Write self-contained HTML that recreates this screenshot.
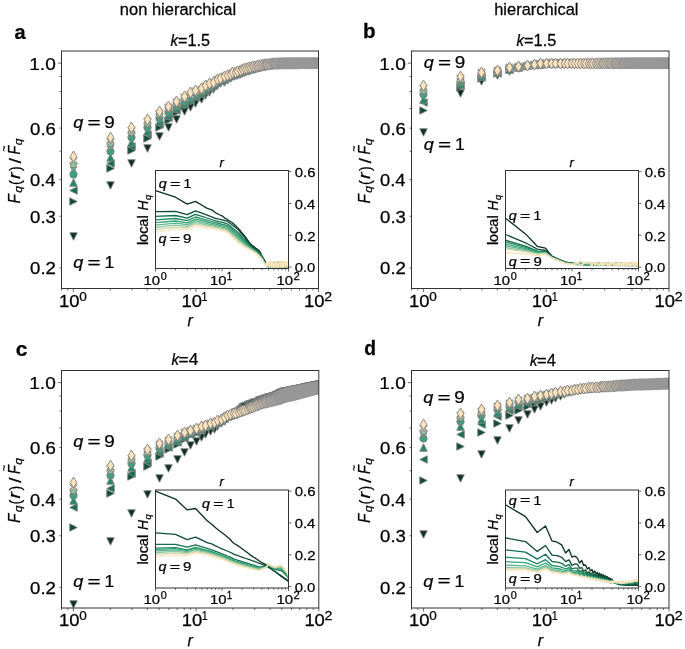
<!DOCTYPE html>
<html><head><meta charset="utf-8"><style>
html,body{margin:0;padding:0;background:#fff;width:685px;height:649px;overflow:hidden;}
svg{display:block;will-change:transform;}
text{font-family:'Liberation Sans',sans-serif;stroke:#000;stroke-width:0.25px;}
</style></head><body>
<svg width="685" height="649" viewBox="0 0 685 649"><defs>
<path id="m0" d="M0,3.75L-3.75,-3.75L3.75,-3.75Z" fill="#0b2f22" stroke="#808080" stroke-width="0.9"/>
<path id="m1" d="M3.75,0L-3.75,-3.75L-3.75,3.75Z" fill="#0d4d35" stroke="#808080" stroke-width="0.9"/>
<path id="m2" d="M-3.75,0L3.75,-3.75L3.75,3.75Z" fill="#15704f" stroke="#808080" stroke-width="0.9"/>
<path id="m3" d="M0,-3.75L-3.75,3.75L3.75,3.75Z" fill="#1f8c61" stroke="#808080" stroke-width="0.9"/>
<path id="m4" d="M3.70,0A3.70,3.70 0 1 0 -3.70,0A3.70,3.70 0 1 0 3.70,0Z" fill="#36a57b" stroke="#808080" stroke-width="0.9"/>
<path id="m5" d="M0.00,-3.75L0.84,-1.16L3.57,-1.16L1.36,0.44L2.20,3.03L0.00,1.43L-2.20,3.03L-1.36,0.44L-3.57,-1.16L-0.84,-1.16Z" fill="#5db58b" stroke="#808080" stroke-width="0.9"/>
<path id="m6" d="M0.00,-3.75L3.57,-1.16L2.20,3.03L-2.20,3.03L-3.57,-1.16Z" fill="#8ec59c" stroke="#808080" stroke-width="0.9"/>
<path id="m7" d="M1.31,0.00L3.75,-2.70L2.70,-3.75L0.00,-1.31L-2.70,-3.75L-3.75,-2.70L-1.31,0.00L-3.75,2.70L-2.70,3.75L0.00,1.31L2.70,3.75L3.75,2.70Z" fill="#c8d8ae" stroke="#808080" stroke-width="0.9"/>
<path id="m8" d="M0,-5.52L3.31,0L0,5.52L-3.31,0Z" fill="#ffe3bb" stroke="#808080" stroke-width="0.9"/>
<clipPath id="clipa"><rect x="61.50" y="51.00" width="257.00" height="237.50"/></clipPath>
<clipPath id="iclipa"><rect x="155.50" y="170.50" width="133.00" height="98.00"/></clipPath>
<clipPath id="clipb"><rect x="411.50" y="51.00" width="257.50" height="237.50"/></clipPath>
<clipPath id="iclipb"><rect x="505.50" y="170.50" width="133.00" height="98.00"/></clipPath>
<clipPath id="clipc"><rect x="61.50" y="370.50" width="257.30" height="237.50"/></clipPath>
<clipPath id="iclipc"><rect x="155.50" y="490.00" width="133.00" height="98.00"/></clipPath>
<clipPath id="clipd"><rect x="411.50" y="370.50" width="257.50" height="237.50"/></clipPath>
<clipPath id="iclipd"><rect x="505.50" y="490.00" width="133.00" height="98.00"/></clipPath>
</defs>
<g clip-path="url(#clipa)">
<use href="#m0" x="73.5" y="236.5"/>
<use href="#m0" x="110.5" y="185.5"/>
<use href="#m0" x="131.5" y="163.5"/>
<use href="#m0" x="147.5" y="148.5"/>
<use href="#m0" x="159.5" y="136.5"/>
<use href="#m0" x="168.5" y="127.5"/>
<use href="#m0" x="176.5" y="119.5"/>
<use href="#m0" x="184.5" y="111.5"/>
<use href="#m0" x="190.5" y="107.5"/>
<use href="#m0" x="195.5" y="103.5"/>
<use href="#m0" x="201.5" y="99.5"/>
<use href="#m0" x="205.5" y="95.5"/>
<use href="#m0" x="209.5" y="92.5"/>
<use href="#m0" x="213.5" y="89.5"/>
<use href="#m0" x="217.5" y="85.5"/>
<use href="#m0" x="220.5" y="83.5"/>
<use href="#m0" x="224.5" y="82.5"/>
<use href="#m0" x="227.5" y="80.5"/>
<use href="#m0" x="230.5" y="78.5"/>
<use href="#m0" x="232.5" y="76.5"/>
<use href="#m0" x="235.5" y="75.5"/>
<use href="#m0" x="237.5" y="75.5"/>
<use href="#m0" x="240.5" y="74.5"/>
<use href="#m0" x="242.5" y="73.5"/>
<use href="#m0" x="244.5" y="72.5"/>
<use href="#m0" x="246.5" y="71.5"/>
<use href="#m0" x="248.5" y="71.5"/>
<use href="#m0" x="250.5" y="70.5"/>
<use href="#m0" x="252.5" y="69.5"/>
<use href="#m0" x="254.5" y="69.5"/>
<use href="#m0" x="256.5" y="68.5"/>
<use href="#m0" x="257.5" y="68.5"/>
<use href="#m0" x="259.5" y="67.5"/>
<use href="#m0" x="261.5" y="67.5"/>
<use href="#m0" x="262.5" y="66.5"/>
<use href="#m0" x="264.5" y="66.5"/>
<use href="#m0" x="265.5" y="66.5"/>
<use href="#m0" x="266.5" y="66.5"/>
<use href="#m0" x="268.5" y="65.5"/>
<use href="#m0" x="269.5" y="65.5"/>
<use href="#m0" x="271.5" y="65.5"/>
<use href="#m0" x="272.5" y="65.5"/>
<use href="#m0" x="273.5" y="64.5"/>
<use href="#m0" x="274.5" y="64.5"/>
<use href="#m0" x="275.5" y="64.5"/>
<use href="#m0" x="277.5" y="64.5"/>
<use href="#m0" x="278.5" y="64.5"/>
<use href="#m0" x="279.5" y="64.5"/>
<use href="#m0" x="280.5" y="64.5"/>
<use href="#m0" x="281.5" y="64.5"/>
<use href="#m0" x="282.5" y="63.5"/>
<use href="#m0" x="283.5" y="63.5"/>
<use href="#m0" x="284.5" y="63.5"/>
<use href="#m0" x="285.5" y="63.5"/>
<use href="#m0" x="286.5" y="63.5"/>
<use href="#m0" x="287.5" y="63.5"/>
<use href="#m0" x="288.5" y="63.5"/>
<use href="#m0" x="289.5" y="63.5"/>
<use href="#m0" x="290.5" y="63.5"/>
<use href="#m0" x="291.5" y="63.5"/>
<use href="#m0" x="292.5" y="63.5"/>
<use href="#m0" x="293.5" y="63.5"/>
<use href="#m0" x="293.5" y="63.5"/>
<use href="#m0" x="294.5" y="63.5"/>
<use href="#m0" x="295.5" y="63.5"/>
<use href="#m0" x="296.5" y="63.5"/>
<use href="#m0" x="297.5" y="63.5"/>
<use href="#m0" x="297.5" y="63.5"/>
<use href="#m0" x="298.5" y="63.5"/>
<use href="#m0" x="299.5" y="63.5"/>
<use href="#m0" x="300.5" y="63.5"/>
<use href="#m0" x="301.5" y="63.5"/>
<use href="#m0" x="301.5" y="63.5"/>
<use href="#m0" x="302.5" y="63.5"/>
<use href="#m0" x="303.5" y="63.5"/>
<use href="#m0" x="303.5" y="63.5"/>
<use href="#m0" x="304.5" y="63.5"/>
<use href="#m0" x="305.5" y="63.5"/>
<use href="#m0" x="305.5" y="63.5"/>
<use href="#m0" x="306.5" y="63.5"/>
<use href="#m0" x="307.5" y="63.5"/>
<use href="#m0" x="307.5" y="63.5"/>
<use href="#m0" x="308.5" y="63.5"/>
<use href="#m0" x="309.5" y="63.5"/>
<use href="#m0" x="309.5" y="63.5"/>
<use href="#m0" x="310.5" y="63.5"/>
<use href="#m0" x="311.5" y="63.5"/>
<use href="#m0" x="311.5" y="63.5"/>
<use href="#m0" x="312.5" y="63.5"/>
<use href="#m0" x="312.5" y="63.5"/>
<use href="#m0" x="313.5" y="63.5"/>
<use href="#m0" x="314.5" y="63.5"/>
<use href="#m0" x="314.5" y="63.5"/>
<use href="#m0" x="315.5" y="63.5"/>
<use href="#m0" x="315.5" y="63.5"/>
<use href="#m0" x="316.5" y="63.5"/>
<use href="#m0" x="316.5" y="63.5"/>
<use href="#m0" x="317.5" y="63.5"/>
<use href="#m0" x="317.5" y="63.5"/>
<use href="#m0" x="318.5" y="63.5"/>
<use href="#m0" x="319.5" y="63.5"/>
<use href="#m0" x="319.5" y="63.5"/>
<use href="#m0" x="320.5" y="63.5"/>
<use href="#m0" x="320.5" y="63.5"/>
<use href="#m0" x="321.5" y="63.5"/>
<use href="#m0" x="321.5" y="63.5"/>
<use href="#m0" x="322.5" y="63.5"/>
<use href="#m0" x="322.5" y="63.5"/>
<use href="#m0" x="323.5" y="63.5"/>
<use href="#m0" x="323.5" y="63.5"/>
<use href="#m1" x="73.5" y="201.5"/>
<use href="#m1" x="110.5" y="168.5"/>
<use href="#m1" x="131.5" y="150.5"/>
<use href="#m1" x="147.5" y="138.5"/>
<use href="#m1" x="159.5" y="127.5"/>
<use href="#m1" x="168.5" y="120.5"/>
<use href="#m1" x="176.5" y="112.5"/>
<use href="#m1" x="184.5" y="106.5"/>
<use href="#m1" x="190.5" y="102.5"/>
<use href="#m1" x="195.5" y="98.5"/>
<use href="#m1" x="201.5" y="95.5"/>
<use href="#m1" x="205.5" y="92.5"/>
<use href="#m1" x="209.5" y="89.5"/>
<use href="#m1" x="213.5" y="86.5"/>
<use href="#m1" x="217.5" y="83.5"/>
<use href="#m1" x="220.5" y="81.5"/>
<use href="#m1" x="224.5" y="80.5"/>
<use href="#m1" x="227.5" y="78.5"/>
<use href="#m1" x="230.5" y="76.5"/>
<use href="#m1" x="232.5" y="75.5"/>
<use href="#m1" x="235.5" y="74.5"/>
<use href="#m1" x="237.5" y="73.5"/>
<use href="#m1" x="240.5" y="72.5"/>
<use href="#m1" x="242.5" y="72.5"/>
<use href="#m1" x="244.5" y="71.5"/>
<use href="#m1" x="246.5" y="70.5"/>
<use href="#m1" x="248.5" y="69.5"/>
<use href="#m1" x="250.5" y="69.5"/>
<use href="#m1" x="252.5" y="68.5"/>
<use href="#m1" x="254.5" y="68.5"/>
<use href="#m1" x="256.5" y="67.5"/>
<use href="#m1" x="257.5" y="67.5"/>
<use href="#m1" x="259.5" y="66.5"/>
<use href="#m1" x="261.5" y="66.5"/>
<use href="#m1" x="262.5" y="66.5"/>
<use href="#m1" x="264.5" y="65.5"/>
<use href="#m1" x="265.5" y="65.5"/>
<use href="#m1" x="266.5" y="65.5"/>
<use href="#m1" x="268.5" y="65.5"/>
<use href="#m1" x="269.5" y="64.5"/>
<use href="#m1" x="271.5" y="64.5"/>
<use href="#m1" x="272.5" y="64.5"/>
<use href="#m1" x="273.5" y="64.5"/>
<use href="#m1" x="274.5" y="64.5"/>
<use href="#m1" x="275.5" y="64.5"/>
<use href="#m1" x="277.5" y="64.5"/>
<use href="#m1" x="278.5" y="64.5"/>
<use href="#m1" x="279.5" y="63.5"/>
<use href="#m1" x="280.5" y="63.5"/>
<use href="#m1" x="281.5" y="63.5"/>
<use href="#m1" x="282.5" y="63.5"/>
<use href="#m1" x="283.5" y="63.5"/>
<use href="#m1" x="284.5" y="63.5"/>
<use href="#m1" x="285.5" y="63.5"/>
<use href="#m1" x="286.5" y="63.5"/>
<use href="#m1" x="287.5" y="63.5"/>
<use href="#m1" x="288.5" y="63.5"/>
<use href="#m1" x="289.5" y="63.5"/>
<use href="#m1" x="290.5" y="63.5"/>
<use href="#m1" x="291.5" y="63.5"/>
<use href="#m1" x="292.5" y="63.5"/>
<use href="#m1" x="293.5" y="63.5"/>
<use href="#m1" x="293.5" y="63.5"/>
<use href="#m1" x="294.5" y="63.5"/>
<use href="#m1" x="295.5" y="63.5"/>
<use href="#m1" x="296.5" y="63.5"/>
<use href="#m1" x="297.5" y="63.5"/>
<use href="#m1" x="297.5" y="63.5"/>
<use href="#m1" x="298.5" y="63.5"/>
<use href="#m1" x="299.5" y="63.5"/>
<use href="#m1" x="300.5" y="63.5"/>
<use href="#m1" x="301.5" y="63.5"/>
<use href="#m1" x="301.5" y="63.5"/>
<use href="#m1" x="302.5" y="63.5"/>
<use href="#m1" x="303.5" y="63.5"/>
<use href="#m1" x="303.5" y="63.5"/>
<use href="#m1" x="304.5" y="63.5"/>
<use href="#m1" x="305.5" y="63.5"/>
<use href="#m1" x="305.5" y="63.5"/>
<use href="#m1" x="306.5" y="63.5"/>
<use href="#m1" x="307.5" y="63.5"/>
<use href="#m1" x="307.5" y="63.5"/>
<use href="#m1" x="308.5" y="63.5"/>
<use href="#m1" x="309.5" y="63.5"/>
<use href="#m1" x="309.5" y="63.5"/>
<use href="#m1" x="310.5" y="63.5"/>
<use href="#m1" x="311.5" y="63.5"/>
<use href="#m1" x="311.5" y="63.5"/>
<use href="#m1" x="312.5" y="63.5"/>
<use href="#m1" x="312.5" y="63.5"/>
<use href="#m1" x="313.5" y="63.5"/>
<use href="#m1" x="314.5" y="63.5"/>
<use href="#m1" x="314.5" y="63.5"/>
<use href="#m1" x="315.5" y="63.5"/>
<use href="#m1" x="315.5" y="63.5"/>
<use href="#m1" x="316.5" y="63.5"/>
<use href="#m1" x="316.5" y="63.5"/>
<use href="#m1" x="317.5" y="63.5"/>
<use href="#m1" x="317.5" y="63.5"/>
<use href="#m1" x="318.5" y="63.5"/>
<use href="#m1" x="319.5" y="63.5"/>
<use href="#m1" x="319.5" y="63.5"/>
<use href="#m1" x="320.5" y="63.5"/>
<use href="#m1" x="320.5" y="63.5"/>
<use href="#m1" x="321.5" y="63.5"/>
<use href="#m1" x="321.5" y="63.5"/>
<use href="#m1" x="322.5" y="63.5"/>
<use href="#m1" x="322.5" y="63.5"/>
<use href="#m1" x="323.5" y="63.5"/>
<use href="#m1" x="323.5" y="63.5"/>
<use href="#m2" x="73.5" y="190.5"/>
<use href="#m2" x="110.5" y="163.5"/>
<use href="#m2" x="131.5" y="146.5"/>
<use href="#m2" x="147.5" y="134.5"/>
<use href="#m2" x="159.5" y="124.5"/>
<use href="#m2" x="168.5" y="117.5"/>
<use href="#m2" x="176.5" y="110.5"/>
<use href="#m2" x="184.5" y="104.5"/>
<use href="#m2" x="190.5" y="100.5"/>
<use href="#m2" x="195.5" y="97.5"/>
<use href="#m2" x="201.5" y="94.5"/>
<use href="#m2" x="205.5" y="91.5"/>
<use href="#m2" x="209.5" y="88.5"/>
<use href="#m2" x="213.5" y="85.5"/>
<use href="#m2" x="217.5" y="82.5"/>
<use href="#m2" x="220.5" y="81.5"/>
<use href="#m2" x="224.5" y="79.5"/>
<use href="#m2" x="227.5" y="77.5"/>
<use href="#m2" x="230.5" y="76.5"/>
<use href="#m2" x="232.5" y="75.5"/>
<use href="#m2" x="235.5" y="74.5"/>
<use href="#m2" x="237.5" y="73.5"/>
<use href="#m2" x="240.5" y="72.5"/>
<use href="#m2" x="242.5" y="71.5"/>
<use href="#m2" x="244.5" y="70.5"/>
<use href="#m2" x="246.5" y="70.5"/>
<use href="#m2" x="248.5" y="69.5"/>
<use href="#m2" x="250.5" y="69.5"/>
<use href="#m2" x="252.5" y="68.5"/>
<use href="#m2" x="254.5" y="67.5"/>
<use href="#m2" x="256.5" y="67.5"/>
<use href="#m2" x="257.5" y="67.5"/>
<use href="#m2" x="259.5" y="66.5"/>
<use href="#m2" x="261.5" y="66.5"/>
<use href="#m2" x="262.5" y="65.5"/>
<use href="#m2" x="264.5" y="65.5"/>
<use href="#m2" x="265.5" y="65.5"/>
<use href="#m2" x="266.5" y="65.5"/>
<use href="#m2" x="268.5" y="65.5"/>
<use href="#m2" x="269.5" y="64.5"/>
<use href="#m2" x="271.5" y="64.5"/>
<use href="#m2" x="272.5" y="64.5"/>
<use href="#m2" x="273.5" y="64.5"/>
<use href="#m2" x="274.5" y="64.5"/>
<use href="#m2" x="275.5" y="64.5"/>
<use href="#m2" x="277.5" y="64.5"/>
<use href="#m2" x="278.5" y="63.5"/>
<use href="#m2" x="279.5" y="63.5"/>
<use href="#m2" x="280.5" y="63.5"/>
<use href="#m2" x="281.5" y="63.5"/>
<use href="#m2" x="282.5" y="63.5"/>
<use href="#m2" x="283.5" y="63.5"/>
<use href="#m2" x="284.5" y="63.5"/>
<use href="#m2" x="285.5" y="63.5"/>
<use href="#m2" x="286.5" y="63.5"/>
<use href="#m2" x="287.5" y="63.5"/>
<use href="#m2" x="288.5" y="63.5"/>
<use href="#m2" x="289.5" y="63.5"/>
<use href="#m2" x="290.5" y="63.5"/>
<use href="#m2" x="291.5" y="63.5"/>
<use href="#m2" x="292.5" y="63.5"/>
<use href="#m2" x="293.5" y="63.5"/>
<use href="#m2" x="293.5" y="63.5"/>
<use href="#m2" x="294.5" y="63.5"/>
<use href="#m2" x="295.5" y="63.5"/>
<use href="#m2" x="296.5" y="63.5"/>
<use href="#m2" x="297.5" y="63.5"/>
<use href="#m2" x="297.5" y="63.5"/>
<use href="#m2" x="298.5" y="63.5"/>
<use href="#m2" x="299.5" y="63.5"/>
<use href="#m2" x="300.5" y="63.5"/>
<use href="#m2" x="301.5" y="63.5"/>
<use href="#m2" x="301.5" y="63.5"/>
<use href="#m2" x="302.5" y="63.5"/>
<use href="#m2" x="303.5" y="63.5"/>
<use href="#m2" x="303.5" y="63.5"/>
<use href="#m2" x="304.5" y="63.5"/>
<use href="#m2" x="305.5" y="63.5"/>
<use href="#m2" x="305.5" y="63.5"/>
<use href="#m2" x="306.5" y="63.5"/>
<use href="#m2" x="307.5" y="63.5"/>
<use href="#m2" x="307.5" y="63.5"/>
<use href="#m2" x="308.5" y="63.5"/>
<use href="#m2" x="309.5" y="63.5"/>
<use href="#m2" x="309.5" y="63.5"/>
<use href="#m2" x="310.5" y="63.5"/>
<use href="#m2" x="311.5" y="63.5"/>
<use href="#m2" x="311.5" y="63.5"/>
<use href="#m2" x="312.5" y="63.5"/>
<use href="#m2" x="312.5" y="63.5"/>
<use href="#m2" x="313.5" y="63.5"/>
<use href="#m2" x="314.5" y="63.5"/>
<use href="#m2" x="314.5" y="63.5"/>
<use href="#m2" x="315.5" y="63.5"/>
<use href="#m2" x="315.5" y="63.5"/>
<use href="#m2" x="316.5" y="63.5"/>
<use href="#m2" x="316.5" y="63.5"/>
<use href="#m2" x="317.5" y="63.5"/>
<use href="#m2" x="317.5" y="63.5"/>
<use href="#m2" x="318.5" y="63.5"/>
<use href="#m2" x="319.5" y="63.5"/>
<use href="#m2" x="319.5" y="63.5"/>
<use href="#m2" x="320.5" y="63.5"/>
<use href="#m2" x="320.5" y="63.5"/>
<use href="#m2" x="321.5" y="63.5"/>
<use href="#m2" x="321.5" y="63.5"/>
<use href="#m2" x="322.5" y="63.5"/>
<use href="#m2" x="322.5" y="63.5"/>
<use href="#m2" x="323.5" y="63.5"/>
<use href="#m2" x="323.5" y="63.5"/>
<use href="#m3" x="73.5" y="182.5"/>
<use href="#m3" x="110.5" y="157.5"/>
<use href="#m3" x="131.5" y="142.5"/>
<use href="#m3" x="147.5" y="131.5"/>
<use href="#m3" x="159.5" y="121.5"/>
<use href="#m3" x="168.5" y="115.5"/>
<use href="#m3" x="176.5" y="108.5"/>
<use href="#m3" x="184.5" y="103.5"/>
<use href="#m3" x="190.5" y="99.5"/>
<use href="#m3" x="195.5" y="95.5"/>
<use href="#m3" x="201.5" y="93.5"/>
<use href="#m3" x="205.5" y="90.5"/>
<use href="#m3" x="209.5" y="87.5"/>
<use href="#m3" x="213.5" y="85.5"/>
<use href="#m3" x="217.5" y="82.5"/>
<use href="#m3" x="220.5" y="80.5"/>
<use href="#m3" x="224.5" y="78.5"/>
<use href="#m3" x="227.5" y="77.5"/>
<use href="#m3" x="230.5" y="75.5"/>
<use href="#m3" x="232.5" y="74.5"/>
<use href="#m3" x="235.5" y="73.5"/>
<use href="#m3" x="237.5" y="72.5"/>
<use href="#m3" x="240.5" y="71.5"/>
<use href="#m3" x="242.5" y="71.5"/>
<use href="#m3" x="244.5" y="70.5"/>
<use href="#m3" x="246.5" y="69.5"/>
<use href="#m3" x="248.5" y="69.5"/>
<use href="#m3" x="250.5" y="68.5"/>
<use href="#m3" x="252.5" y="68.5"/>
<use href="#m3" x="254.5" y="67.5"/>
<use href="#m3" x="256.5" y="67.5"/>
<use href="#m3" x="257.5" y="66.5"/>
<use href="#m3" x="259.5" y="66.5"/>
<use href="#m3" x="261.5" y="66.5"/>
<use href="#m3" x="262.5" y="65.5"/>
<use href="#m3" x="264.5" y="65.5"/>
<use href="#m3" x="265.5" y="65.5"/>
<use href="#m3" x="266.5" y="65.5"/>
<use href="#m3" x="268.5" y="64.5"/>
<use href="#m3" x="269.5" y="64.5"/>
<use href="#m3" x="271.5" y="64.5"/>
<use href="#m3" x="272.5" y="64.5"/>
<use href="#m3" x="273.5" y="64.5"/>
<use href="#m3" x="274.5" y="64.5"/>
<use href="#m3" x="275.5" y="64.5"/>
<use href="#m3" x="277.5" y="63.5"/>
<use href="#m3" x="278.5" y="63.5"/>
<use href="#m3" x="279.5" y="63.5"/>
<use href="#m3" x="280.5" y="63.5"/>
<use href="#m3" x="281.5" y="63.5"/>
<use href="#m3" x="282.5" y="63.5"/>
<use href="#m3" x="283.5" y="63.5"/>
<use href="#m3" x="284.5" y="63.5"/>
<use href="#m3" x="285.5" y="63.5"/>
<use href="#m3" x="286.5" y="63.5"/>
<use href="#m3" x="287.5" y="63.5"/>
<use href="#m3" x="288.5" y="63.5"/>
<use href="#m3" x="289.5" y="63.5"/>
<use href="#m3" x="290.5" y="63.5"/>
<use href="#m3" x="291.5" y="63.5"/>
<use href="#m3" x="292.5" y="63.5"/>
<use href="#m3" x="293.5" y="63.5"/>
<use href="#m3" x="293.5" y="63.5"/>
<use href="#m3" x="294.5" y="63.5"/>
<use href="#m3" x="295.5" y="63.5"/>
<use href="#m3" x="296.5" y="63.5"/>
<use href="#m3" x="297.5" y="63.5"/>
<use href="#m3" x="297.5" y="63.5"/>
<use href="#m3" x="298.5" y="63.5"/>
<use href="#m3" x="299.5" y="63.5"/>
<use href="#m3" x="300.5" y="63.5"/>
<use href="#m3" x="301.5" y="63.5"/>
<use href="#m3" x="301.5" y="63.5"/>
<use href="#m3" x="302.5" y="63.5"/>
<use href="#m3" x="303.5" y="63.5"/>
<use href="#m3" x="303.5" y="63.5"/>
<use href="#m3" x="304.5" y="63.5"/>
<use href="#m3" x="305.5" y="63.5"/>
<use href="#m3" x="305.5" y="63.5"/>
<use href="#m3" x="306.5" y="63.5"/>
<use href="#m3" x="307.5" y="63.5"/>
<use href="#m3" x="307.5" y="63.5"/>
<use href="#m3" x="308.5" y="63.5"/>
<use href="#m3" x="309.5" y="63.5"/>
<use href="#m3" x="309.5" y="63.5"/>
<use href="#m3" x="310.5" y="63.5"/>
<use href="#m3" x="311.5" y="63.5"/>
<use href="#m3" x="311.5" y="63.5"/>
<use href="#m3" x="312.5" y="63.5"/>
<use href="#m3" x="312.5" y="63.5"/>
<use href="#m3" x="313.5" y="63.5"/>
<use href="#m3" x="314.5" y="63.5"/>
<use href="#m3" x="314.5" y="63.5"/>
<use href="#m3" x="315.5" y="63.5"/>
<use href="#m3" x="315.5" y="63.5"/>
<use href="#m3" x="316.5" y="63.5"/>
<use href="#m3" x="316.5" y="63.5"/>
<use href="#m3" x="317.5" y="63.5"/>
<use href="#m3" x="317.5" y="63.5"/>
<use href="#m3" x="318.5" y="63.5"/>
<use href="#m3" x="319.5" y="63.5"/>
<use href="#m3" x="319.5" y="63.5"/>
<use href="#m3" x="320.5" y="63.5"/>
<use href="#m3" x="320.5" y="63.5"/>
<use href="#m3" x="321.5" y="63.5"/>
<use href="#m3" x="321.5" y="63.5"/>
<use href="#m3" x="322.5" y="63.5"/>
<use href="#m3" x="322.5" y="63.5"/>
<use href="#m3" x="323.5" y="63.5"/>
<use href="#m3" x="323.5" y="63.5"/>
<use href="#m4" x="73.5" y="174.5"/>
<use href="#m4" x="110.5" y="151.5"/>
<use href="#m4" x="131.5" y="137.5"/>
<use href="#m4" x="147.5" y="127.5"/>
<use href="#m4" x="159.5" y="118.5"/>
<use href="#m4" x="168.5" y="112.5"/>
<use href="#m4" x="176.5" y="106.5"/>
<use href="#m4" x="184.5" y="101.5"/>
<use href="#m4" x="190.5" y="97.5"/>
<use href="#m4" x="195.5" y="94.5"/>
<use href="#m4" x="201.5" y="91.5"/>
<use href="#m4" x="205.5" y="88.5"/>
<use href="#m4" x="209.5" y="86.5"/>
<use href="#m4" x="213.5" y="84.5"/>
<use href="#m4" x="217.5" y="81.5"/>
<use href="#m4" x="220.5" y="79.5"/>
<use href="#m4" x="224.5" y="78.5"/>
<use href="#m4" x="227.5" y="76.5"/>
<use href="#m4" x="230.5" y="75.5"/>
<use href="#m4" x="232.5" y="73.5"/>
<use href="#m4" x="235.5" y="73.5"/>
<use href="#m4" x="237.5" y="72.5"/>
<use href="#m4" x="240.5" y="71.5"/>
<use href="#m4" x="242.5" y="70.5"/>
<use href="#m4" x="244.5" y="69.5"/>
<use href="#m4" x="246.5" y="69.5"/>
<use href="#m4" x="248.5" y="68.5"/>
<use href="#m4" x="250.5" y="68.5"/>
<use href="#m4" x="252.5" y="67.5"/>
<use href="#m4" x="254.5" y="67.5"/>
<use href="#m4" x="256.5" y="66.5"/>
<use href="#m4" x="257.5" y="66.5"/>
<use href="#m4" x="259.5" y="66.5"/>
<use href="#m4" x="261.5" y="65.5"/>
<use href="#m4" x="262.5" y="65.5"/>
<use href="#m4" x="264.5" y="65.5"/>
<use href="#m4" x="265.5" y="65.5"/>
<use href="#m4" x="266.5" y="64.5"/>
<use href="#m4" x="268.5" y="64.5"/>
<use href="#m4" x="269.5" y="64.5"/>
<use href="#m4" x="271.5" y="64.5"/>
<use href="#m4" x="272.5" y="64.5"/>
<use href="#m4" x="273.5" y="64.5"/>
<use href="#m4" x="274.5" y="64.5"/>
<use href="#m4" x="275.5" y="63.5"/>
<use href="#m4" x="277.5" y="63.5"/>
<use href="#m4" x="278.5" y="63.5"/>
<use href="#m4" x="279.5" y="63.5"/>
<use href="#m4" x="280.5" y="63.5"/>
<use href="#m4" x="281.5" y="63.5"/>
<use href="#m4" x="282.5" y="63.5"/>
<use href="#m4" x="283.5" y="63.5"/>
<use href="#m4" x="284.5" y="63.5"/>
<use href="#m4" x="285.5" y="63.5"/>
<use href="#m4" x="286.5" y="63.5"/>
<use href="#m4" x="287.5" y="63.5"/>
<use href="#m4" x="288.5" y="63.5"/>
<use href="#m4" x="289.5" y="63.5"/>
<use href="#m4" x="290.5" y="63.5"/>
<use href="#m4" x="291.5" y="63.5"/>
<use href="#m4" x="292.5" y="63.5"/>
<use href="#m4" x="293.5" y="63.5"/>
<use href="#m4" x="293.5" y="63.5"/>
<use href="#m4" x="294.5" y="63.5"/>
<use href="#m4" x="295.5" y="63.5"/>
<use href="#m4" x="296.5" y="63.5"/>
<use href="#m4" x="297.5" y="63.5"/>
<use href="#m4" x="297.5" y="63.5"/>
<use href="#m4" x="298.5" y="63.5"/>
<use href="#m4" x="299.5" y="63.5"/>
<use href="#m4" x="300.5" y="63.5"/>
<use href="#m4" x="301.5" y="63.5"/>
<use href="#m4" x="301.5" y="63.5"/>
<use href="#m4" x="302.5" y="63.5"/>
<use href="#m4" x="303.5" y="63.5"/>
<use href="#m4" x="303.5" y="63.5"/>
<use href="#m4" x="304.5" y="63.5"/>
<use href="#m4" x="305.5" y="63.5"/>
<use href="#m4" x="305.5" y="63.5"/>
<use href="#m4" x="306.5" y="63.5"/>
<use href="#m4" x="307.5" y="63.5"/>
<use href="#m4" x="307.5" y="63.5"/>
<use href="#m4" x="308.5" y="63.5"/>
<use href="#m4" x="309.5" y="63.5"/>
<use href="#m4" x="309.5" y="63.5"/>
<use href="#m4" x="310.5" y="63.5"/>
<use href="#m4" x="311.5" y="63.5"/>
<use href="#m4" x="311.5" y="63.5"/>
<use href="#m4" x="312.5" y="63.5"/>
<use href="#m4" x="312.5" y="63.5"/>
<use href="#m4" x="313.5" y="63.5"/>
<use href="#m4" x="314.5" y="63.5"/>
<use href="#m4" x="314.5" y="63.5"/>
<use href="#m4" x="315.5" y="63.5"/>
<use href="#m4" x="315.5" y="63.5"/>
<use href="#m4" x="316.5" y="63.5"/>
<use href="#m4" x="316.5" y="63.5"/>
<use href="#m4" x="317.5" y="63.5"/>
<use href="#m4" x="317.5" y="63.5"/>
<use href="#m4" x="318.5" y="63.5"/>
<use href="#m4" x="319.5" y="63.5"/>
<use href="#m4" x="319.5" y="63.5"/>
<use href="#m4" x="320.5" y="63.5"/>
<use href="#m4" x="320.5" y="63.5"/>
<use href="#m4" x="321.5" y="63.5"/>
<use href="#m4" x="321.5" y="63.5"/>
<use href="#m4" x="322.5" y="63.5"/>
<use href="#m4" x="322.5" y="63.5"/>
<use href="#m4" x="323.5" y="63.5"/>
<use href="#m4" x="323.5" y="63.5"/>
<use href="#m5" x="73.5" y="168.5"/>
<use href="#m5" x="110.5" y="147.5"/>
<use href="#m5" x="131.5" y="134.5"/>
<use href="#m5" x="147.5" y="125.5"/>
<use href="#m5" x="159.5" y="116.5"/>
<use href="#m5" x="168.5" y="110.5"/>
<use href="#m5" x="176.5" y="105.5"/>
<use href="#m5" x="184.5" y="99.5"/>
<use href="#m5" x="190.5" y="95.5"/>
<use href="#m5" x="195.5" y="93.5"/>
<use href="#m5" x="201.5" y="90.5"/>
<use href="#m5" x="205.5" y="87.5"/>
<use href="#m5" x="209.5" y="85.5"/>
<use href="#m5" x="213.5" y="83.5"/>
<use href="#m5" x="217.5" y="80.5"/>
<use href="#m5" x="220.5" y="79.5"/>
<use href="#m5" x="224.5" y="77.5"/>
<use href="#m5" x="227.5" y="76.5"/>
<use href="#m5" x="230.5" y="74.5"/>
<use href="#m5" x="232.5" y="73.5"/>
<use href="#m5" x="235.5" y="72.5"/>
<use href="#m5" x="237.5" y="71.5"/>
<use href="#m5" x="240.5" y="71.5"/>
<use href="#m5" x="242.5" y="70.5"/>
<use href="#m5" x="244.5" y="69.5"/>
<use href="#m5" x="246.5" y="69.5"/>
<use href="#m5" x="248.5" y="68.5"/>
<use href="#m5" x="250.5" y="67.5"/>
<use href="#m5" x="252.5" y="67.5"/>
<use href="#m5" x="254.5" y="66.5"/>
<use href="#m5" x="256.5" y="66.5"/>
<use href="#m5" x="257.5" y="66.5"/>
<use href="#m5" x="259.5" y="65.5"/>
<use href="#m5" x="261.5" y="65.5"/>
<use href="#m5" x="262.5" y="65.5"/>
<use href="#m5" x="264.5" y="65.5"/>
<use href="#m5" x="265.5" y="64.5"/>
<use href="#m5" x="266.5" y="64.5"/>
<use href="#m5" x="268.5" y="64.5"/>
<use href="#m5" x="269.5" y="64.5"/>
<use href="#m5" x="271.5" y="64.5"/>
<use href="#m5" x="272.5" y="64.5"/>
<use href="#m5" x="273.5" y="64.5"/>
<use href="#m5" x="274.5" y="63.5"/>
<use href="#m5" x="275.5" y="63.5"/>
<use href="#m5" x="277.5" y="63.5"/>
<use href="#m5" x="278.5" y="63.5"/>
<use href="#m5" x="279.5" y="63.5"/>
<use href="#m5" x="280.5" y="63.5"/>
<use href="#m5" x="281.5" y="63.5"/>
<use href="#m5" x="282.5" y="63.5"/>
<use href="#m5" x="283.5" y="63.5"/>
<use href="#m5" x="284.5" y="63.5"/>
<use href="#m5" x="285.5" y="63.5"/>
<use href="#m5" x="286.5" y="63.5"/>
<use href="#m5" x="287.5" y="63.5"/>
<use href="#m5" x="288.5" y="63.5"/>
<use href="#m5" x="289.5" y="63.5"/>
<use href="#m5" x="290.5" y="63.5"/>
<use href="#m5" x="291.5" y="63.5"/>
<use href="#m5" x="292.5" y="63.5"/>
<use href="#m5" x="293.5" y="63.5"/>
<use href="#m5" x="293.5" y="63.5"/>
<use href="#m5" x="294.5" y="63.5"/>
<use href="#m5" x="295.5" y="63.5"/>
<use href="#m5" x="296.5" y="63.5"/>
<use href="#m5" x="297.5" y="63.5"/>
<use href="#m5" x="297.5" y="63.5"/>
<use href="#m5" x="298.5" y="63.5"/>
<use href="#m5" x="299.5" y="63.5"/>
<use href="#m5" x="300.5" y="63.5"/>
<use href="#m5" x="301.5" y="63.5"/>
<use href="#m5" x="301.5" y="63.5"/>
<use href="#m5" x="302.5" y="63.5"/>
<use href="#m5" x="303.5" y="63.5"/>
<use href="#m5" x="303.5" y="63.5"/>
<use href="#m5" x="304.5" y="63.5"/>
<use href="#m5" x="305.5" y="63.5"/>
<use href="#m5" x="305.5" y="63.5"/>
<use href="#m5" x="306.5" y="63.5"/>
<use href="#m5" x="307.5" y="63.5"/>
<use href="#m5" x="307.5" y="63.5"/>
<use href="#m5" x="308.5" y="63.5"/>
<use href="#m5" x="309.5" y="63.5"/>
<use href="#m5" x="309.5" y="63.5"/>
<use href="#m5" x="310.5" y="63.5"/>
<use href="#m5" x="311.5" y="63.5"/>
<use href="#m5" x="311.5" y="63.5"/>
<use href="#m5" x="312.5" y="63.5"/>
<use href="#m5" x="312.5" y="63.5"/>
<use href="#m5" x="313.5" y="63.5"/>
<use href="#m5" x="314.5" y="63.5"/>
<use href="#m5" x="314.5" y="63.5"/>
<use href="#m5" x="315.5" y="63.5"/>
<use href="#m5" x="315.5" y="63.5"/>
<use href="#m5" x="316.5" y="63.5"/>
<use href="#m5" x="316.5" y="63.5"/>
<use href="#m5" x="317.5" y="63.5"/>
<use href="#m5" x="317.5" y="63.5"/>
<use href="#m5" x="318.5" y="63.5"/>
<use href="#m5" x="319.5" y="63.5"/>
<use href="#m5" x="319.5" y="63.5"/>
<use href="#m5" x="320.5" y="63.5"/>
<use href="#m5" x="320.5" y="63.5"/>
<use href="#m5" x="321.5" y="63.5"/>
<use href="#m5" x="321.5" y="63.5"/>
<use href="#m5" x="322.5" y="63.5"/>
<use href="#m5" x="322.5" y="63.5"/>
<use href="#m5" x="323.5" y="63.5"/>
<use href="#m5" x="323.5" y="63.5"/>
<use href="#m6" x="73.5" y="164.5"/>
<use href="#m6" x="110.5" y="143.5"/>
<use href="#m6" x="131.5" y="132.5"/>
<use href="#m6" x="147.5" y="123.5"/>
<use href="#m6" x="159.5" y="114.5"/>
<use href="#m6" x="168.5" y="108.5"/>
<use href="#m6" x="176.5" y="103.5"/>
<use href="#m6" x="184.5" y="98.5"/>
<use href="#m6" x="190.5" y="94.5"/>
<use href="#m6" x="195.5" y="92.5"/>
<use href="#m6" x="201.5" y="90.5"/>
<use href="#m6" x="205.5" y="87.5"/>
<use href="#m6" x="209.5" y="84.5"/>
<use href="#m6" x="213.5" y="83.5"/>
<use href="#m6" x="217.5" y="80.5"/>
<use href="#m6" x="220.5" y="78.5"/>
<use href="#m6" x="224.5" y="77.5"/>
<use href="#m6" x="227.5" y="75.5"/>
<use href="#m6" x="230.5" y="74.5"/>
<use href="#m6" x="232.5" y="73.5"/>
<use href="#m6" x="235.5" y="72.5"/>
<use href="#m6" x="237.5" y="71.5"/>
<use href="#m6" x="240.5" y="70.5"/>
<use href="#m6" x="242.5" y="70.5"/>
<use href="#m6" x="244.5" y="69.5"/>
<use href="#m6" x="246.5" y="68.5"/>
<use href="#m6" x="248.5" y="68.5"/>
<use href="#m6" x="250.5" y="67.5"/>
<use href="#m6" x="252.5" y="67.5"/>
<use href="#m6" x="254.5" y="66.5"/>
<use href="#m6" x="256.5" y="66.5"/>
<use href="#m6" x="257.5" y="66.5"/>
<use href="#m6" x="259.5" y="65.5"/>
<use href="#m6" x="261.5" y="65.5"/>
<use href="#m6" x="262.5" y="65.5"/>
<use href="#m6" x="264.5" y="64.5"/>
<use href="#m6" x="265.5" y="64.5"/>
<use href="#m6" x="266.5" y="64.5"/>
<use href="#m6" x="268.5" y="64.5"/>
<use href="#m6" x="269.5" y="64.5"/>
<use href="#m6" x="271.5" y="64.5"/>
<use href="#m6" x="272.5" y="64.5"/>
<use href="#m6" x="273.5" y="63.5"/>
<use href="#m6" x="274.5" y="63.5"/>
<use href="#m6" x="275.5" y="63.5"/>
<use href="#m6" x="277.5" y="63.5"/>
<use href="#m6" x="278.5" y="63.5"/>
<use href="#m6" x="279.5" y="63.5"/>
<use href="#m6" x="280.5" y="63.5"/>
<use href="#m6" x="281.5" y="63.5"/>
<use href="#m6" x="282.5" y="63.5"/>
<use href="#m6" x="283.5" y="63.5"/>
<use href="#m6" x="284.5" y="63.5"/>
<use href="#m6" x="285.5" y="63.5"/>
<use href="#m6" x="286.5" y="63.5"/>
<use href="#m6" x="287.5" y="63.5"/>
<use href="#m6" x="288.5" y="63.5"/>
<use href="#m6" x="289.5" y="63.5"/>
<use href="#m6" x="290.5" y="63.5"/>
<use href="#m6" x="291.5" y="63.5"/>
<use href="#m6" x="292.5" y="63.5"/>
<use href="#m6" x="293.5" y="63.5"/>
<use href="#m6" x="293.5" y="63.5"/>
<use href="#m6" x="294.5" y="63.5"/>
<use href="#m6" x="295.5" y="63.5"/>
<use href="#m6" x="296.5" y="63.5"/>
<use href="#m6" x="297.5" y="63.5"/>
<use href="#m6" x="297.5" y="63.5"/>
<use href="#m6" x="298.5" y="63.5"/>
<use href="#m6" x="299.5" y="63.5"/>
<use href="#m6" x="300.5" y="63.5"/>
<use href="#m6" x="301.5" y="63.5"/>
<use href="#m6" x="301.5" y="63.5"/>
<use href="#m6" x="302.5" y="63.5"/>
<use href="#m6" x="303.5" y="63.5"/>
<use href="#m6" x="303.5" y="63.5"/>
<use href="#m6" x="304.5" y="63.5"/>
<use href="#m6" x="305.5" y="63.5"/>
<use href="#m6" x="305.5" y="63.5"/>
<use href="#m6" x="306.5" y="63.5"/>
<use href="#m6" x="307.5" y="63.5"/>
<use href="#m6" x="307.5" y="63.5"/>
<use href="#m6" x="308.5" y="63.5"/>
<use href="#m6" x="309.5" y="63.5"/>
<use href="#m6" x="309.5" y="63.5"/>
<use href="#m6" x="310.5" y="63.5"/>
<use href="#m6" x="311.5" y="63.5"/>
<use href="#m6" x="311.5" y="63.5"/>
<use href="#m6" x="312.5" y="63.5"/>
<use href="#m6" x="312.5" y="63.5"/>
<use href="#m6" x="313.5" y="63.5"/>
<use href="#m6" x="314.5" y="63.5"/>
<use href="#m6" x="314.5" y="63.5"/>
<use href="#m6" x="315.5" y="63.5"/>
<use href="#m6" x="315.5" y="63.5"/>
<use href="#m6" x="316.5" y="63.5"/>
<use href="#m6" x="316.5" y="63.5"/>
<use href="#m6" x="317.5" y="63.5"/>
<use href="#m6" x="317.5" y="63.5"/>
<use href="#m6" x="318.5" y="63.5"/>
<use href="#m6" x="319.5" y="63.5"/>
<use href="#m6" x="319.5" y="63.5"/>
<use href="#m6" x="320.5" y="63.5"/>
<use href="#m6" x="320.5" y="63.5"/>
<use href="#m6" x="321.5" y="63.5"/>
<use href="#m6" x="321.5" y="63.5"/>
<use href="#m6" x="322.5" y="63.5"/>
<use href="#m6" x="322.5" y="63.5"/>
<use href="#m6" x="323.5" y="63.5"/>
<use href="#m6" x="323.5" y="63.5"/>
<use href="#m7" x="73.5" y="160.5"/>
<use href="#m7" x="110.5" y="141.5"/>
<use href="#m7" x="131.5" y="130.5"/>
<use href="#m7" x="147.5" y="121.5"/>
<use href="#m7" x="159.5" y="113.5"/>
<use href="#m7" x="168.5" y="107.5"/>
<use href="#m7" x="176.5" y="102.5"/>
<use href="#m7" x="184.5" y="97.5"/>
<use href="#m7" x="190.5" y="94.5"/>
<use href="#m7" x="195.5" y="91.5"/>
<use href="#m7" x="201.5" y="89.5"/>
<use href="#m7" x="205.5" y="86.5"/>
<use href="#m7" x="209.5" y="84.5"/>
<use href="#m7" x="213.5" y="82.5"/>
<use href="#m7" x="217.5" y="79.5"/>
<use href="#m7" x="220.5" y="78.5"/>
<use href="#m7" x="224.5" y="76.5"/>
<use href="#m7" x="227.5" y="75.5"/>
<use href="#m7" x="230.5" y="74.5"/>
<use href="#m7" x="232.5" y="73.5"/>
<use href="#m7" x="235.5" y="72.5"/>
<use href="#m7" x="237.5" y="71.5"/>
<use href="#m7" x="240.5" y="70.5"/>
<use href="#m7" x="242.5" y="69.5"/>
<use href="#m7" x="244.5" y="69.5"/>
<use href="#m7" x="246.5" y="68.5"/>
<use href="#m7" x="248.5" y="68.5"/>
<use href="#m7" x="250.5" y="67.5"/>
<use href="#m7" x="252.5" y="67.5"/>
<use href="#m7" x="254.5" y="66.5"/>
<use href="#m7" x="256.5" y="66.5"/>
<use href="#m7" x="257.5" y="65.5"/>
<use href="#m7" x="259.5" y="65.5"/>
<use href="#m7" x="261.5" y="65.5"/>
<use href="#m7" x="262.5" y="65.5"/>
<use href="#m7" x="264.5" y="64.5"/>
<use href="#m7" x="265.5" y="64.5"/>
<use href="#m7" x="266.5" y="64.5"/>
<use href="#m7" x="268.5" y="64.5"/>
<use href="#m7" x="269.5" y="64.5"/>
<use href="#m7" x="271.5" y="64.5"/>
<use href="#m7" x="272.5" y="63.5"/>
<use href="#m7" x="273.5" y="63.5"/>
<use href="#m7" x="274.5" y="63.5"/>
<use href="#m7" x="275.5" y="63.5"/>
<use href="#m7" x="277.5" y="63.5"/>
<use href="#m7" x="278.5" y="63.5"/>
<use href="#m7" x="279.5" y="63.5"/>
<use href="#m7" x="280.5" y="63.5"/>
<use href="#m7" x="281.5" y="63.5"/>
<use href="#m7" x="282.5" y="63.5"/>
<use href="#m7" x="283.5" y="63.5"/>
<use href="#m7" x="284.5" y="63.5"/>
<use href="#m7" x="285.5" y="63.5"/>
<use href="#m7" x="286.5" y="63.5"/>
<use href="#m7" x="287.5" y="63.5"/>
<use href="#m7" x="288.5" y="63.5"/>
<use href="#m7" x="289.5" y="63.5"/>
<use href="#m7" x="290.5" y="63.5"/>
<use href="#m7" x="291.5" y="63.5"/>
<use href="#m7" x="292.5" y="63.5"/>
<use href="#m7" x="293.5" y="63.5"/>
<use href="#m7" x="293.5" y="63.5"/>
<use href="#m7" x="294.5" y="63.5"/>
<use href="#m7" x="295.5" y="63.5"/>
<use href="#m7" x="296.5" y="63.5"/>
<use href="#m7" x="297.5" y="63.5"/>
<use href="#m7" x="297.5" y="63.5"/>
<use href="#m7" x="298.5" y="63.5"/>
<use href="#m7" x="299.5" y="63.5"/>
<use href="#m7" x="300.5" y="63.5"/>
<use href="#m7" x="301.5" y="63.5"/>
<use href="#m7" x="301.5" y="63.5"/>
<use href="#m7" x="302.5" y="63.5"/>
<use href="#m7" x="303.5" y="63.5"/>
<use href="#m7" x="303.5" y="63.5"/>
<use href="#m7" x="304.5" y="63.5"/>
<use href="#m7" x="305.5" y="63.5"/>
<use href="#m7" x="305.5" y="63.5"/>
<use href="#m7" x="306.5" y="63.5"/>
<use href="#m7" x="307.5" y="63.5"/>
<use href="#m7" x="307.5" y="63.5"/>
<use href="#m7" x="308.5" y="63.5"/>
<use href="#m7" x="309.5" y="63.5"/>
<use href="#m7" x="309.5" y="63.5"/>
<use href="#m7" x="310.5" y="63.5"/>
<use href="#m7" x="311.5" y="63.5"/>
<use href="#m7" x="311.5" y="63.5"/>
<use href="#m7" x="312.5" y="63.5"/>
<use href="#m7" x="312.5" y="63.5"/>
<use href="#m7" x="313.5" y="63.5"/>
<use href="#m7" x="314.5" y="63.5"/>
<use href="#m7" x="314.5" y="63.5"/>
<use href="#m7" x="315.5" y="63.5"/>
<use href="#m7" x="315.5" y="63.5"/>
<use href="#m7" x="316.5" y="63.5"/>
<use href="#m7" x="316.5" y="63.5"/>
<use href="#m7" x="317.5" y="63.5"/>
<use href="#m7" x="317.5" y="63.5"/>
<use href="#m7" x="318.5" y="63.5"/>
<use href="#m7" x="319.5" y="63.5"/>
<use href="#m7" x="319.5" y="63.5"/>
<use href="#m7" x="320.5" y="63.5"/>
<use href="#m7" x="320.5" y="63.5"/>
<use href="#m7" x="321.5" y="63.5"/>
<use href="#m7" x="321.5" y="63.5"/>
<use href="#m7" x="322.5" y="63.5"/>
<use href="#m7" x="322.5" y="63.5"/>
<use href="#m7" x="323.5" y="63.5"/>
<use href="#m7" x="323.5" y="63.5"/>
<use href="#m8" x="73.5" y="156.5"/>
<use href="#m8" x="110.5" y="137.5"/>
<use href="#m8" x="131.5" y="127.5"/>
<use href="#m8" x="147.5" y="119.5"/>
<use href="#m8" x="159.5" y="111.5"/>
<use href="#m8" x="168.5" y="106.5"/>
<use href="#m8" x="176.5" y="101.5"/>
<use href="#m8" x="184.5" y="96.5"/>
<use href="#m8" x="190.5" y="92.5"/>
<use href="#m8" x="195.5" y="90.5"/>
<use href="#m8" x="201.5" y="88.5"/>
<use href="#m8" x="205.5" y="85.5"/>
<use href="#m8" x="209.5" y="83.5"/>
<use href="#m8" x="213.5" y="82.5"/>
<use href="#m8" x="217.5" y="79.5"/>
<use href="#m8" x="220.5" y="78.5"/>
<use href="#m8" x="224.5" y="76.5"/>
<use href="#m8" x="227.5" y="75.5"/>
<use href="#m8" x="230.5" y="74.5"/>
<use href="#m8" x="232.5" y="72.5"/>
<use href="#m8" x="235.5" y="72.5"/>
<use href="#m8" x="237.5" y="71.5"/>
<use href="#m8" x="240.5" y="70.5"/>
<use href="#m8" x="242.5" y="69.5"/>
<use href="#m8" x="244.5" y="68.5"/>
<use href="#m8" x="246.5" y="68.5"/>
<use href="#m8" x="248.5" y="67.5"/>
<use href="#m8" x="250.5" y="67.5"/>
<use href="#m8" x="252.5" y="66.5"/>
<use href="#m8" x="254.5" y="66.5"/>
<use href="#m8" x="256.5" y="66.5"/>
<use href="#m8" x="257.5" y="65.5"/>
<use href="#m8" x="259.5" y="65.5"/>
<use href="#m8" x="261.5" y="65.5"/>
<use href="#m8" x="262.5" y="64.5"/>
<use href="#m8" x="264.5" y="64.5"/>
<use href="#m8" x="265.5" y="64.5"/>
<use href="#m8" x="266.5" y="64.5"/>
<use href="#m8" x="268.5" y="64.5"/>
<use href="#m8" x="269.5" y="64.5"/>
<use href="#m8" x="271.5" y="63.5"/>
<use href="#m8" x="272.5" y="63.5"/>
<use href="#m8" x="273.5" y="63.5"/>
<use href="#m8" x="274.5" y="63.5"/>
<use href="#m8" x="275.5" y="63.5"/>
<use href="#m8" x="277.5" y="63.5"/>
<use href="#m8" x="278.5" y="63.5"/>
<use href="#m8" x="279.5" y="63.5"/>
<use href="#m8" x="280.5" y="63.5"/>
<use href="#m8" x="281.5" y="63.5"/>
<use href="#m8" x="282.5" y="63.5"/>
<use href="#m8" x="283.5" y="63.5"/>
<use href="#m8" x="284.5" y="63.5"/>
<use href="#m8" x="285.5" y="63.5"/>
<use href="#m8" x="286.5" y="63.5"/>
<use href="#m8" x="287.5" y="63.5"/>
<use href="#m8" x="288.5" y="63.5"/>
<use href="#m8" x="289.5" y="63.5"/>
<use href="#m8" x="290.5" y="63.5"/>
<use href="#m8" x="291.5" y="63.5"/>
<use href="#m8" x="292.5" y="63.5"/>
<use href="#m8" x="293.5" y="63.5"/>
<use href="#m8" x="293.5" y="63.5"/>
<use href="#m8" x="294.5" y="63.5"/>
<use href="#m8" x="295.5" y="63.5"/>
<use href="#m8" x="296.5" y="63.5"/>
<use href="#m8" x="297.5" y="63.5"/>
<use href="#m8" x="297.5" y="63.5"/>
<use href="#m8" x="298.5" y="63.5"/>
<use href="#m8" x="299.5" y="63.5"/>
<use href="#m8" x="300.5" y="63.5"/>
<use href="#m8" x="301.5" y="63.5"/>
<use href="#m8" x="301.5" y="63.5"/>
<use href="#m8" x="302.5" y="63.5"/>
<use href="#m8" x="303.5" y="63.5"/>
<use href="#m8" x="303.5" y="63.5"/>
<use href="#m8" x="304.5" y="63.5"/>
<use href="#m8" x="305.5" y="63.5"/>
<use href="#m8" x="305.5" y="63.5"/>
<use href="#m8" x="306.5" y="63.5"/>
<use href="#m8" x="307.5" y="63.5"/>
<use href="#m8" x="307.5" y="63.5"/>
<use href="#m8" x="308.5" y="63.5"/>
<use href="#m8" x="309.5" y="63.5"/>
<use href="#m8" x="309.5" y="63.5"/>
<use href="#m8" x="310.5" y="63.5"/>
<use href="#m8" x="311.5" y="63.5"/>
<use href="#m8" x="311.5" y="63.5"/>
<use href="#m8" x="312.5" y="63.5"/>
<use href="#m8" x="312.5" y="63.5"/>
<use href="#m8" x="313.5" y="63.5"/>
<use href="#m8" x="314.5" y="63.5"/>
<use href="#m8" x="314.5" y="63.5"/>
<use href="#m8" x="315.5" y="63.5"/>
<use href="#m8" x="315.5" y="63.5"/>
<use href="#m8" x="316.5" y="63.5"/>
<use href="#m8" x="316.5" y="63.5"/>
<use href="#m8" x="317.5" y="63.5"/>
<use href="#m8" x="317.5" y="63.5"/>
<use href="#m8" x="318.5" y="63.5"/>
<use href="#m8" x="319.5" y="63.5"/>
<use href="#m8" x="319.5" y="63.5"/>
<use href="#m8" x="320.5" y="63.5"/>
<use href="#m8" x="320.5" y="63.5"/>
<use href="#m8" x="321.5" y="63.5"/>
<use href="#m8" x="321.5" y="63.5"/>
<use href="#m8" x="322.5" y="63.5"/>
<use href="#m8" x="322.5" y="63.5"/>
<use href="#m8" x="323.5" y="63.5"/>
<use href="#m8" x="323.5" y="63.5"/>
<linearGradient id="bga" gradientUnits="userSpaceOnUse" x1="242.5" y1="0" x2="286.7" y2="0"><stop offset="0" stop-color="#979797" stop-opacity="0"/><stop offset="1" stop-color="#979797" stop-opacity="1"/></linearGradient>
<polygon points="242.5,63.7 244.0,63.3 245.4,62.9 246.8,62.5 248.2,62.1 249.6,61.7 251.0,61.3 252.4,60.9 253.8,60.5 255.3,60.2 256.7,60.0 258.1,59.7 259.5,59.5 260.9,59.2 262.3,59.0 263.7,58.8 265.2,58.6 266.6,58.4 268.0,58.3 269.4,58.1 270.8,58.0 272.2,57.9 273.6,57.8 275.1,57.7 276.5,57.6 277.9,57.5 279.3,57.5 280.7,57.4 282.1,57.3 283.5,57.3 284.9,57.3 286.4,57.3 287.8,57.3 289.2,57.3 290.6,57.3 292.0,57.3 293.4,57.3 294.8,57.3 296.3,57.3 297.7,57.3 299.1,57.2 300.5,57.2 301.9,57.2 303.3,57.2 304.7,57.2 306.1,57.2 307.6,57.2 309.0,57.2 310.4,57.2 311.8,57.2 313.2,57.2 314.6,57.2 316.0,57.2 317.5,57.2 318.9,57.2 320.3,57.2 321.7,57.2 323.1,57.2 324.5,57.2 325.9,57.2 325.9,69.1 324.5,69.1 323.1,69.1 321.7,69.1 320.3,69.1 318.9,69.1 317.5,69.1 316.0,69.1 314.6,69.1 313.2,69.1 311.8,69.1 310.4,69.1 309.0,69.1 307.6,69.1 306.1,69.1 304.7,69.1 303.3,69.1 301.9,69.1 300.5,69.1 299.1,69.1 297.7,69.2 296.3,69.2 294.8,69.2 293.4,69.2 292.0,69.2 290.6,69.2 289.2,69.2 287.8,69.2 286.4,69.2 284.9,69.2 283.5,69.2 282.1,69.2 280.7,69.3 279.3,69.4 277.9,69.4 276.5,69.5 275.1,69.6 273.6,69.7 272.2,69.8 270.8,69.9 269.4,70.0 268.0,70.2 266.6,70.3 265.2,70.6 263.7,70.9 262.3,71.2 260.9,71.6 259.5,72.0 258.1,72.4 256.7,72.8 255.3,73.2 253.8,73.7 252.4,74.1 251.0,74.6 249.6,75.1 248.2,75.5 246.8,76.0 245.4,76.5 244.0,77.0 242.5,77.5" fill="url(#bga)"/>
</g>
<line x1="59.50" y1="267.83" x2="61.50" y2="267.83" stroke="#444444" stroke-width="0.80"/>
<line x1="59.50" y1="216.26" x2="61.50" y2="216.26" stroke="#444444" stroke-width="0.80"/>
<line x1="59.50" y1="179.67" x2="61.50" y2="179.67" stroke="#444444" stroke-width="0.80"/>
<line x1="59.50" y1="151.28" x2="61.50" y2="151.28" stroke="#444444" stroke-width="0.80"/>
<line x1="59.50" y1="128.10" x2="61.50" y2="128.10" stroke="#444444" stroke-width="0.80"/>
<line x1="59.50" y1="108.49" x2="61.50" y2="108.49" stroke="#444444" stroke-width="0.80"/>
<line x1="59.50" y1="91.50" x2="61.50" y2="91.50" stroke="#444444" stroke-width="0.80"/>
<line x1="59.50" y1="76.52" x2="61.50" y2="76.52" stroke="#444444" stroke-width="0.80"/>
<line x1="58.00" y1="63.12" x2="61.50" y2="63.12" stroke="#444444" stroke-width="0.80"/>
<line x1="61.50" y1="288.50" x2="61.50" y2="290.50" stroke="#444444" stroke-width="0.80"/>
<line x1="67.77" y1="288.50" x2="67.77" y2="290.50" stroke="#444444" stroke-width="0.80"/>
<line x1="73.38" y1="288.50" x2="73.38" y2="292.00" stroke="#444444" stroke-width="0.80"/>
<line x1="110.27" y1="288.50" x2="110.27" y2="290.50" stroke="#444444" stroke-width="0.80"/>
<line x1="131.85" y1="288.50" x2="131.85" y2="290.50" stroke="#444444" stroke-width="0.80"/>
<line x1="147.17" y1="288.50" x2="147.17" y2="290.50" stroke="#444444" stroke-width="0.80"/>
<line x1="159.04" y1="288.50" x2="159.04" y2="290.50" stroke="#444444" stroke-width="0.80"/>
<line x1="168.75" y1="288.50" x2="168.75" y2="290.50" stroke="#444444" stroke-width="0.80"/>
<line x1="176.95" y1="288.50" x2="176.95" y2="290.50" stroke="#444444" stroke-width="0.80"/>
<line x1="184.06" y1="288.50" x2="184.06" y2="290.50" stroke="#444444" stroke-width="0.80"/>
<line x1="190.33" y1="288.50" x2="190.33" y2="290.50" stroke="#444444" stroke-width="0.80"/>
<line x1="195.94" y1="288.50" x2="195.94" y2="292.00" stroke="#444444" stroke-width="0.80"/>
<line x1="232.83" y1="288.50" x2="232.83" y2="290.50" stroke="#444444" stroke-width="0.80"/>
<line x1="254.42" y1="288.50" x2="254.42" y2="290.50" stroke="#444444" stroke-width="0.80"/>
<line x1="269.73" y1="288.50" x2="269.73" y2="290.50" stroke="#444444" stroke-width="0.80"/>
<line x1="281.61" y1="288.50" x2="281.61" y2="290.50" stroke="#444444" stroke-width="0.80"/>
<line x1="291.31" y1="288.50" x2="291.31" y2="290.50" stroke="#444444" stroke-width="0.80"/>
<line x1="299.52" y1="288.50" x2="299.52" y2="290.50" stroke="#444444" stroke-width="0.80"/>
<line x1="306.62" y1="288.50" x2="306.62" y2="290.50" stroke="#444444" stroke-width="0.80"/>
<line x1="312.89" y1="288.50" x2="312.89" y2="290.50" stroke="#444444" stroke-width="0.80"/>
<line x1="318.50" y1="288.50" x2="318.50" y2="292.00" stroke="#444444" stroke-width="0.80"/>
<rect x="61.50" y="51.00" width="257.00" height="237.50" fill="none" stroke="#333333" stroke-width="1"/>
<text transform="translate(29.28,69.62) scale(1.176,1)" style="font-family:'Liberation Sans',sans-serif;font-size:16.20px;" fill="#000">1.0</text>
<text transform="translate(30.06,134.60) scale(1.149,1)" style="font-family:'Liberation Sans',sans-serif;font-size:16.20px;" fill="#000">0.6</text>
<text transform="translate(30.07,186.17) scale(1.132,1)" style="font-family:'Liberation Sans',sans-serif;font-size:16.20px;" fill="#000">0.4</text>
<text transform="translate(30.06,222.76) scale(1.149,1)" style="font-family:'Liberation Sans',sans-serif;font-size:16.20px;" fill="#000">0.3</text>
<text transform="translate(30.06,274.33) scale(1.149,1)" style="font-family:'Liberation Sans',sans-serif;font-size:16.20px;" fill="#000">0.2</text>
<text transform="translate(58.96,306.90) scale(1.136,1)" style="font-family:'Liberation Sans',sans-serif;font-size:16.20px;" fill="#000">10</text>
<text transform="translate(79.29,300.70) scale(1.083,1)" style="font-family:'Liberation Sans',sans-serif;font-size:12.50px;" fill="#000">0</text>
<text transform="translate(181.52,306.90) scale(1.136,1)" style="font-family:'Liberation Sans',sans-serif;font-size:16.20px;" fill="#000">10</text>
<text transform="translate(201.53,300.70) scale(0.856,1)" style="font-family:'Liberation Sans',sans-serif;font-size:12.50px;" fill="#000">1</text>
<text transform="translate(304.08,306.90) scale(1.136,1)" style="font-family:'Liberation Sans',sans-serif;font-size:16.20px;" fill="#000">10</text>
<text transform="translate(324.24,300.70) scale(1.130,1)" style="font-family:'Liberation Sans',sans-serif;font-size:12.50px;" fill="#000">2</text>
<text transform="translate(187.38,326.30) scale(1.000,1)" style="font-family:'Liberation Sans',sans-serif;font-size:16.00px;font-style:italic;" fill="#000">r</text>
<rect x="155.50" y="170.50" width="133.00" height="98.00" fill="#fff" stroke="none"/>
<g clip-path="url(#iclipa)" fill="none" stroke-width="1.3" stroke-linejoin="round">
<polyline points="155.5,190.6 175.5,197.2 187.2,204.1 195.5,201.4 202.0,205.2 207.2,208.4 211.7,209.8 215.6,212.8 219.0,214.5 222.0,215.8 224.8,218.0 227.3,219.6 229.6,221.0 231.7,222.2 233.7,223.9 235.6,225.7 237.3,227.4 239.0,229.2 240.5,231.0 242.0,232.8 243.4,234.5 244.8,236.2 246.1,238.0 247.3,239.7 248.5,241.4 249.6,242.9 250.7,244.1 251.7,244.9 252.7,245.7 253.7,246.5 254.7,247.3 255.6,248.0 256.5,248.6 257.3,249.2 258.2,249.8 259.0,250.3 259.8,251.5 260.6,253.0 261.3,254.5 262.0,256.0 262.8,257.4 263.4,258.5 264.1,259.6 264.8,260.7 265.4,261.8 266.1,262.8 266.7,264.1 267.3,263.1 267.9,264.3 268.5,266.0 269.1,265.3 269.6,265.6 270.2,265.2 270.7,264.8 271.2,266.2 271.8,265.7 272.3,266.4 272.8,266.6 273.3,266.0 273.7,264.9 274.2,266.1 274.7,266.1 275.2,264.7 275.6,265.0 276.1,266.0 276.5,266.7 276.9,265.8 277.4,266.4 277.8,265.3 278.2,265.0 278.6,265.8 279.0,265.8 279.4,266.7 279.8,266.7 280.2,266.1 280.6,264.9 281.0,266.5 281.3,266.8 281.7,266.0 282.1,266.3 282.4,265.8 282.8,265.1 283.1,265.3 283.5,266.0 283.8,266.4 284.1,266.4 284.5,264.7 284.8,266.0 285.1,264.8 285.5,265.9 285.8,265.6 286.1,265.9 286.4,265.4 286.7,265.6 287.0,266.0 287.3,266.3 287.6,264.9 287.9,264.7 288.2,266.2 288.5,265.7" stroke="#0b2f22"/>
<polyline points="155.5,211.7 175.5,211.4 187.2,214.6 195.5,210.9 202.0,213.2 207.2,215.1 211.7,216.8 215.6,218.3 219.0,219.2 222.0,219.9 224.8,220.5 227.3,221.3 229.6,223.0 231.7,224.6 233.7,226.0 235.6,227.5 237.3,228.9 239.0,230.5 240.5,232.5 242.0,234.4 243.4,236.2 244.8,237.9 246.1,239.6 247.3,241.1 248.5,242.7 249.6,244.1 250.7,245.2 251.7,246.0 252.7,246.9 253.7,247.7 254.7,248.5 255.6,249.2 256.5,249.9 257.3,250.6 258.2,251.3 259.0,252.0 259.8,253.2 260.6,254.3 261.3,255.4 262.0,256.5 262.8,257.6 263.4,258.9 264.1,260.2 264.8,261.5 265.4,262.7 266.1,263.9 266.7,265.1 267.3,263.6 267.9,264.1 268.5,264.5 269.1,265.6 269.6,266.2 270.2,266.8 270.7,265.8 271.2,266.3 271.8,265.9 272.3,264.9 272.8,266.2 273.3,266.3 273.7,265.9 274.2,264.5 274.7,266.2 275.2,266.6 275.6,266.3 276.1,266.4 276.5,264.8 276.9,265.7 277.4,266.2 277.8,265.3 278.2,265.8 278.6,266.6 279.0,264.2 279.4,265.1 279.8,266.2 280.2,265.7 280.6,264.9 281.0,266.3 281.3,265.7 281.7,266.7 282.1,265.8 282.4,265.2 282.8,266.3 283.1,265.6 283.5,266.0 283.8,266.5 284.1,266.7 284.5,266.4 284.8,266.9 285.1,266.5 285.5,264.9 285.8,265.9 286.1,266.7 286.4,265.5 286.7,266.7 287.0,266.8 287.3,265.4 287.6,266.0 287.9,266.8 288.2,265.7 288.5,266.5" stroke="#0d4d35"/>
<polyline points="155.5,216.4 175.5,215.5 187.2,218.1 195.5,214.4 202.0,216.4 207.2,218.0 211.7,219.5 215.6,220.8 219.0,221.7 222.0,222.4 224.8,223.0 227.3,223.9 229.6,225.7 231.7,227.3 233.7,228.9 235.6,230.4 237.3,231.9 239.0,233.5 240.5,235.3 242.0,237.0 243.4,238.6 244.8,240.1 246.1,241.5 247.3,242.8 248.5,244.1 249.6,245.4 250.7,246.4 251.7,247.2 252.7,247.9 253.7,248.7 254.7,249.4 255.6,250.1 256.5,250.9 257.3,251.6 258.2,252.3 259.0,253.0 259.8,254.1 260.6,255.1 261.3,256.1 262.0,257.2 262.8,258.3 263.4,259.6 264.1,260.9 264.8,262.1 265.4,263.2 266.1,264.3 266.7,263.9 267.3,264.4 267.9,264.4 268.5,266.5 269.1,266.6 269.6,265.4 270.2,264.0 270.7,265.8 271.2,266.0 271.8,265.6 272.3,266.7 272.8,266.4 273.3,264.4 273.7,266.6 274.2,264.0 274.7,265.6 275.2,264.1 275.6,266.8 276.1,263.7 276.5,265.0 276.9,265.6 277.4,264.2 277.8,266.2 278.2,265.0 278.6,263.8 279.0,264.8 279.4,265.8 279.8,265.5 280.2,266.4 280.6,265.8 281.0,265.9 281.3,264.4 281.7,264.2 282.1,264.1 282.4,265.2 282.8,265.8 283.1,266.8 283.5,266.6 283.8,267.0 284.1,264.8 284.5,266.5 284.8,263.7 285.1,266.1 285.5,266.9 285.8,264.7 286.1,266.8 286.4,263.7 286.7,265.8 287.0,264.9 287.3,266.0 287.6,266.4 287.9,264.3 288.2,264.8 288.5,265.2" stroke="#15704f"/>
<polyline points="155.5,219.9 175.5,218.5 187.2,220.7 195.5,217.0 202.0,218.8 207.2,220.2 211.7,221.5 215.6,222.7 219.0,223.5 222.0,224.3 224.8,224.9 227.3,225.8 229.6,227.6 231.7,229.3 233.7,231.0 235.6,232.6 237.3,234.1 239.0,235.7 240.5,237.3 242.0,238.8 243.4,240.3 244.8,241.7 246.1,242.9 247.3,244.1 248.5,245.2 249.6,246.3 250.7,247.2 251.7,248.0 252.7,248.7 253.7,249.4 254.7,250.1 255.6,250.8 256.5,251.5 257.3,252.3 258.2,253.0 259.0,253.7 259.8,254.8 260.6,255.7 261.3,256.7 262.0,257.7 262.8,258.9 263.4,260.1 264.1,261.4 264.8,262.6 265.4,263.7 266.1,264.5 266.7,263.3 267.3,264.4 267.9,263.8 268.5,265.1 269.1,264.1 269.6,267.0 270.2,267.1 270.7,263.5 271.2,264.3 271.8,267.2 272.3,263.7 272.8,267.0 273.3,266.9 273.7,266.8 274.2,267.2 274.7,267.0 275.2,266.1 275.6,264.2 276.1,265.4 276.5,263.9 276.9,267.1 277.4,263.9 277.8,266.3 278.2,265.0 278.6,263.6 279.0,265.6 279.4,265.2 279.8,265.4 280.2,266.3 280.6,265.8 281.0,265.4 281.3,264.4 281.7,265.0 282.1,264.1 282.4,263.4 282.8,264.2 283.1,266.9 283.5,263.9 283.8,266.0 284.1,266.8 284.5,263.2 284.8,264.0 285.1,265.7 285.5,266.0 285.8,267.2 286.1,264.5 286.4,265.0 286.7,267.0 287.0,266.1 287.3,264.8 287.6,264.6 287.9,265.9 288.2,263.8 288.5,264.8" stroke="#1f8c61"/>
<polyline points="155.5,222.7 175.5,221.0 187.2,222.8 195.5,219.1 202.0,220.7 207.2,222.0 211.7,223.2 215.6,224.2 219.0,225.1 222.0,225.8 224.8,226.5 227.3,227.4 229.6,229.3 231.7,231.0 233.7,232.7 235.6,234.4 237.3,235.9 239.0,237.5 240.5,239.0 242.0,240.4 243.4,241.7 244.8,243.0 246.1,244.1 247.3,245.1 248.5,246.1 249.6,247.1 250.7,247.9 251.7,248.7 252.7,249.4 253.7,250.0 254.7,250.7 255.6,251.3 256.5,252.1 257.3,252.9 258.2,253.6 259.0,254.4 259.8,255.3 260.6,256.2 261.3,257.1 262.0,258.2 262.8,259.3 263.4,260.6 264.1,261.8 264.8,263.0 265.4,264.0 266.1,264.8 266.7,263.3 267.3,266.8 267.9,262.7 268.5,265.6 269.1,263.7 269.6,263.0 270.2,264.5 270.7,266.9 271.2,266.6 271.8,267.1 272.3,264.9 272.8,263.5 273.3,263.0 273.7,263.1 274.2,262.7 274.7,265.5 275.2,263.6 275.6,267.0 276.1,263.1 276.5,264.8 276.9,266.9 277.4,265.6 277.8,265.0 278.2,262.9 278.6,265.5 279.0,265.1 279.4,266.0 279.8,266.2 280.2,267.1 280.6,267.0 281.0,267.3 281.3,267.2 281.7,264.4 282.1,262.8 282.4,266.0 282.8,265.3 283.1,265.1 283.5,263.5 283.8,263.8 284.1,266.0 284.5,264.8 284.8,262.8 285.1,265.3 285.5,264.6 285.8,263.6 286.1,265.0 286.4,263.7 286.7,265.9 287.0,265.9 287.3,263.2 287.6,264.5 287.9,263.4 288.2,266.3 288.5,267.3" stroke="#36a57b"/>
<polyline points="155.5,225.2 175.5,223.2 187.2,224.7 195.5,220.9 202.0,222.4 207.2,223.6 211.7,224.6 215.6,225.5 219.0,226.4 222.0,227.1 224.8,227.8 227.3,228.7 229.6,230.7 231.7,232.5 233.7,234.2 235.6,235.9 237.3,237.5 239.0,239.0 240.5,240.4 242.0,241.7 243.4,243.0 244.8,244.1 246.1,245.1 247.3,246.0 248.5,246.9 249.6,247.8 250.7,248.6 251.7,249.3 252.7,249.9 253.7,250.6 254.7,251.2 255.6,251.8 256.5,252.6 257.3,253.4 258.2,254.1 259.0,254.9 259.8,255.8 260.6,256.7 261.3,257.5 262.0,258.5 262.8,259.7 263.4,261.0 264.1,262.2 264.8,263.3 265.4,264.3 266.1,265.0 266.7,265.3 267.3,264.2 267.9,264.9 268.5,265.1 269.1,267.3 269.6,264.7 270.2,264.9 270.7,264.7 271.2,263.2 271.8,265.3 272.3,263.3 272.8,267.0 273.3,263.8 273.7,262.4 274.2,263.1 274.7,265.0 275.2,267.5 275.6,264.0 276.1,264.2 276.5,264.2 276.9,267.3 277.4,262.2 277.8,266.8 278.2,263.4 278.6,264.8 279.0,266.6 279.4,266.9 279.8,265.8 280.2,267.0 280.6,266.9 281.0,265.0 281.3,264.2 281.7,266.0 282.1,265.3 282.4,264.1 282.8,263.5 283.1,267.4 283.5,263.1 283.8,267.0 284.1,264.0 284.5,266.2 284.8,265.4 285.1,264.2 285.5,262.2 285.8,264.8 286.1,264.7 286.4,266.6 286.7,266.7 287.0,265.3 287.3,267.3 287.6,263.7 287.9,265.9 288.2,264.7 288.5,264.1" stroke="#5db58b"/>
<polyline points="155.5,227.4 175.5,225.1 187.2,226.3 195.5,222.6 202.0,223.9 207.2,225.0 211.7,225.9 215.6,226.7 219.0,227.6 222.0,228.3 224.8,229.0 227.3,229.9 229.6,231.9 231.7,233.8 233.7,235.5 235.6,237.3 237.3,238.9 239.0,240.4 240.5,241.7 242.0,242.9 243.4,244.1 244.8,245.1 246.1,246.0 247.3,246.8 248.5,247.6 249.6,248.4 250.7,249.1 251.7,249.8 252.7,250.4 253.7,251.1 254.7,251.7 255.6,252.2 256.5,253.0 257.3,253.8 258.2,254.6 259.0,255.4 259.8,256.2 260.6,257.1 261.3,257.9 262.0,258.9 262.8,260.1 263.4,261.3 264.1,262.5 264.8,263.7 265.4,264.5 266.1,265.1 266.7,263.5 267.3,265.2 267.9,265.7 268.5,262.7 269.1,262.1 269.6,266.7 270.2,266.1 270.7,265.5 271.2,265.4 271.8,264.6 272.3,262.6 272.8,261.8 273.3,267.2 273.7,263.1 274.2,266.1 274.7,267.4 275.2,265.3 275.6,264.8 276.1,264.1 276.5,263.7 276.9,266.8 277.4,266.7 277.8,261.9 278.2,265.0 278.6,261.8 279.0,265.1 279.4,265.4 279.8,267.5 280.2,267.2 280.6,264.1 281.0,262.8 281.3,261.9 281.7,266.8 282.1,264.8 282.4,264.3 282.8,263.3 283.1,267.2 283.5,264.4 283.8,266.6 284.1,266.9 284.5,263.9 284.8,264.7 285.1,263.8 285.5,262.9 285.8,262.9 286.1,262.4 286.4,266.9 286.7,267.3 287.0,263.3 287.3,265.6 287.6,266.4 287.9,266.2 288.2,263.3 288.5,265.6" stroke="#8ec59c"/>
<polyline points="155.5,229.6 175.5,227.1 187.2,228.0 195.5,224.2 202.0,225.4 207.2,226.4 211.7,227.2 215.6,227.9 219.0,228.8 222.0,229.5 224.8,230.2 227.3,231.2 229.6,233.2 231.7,235.1 233.7,236.9 235.6,238.7 237.3,240.4 239.0,241.8 240.5,243.0 242.0,244.1 243.4,245.2 244.8,246.1 246.1,246.9 247.3,247.6 248.5,248.3 249.6,249.0 250.7,249.7 251.7,250.3 252.7,250.9 253.7,251.5 254.7,252.1 255.6,252.7 256.5,253.5 257.3,254.3 258.2,255.1 259.0,255.9 259.8,256.7 260.6,257.5 261.3,258.2 262.0,259.2 262.8,260.4 263.4,261.6 264.1,262.8 264.8,264.0 265.4,264.8 266.1,265.3 266.7,263.9 267.3,262.8 267.9,264.7 268.5,263.5 269.1,262.0 269.6,267.0 270.2,264.6 270.7,264.1 271.2,261.4 271.8,263.5 272.3,267.6 272.8,265.3 273.3,261.4 273.7,263.0 274.2,264.3 274.7,267.0 275.2,264.9 275.6,261.3 276.1,267.6 276.5,262.2 276.9,263.1 277.4,264.4 277.8,262.6 278.2,261.9 278.6,266.5 279.0,262.4 279.4,261.6 279.8,264.2 280.2,263.1 280.6,264.6 281.0,262.0 281.3,262.9 281.7,267.4 282.1,261.6 282.4,267.2 282.8,263.6 283.1,267.8 283.5,266.3 283.8,264.1 284.1,262.1 284.5,261.5 284.8,264.0 285.1,267.6 285.5,266.5 285.8,264.2 286.1,267.4 286.4,263.5 286.7,263.0 287.0,263.3 287.3,262.9 287.6,265.0 287.9,264.3 288.2,264.8 288.5,261.7" stroke="#c8d8ae"/>
<polyline points="155.5,232.1 175.5,229.2 187.2,229.9 195.5,226.0 202.0,227.1 207.2,228.0 211.7,228.6 215.6,229.2 219.0,230.1 222.0,230.9 224.8,231.6 227.3,232.5 229.6,234.6 231.7,236.5 233.7,238.4 235.6,240.2 237.3,241.9 239.0,243.4 240.5,244.4 242.0,245.5 243.4,246.4 244.8,247.2 246.1,247.9 247.3,248.5 248.5,249.1 249.6,249.7 250.7,250.3 251.7,250.9 252.7,251.5 253.7,252.1 254.7,252.6 255.6,253.1 256.5,253.9 257.3,254.8 258.2,255.6 259.0,256.4 259.8,257.2 260.6,257.9 261.3,258.6 262.0,259.6 262.8,260.8 263.4,262.0 264.1,263.2 264.8,264.3 265.4,265.1 266.1,265.5 266.7,261.5 267.3,263.3 267.9,266.5 268.5,262.1 269.1,263.6 269.6,265.9 270.2,263.8 270.7,263.4 271.2,267.6 271.8,261.0 272.3,265.4 272.8,264.0 273.3,261.9 273.7,267.5 274.2,264.4 274.7,265.4 275.2,266.6 275.6,262.0 276.1,261.4 276.5,265.2 276.9,263.9 277.4,267.8 277.8,266.8 278.2,264.2 278.6,267.5 279.0,264.5 279.4,263.8 279.8,263.5 280.2,261.0 280.6,266.5 281.0,263.8 281.3,263.1 281.7,267.0 282.1,265.6 282.4,262.9 282.8,265.9 283.1,266.7 283.5,261.4 283.8,264.0 284.1,263.0 284.5,261.2 284.8,265.9 285.1,261.4 285.5,261.8 285.8,262.5 286.1,263.5 286.4,264.7 286.7,261.8 287.0,263.2 287.3,264.7 287.6,266.0 287.9,266.8 288.2,264.2 288.5,261.8" stroke="#ffe3bb"/>
</g>
<line x1="155.50" y1="268.50" x2="155.50" y2="271.50" stroke="#444444" stroke-width="0.80"/>
<line x1="175.52" y1="268.50" x2="175.52" y2="270.30" stroke="#444444" stroke-width="0.80"/>
<line x1="187.23" y1="268.50" x2="187.23" y2="270.30" stroke="#444444" stroke-width="0.80"/>
<line x1="195.54" y1="268.50" x2="195.54" y2="270.30" stroke="#444444" stroke-width="0.80"/>
<line x1="201.98" y1="268.50" x2="201.98" y2="270.30" stroke="#444444" stroke-width="0.80"/>
<line x1="207.25" y1="268.50" x2="207.25" y2="270.30" stroke="#444444" stroke-width="0.80"/>
<line x1="211.70" y1="268.50" x2="211.70" y2="270.30" stroke="#444444" stroke-width="0.80"/>
<line x1="215.56" y1="268.50" x2="215.56" y2="270.30" stroke="#444444" stroke-width="0.80"/>
<line x1="218.96" y1="268.50" x2="218.96" y2="270.30" stroke="#444444" stroke-width="0.80"/>
<line x1="222.00" y1="268.50" x2="222.00" y2="271.50" stroke="#444444" stroke-width="0.80"/>
<line x1="242.02" y1="268.50" x2="242.02" y2="270.30" stroke="#444444" stroke-width="0.80"/>
<line x1="253.73" y1="268.50" x2="253.73" y2="270.30" stroke="#444444" stroke-width="0.80"/>
<line x1="262.04" y1="268.50" x2="262.04" y2="270.30" stroke="#444444" stroke-width="0.80"/>
<line x1="268.48" y1="268.50" x2="268.48" y2="270.30" stroke="#444444" stroke-width="0.80"/>
<line x1="273.75" y1="268.50" x2="273.75" y2="270.30" stroke="#444444" stroke-width="0.80"/>
<line x1="278.20" y1="268.50" x2="278.20" y2="270.30" stroke="#444444" stroke-width="0.80"/>
<line x1="282.06" y1="268.50" x2="282.06" y2="270.30" stroke="#444444" stroke-width="0.80"/>
<line x1="285.46" y1="268.50" x2="285.46" y2="270.30" stroke="#444444" stroke-width="0.80"/>
<line x1="288.50" y1="268.50" x2="288.50" y2="271.50" stroke="#444444" stroke-width="0.80"/>
<line x1="288.50" y1="267.10" x2="291.50" y2="267.10" stroke="#444444" stroke-width="0.80"/>
<line x1="288.50" y1="235.27" x2="291.50" y2="235.27" stroke="#444444" stroke-width="0.80"/>
<line x1="288.50" y1="203.44" x2="291.50" y2="203.44" stroke="#444444" stroke-width="0.80"/>
<line x1="288.50" y1="171.61" x2="291.50" y2="171.61" stroke="#444444" stroke-width="0.80"/>
<rect x="155.50" y="170.50" width="133.00" height="98.00" fill="none" stroke="#333333" stroke-width="1"/>
<text transform="translate(294.70,272.40) scale(1.087,1)" style="font-family:'Liberation Sans',sans-serif;font-size:13.70px;" fill="#000">0.0</text>
<text transform="translate(294.70,240.57) scale(1.095,1)" style="font-family:'Liberation Sans',sans-serif;font-size:13.70px;" fill="#000">0.2</text>
<text transform="translate(294.71,208.74) scale(1.078,1)" style="font-family:'Liberation Sans',sans-serif;font-size:13.70px;" fill="#000">0.4</text>
<text transform="translate(294.70,176.91) scale(1.095,1)" style="font-family:'Liberation Sans',sans-serif;font-size:13.70px;" fill="#000">0.6</text>
<text transform="translate(143.46,284.70) scale(1.096,1)" style="font-family:'Liberation Sans',sans-serif;font-size:13.60px;" fill="#000">10</text>
<text transform="translate(160.72,279.50) scale(1.083,1)" style="font-family:'Liberation Sans',sans-serif;font-size:10.00px;" fill="#000">0</text>
<text transform="translate(209.96,284.70) scale(1.096,1)" style="font-family:'Liberation Sans',sans-serif;font-size:13.60px;" fill="#000">10</text>
<text transform="translate(226.87,279.50) scale(0.977,1)" style="font-family:'Liberation Sans',sans-serif;font-size:10.00px;" fill="#000">1</text>
<text transform="translate(276.46,284.70) scale(1.096,1)" style="font-family:'Liberation Sans',sans-serif;font-size:13.60px;" fill="#000">10</text>
<text transform="translate(293.58,279.50) scale(1.130,1)" style="font-family:'Liberation Sans',sans-serif;font-size:10.00px;" fill="#000">2</text>
<text transform="translate(219.47,166.90) scale(1.000,1)" style="font-family:'Liberation Sans',sans-serif;font-size:13.00px;font-style:italic;" fill="#000">r</text>
<g clip-path="url(#clipb)">
<use href="#m0" x="423.5" y="132.5"/>
<use href="#m0" x="460.5" y="93.5"/>
<use href="#m0" x="481.5" y="81.5"/>
<use href="#m0" x="497.5" y="75.5"/>
<use href="#m0" x="509.5" y="71.5"/>
<use href="#m0" x="518.5" y="68.5"/>
<use href="#m0" x="527.5" y="66.5"/>
<use href="#m0" x="534.5" y="65.5"/>
<use href="#m0" x="540.5" y="64.5"/>
<use href="#m0" x="546.5" y="64.5"/>
<use href="#m0" x="551.5" y="63.5"/>
<use href="#m0" x="555.5" y="63.5"/>
<use href="#m0" x="560.5" y="63.5"/>
<use href="#m0" x="564.5" y="63.5"/>
<use href="#m0" x="567.5" y="63.5"/>
<use href="#m0" x="571.5" y="63.5"/>
<use href="#m0" x="574.5" y="63.5"/>
<use href="#m0" x="577.5" y="63.5"/>
<use href="#m0" x="580.5" y="63.5"/>
<use href="#m0" x="583.5" y="63.5"/>
<use href="#m0" x="585.5" y="63.5"/>
<use href="#m0" x="588.5" y="63.5"/>
<use href="#m0" x="590.5" y="63.5"/>
<use href="#m0" x="592.5" y="63.5"/>
<use href="#m0" x="595.5" y="63.5"/>
<use href="#m0" x="597.5" y="63.5"/>
<use href="#m0" x="599.5" y="63.5"/>
<use href="#m0" x="601.5" y="63.5"/>
<use href="#m0" x="602.5" y="63.5"/>
<use href="#m0" x="604.5" y="63.5"/>
<use href="#m0" x="606.5" y="63.5"/>
<use href="#m0" x="608.5" y="63.5"/>
<use href="#m0" x="609.5" y="63.5"/>
<use href="#m0" x="611.5" y="63.5"/>
<use href="#m0" x="613.5" y="63.5"/>
<use href="#m0" x="614.5" y="63.5"/>
<use href="#m0" x="615.5" y="63.5"/>
<use href="#m0" x="617.5" y="63.5"/>
<use href="#m0" x="618.5" y="63.5"/>
<use href="#m0" x="620.5" y="63.5"/>
<use href="#m0" x="621.5" y="63.5"/>
<use href="#m0" x="622.5" y="63.5"/>
<use href="#m0" x="623.5" y="63.5"/>
<use href="#m0" x="625.5" y="63.5"/>
<use href="#m0" x="626.5" y="63.5"/>
<use href="#m0" x="627.5" y="63.5"/>
<use href="#m0" x="628.5" y="63.5"/>
<use href="#m0" x="629.5" y="63.5"/>
<use href="#m0" x="630.5" y="63.5"/>
<use href="#m0" x="632.5" y="63.5"/>
<use href="#m0" x="633.5" y="63.5"/>
<use href="#m0" x="634.5" y="63.5"/>
<use href="#m0" x="635.5" y="63.5"/>
<use href="#m0" x="636.5" y="63.5"/>
<use href="#m0" x="637.5" y="63.5"/>
<use href="#m0" x="638.5" y="63.5"/>
<use href="#m0" x="639.5" y="63.5"/>
<use href="#m0" x="639.5" y="63.5"/>
<use href="#m0" x="640.5" y="63.5"/>
<use href="#m0" x="641.5" y="63.5"/>
<use href="#m0" x="642.5" y="63.5"/>
<use href="#m0" x="643.5" y="63.5"/>
<use href="#m0" x="644.5" y="63.5"/>
<use href="#m0" x="645.5" y="63.5"/>
<use href="#m0" x="646.5" y="63.5"/>
<use href="#m0" x="646.5" y="63.5"/>
<use href="#m0" x="647.5" y="63.5"/>
<use href="#m0" x="648.5" y="63.5"/>
<use href="#m0" x="649.5" y="63.5"/>
<use href="#m0" x="649.5" y="63.5"/>
<use href="#m0" x="650.5" y="63.5"/>
<use href="#m0" x="651.5" y="63.5"/>
<use href="#m0" x="652.5" y="63.5"/>
<use href="#m0" x="652.5" y="63.5"/>
<use href="#m0" x="653.5" y="63.5"/>
<use href="#m0" x="654.5" y="63.5"/>
<use href="#m0" x="655.5" y="63.5"/>
<use href="#m0" x="655.5" y="63.5"/>
<use href="#m0" x="656.5" y="63.5"/>
<use href="#m0" x="657.5" y="63.5"/>
<use href="#m0" x="657.5" y="63.5"/>
<use href="#m0" x="658.5" y="63.5"/>
<use href="#m0" x="659.5" y="63.5"/>
<use href="#m0" x="659.5" y="63.5"/>
<use href="#m0" x="660.5" y="63.5"/>
<use href="#m0" x="660.5" y="63.5"/>
<use href="#m0" x="661.5" y="63.5"/>
<use href="#m0" x="662.5" y="63.5"/>
<use href="#m0" x="662.5" y="63.5"/>
<use href="#m0" x="663.5" y="63.5"/>
<use href="#m0" x="663.5" y="63.5"/>
<use href="#m0" x="664.5" y="63.5"/>
<use href="#m0" x="665.5" y="63.5"/>
<use href="#m0" x="665.5" y="63.5"/>
<use href="#m0" x="666.5" y="63.5"/>
<use href="#m0" x="666.5" y="63.5"/>
<use href="#m0" x="667.5" y="63.5"/>
<use href="#m0" x="667.5" y="63.5"/>
<use href="#m0" x="668.5" y="63.5"/>
<use href="#m0" x="669.5" y="63.5"/>
<use href="#m0" x="669.5" y="63.5"/>
<use href="#m0" x="670.5" y="63.5"/>
<use href="#m0" x="670.5" y="63.5"/>
<use href="#m0" x="671.5" y="63.5"/>
<use href="#m0" x="671.5" y="63.5"/>
<use href="#m0" x="672.5" y="63.5"/>
<use href="#m0" x="672.5" y="63.5"/>
<use href="#m0" x="673.5" y="63.5"/>
<use href="#m0" x="673.5" y="63.5"/>
<use href="#m0" x="674.5" y="63.5"/>
<use href="#m1" x="423.5" y="110.5"/>
<use href="#m1" x="460.5" y="87.5"/>
<use href="#m1" x="481.5" y="78.5"/>
<use href="#m1" x="497.5" y="73.5"/>
<use href="#m1" x="509.5" y="69.5"/>
<use href="#m1" x="518.5" y="67.5"/>
<use href="#m1" x="527.5" y="66.5"/>
<use href="#m1" x="534.5" y="65.5"/>
<use href="#m1" x="540.5" y="64.5"/>
<use href="#m1" x="546.5" y="63.5"/>
<use href="#m1" x="551.5" y="63.5"/>
<use href="#m1" x="555.5" y="63.5"/>
<use href="#m1" x="560.5" y="63.5"/>
<use href="#m1" x="564.5" y="63.5"/>
<use href="#m1" x="567.5" y="63.5"/>
<use href="#m1" x="571.5" y="63.5"/>
<use href="#m1" x="574.5" y="63.5"/>
<use href="#m1" x="577.5" y="63.5"/>
<use href="#m1" x="580.5" y="63.5"/>
<use href="#m1" x="583.5" y="63.5"/>
<use href="#m1" x="585.5" y="63.5"/>
<use href="#m1" x="588.5" y="63.5"/>
<use href="#m1" x="590.5" y="63.5"/>
<use href="#m1" x="592.5" y="63.5"/>
<use href="#m1" x="595.5" y="63.5"/>
<use href="#m1" x="597.5" y="63.5"/>
<use href="#m1" x="599.5" y="63.5"/>
<use href="#m1" x="601.5" y="63.5"/>
<use href="#m1" x="602.5" y="63.5"/>
<use href="#m1" x="604.5" y="63.5"/>
<use href="#m1" x="606.5" y="63.5"/>
<use href="#m1" x="608.5" y="63.5"/>
<use href="#m1" x="609.5" y="63.5"/>
<use href="#m1" x="611.5" y="63.5"/>
<use href="#m1" x="613.5" y="63.5"/>
<use href="#m1" x="614.5" y="63.5"/>
<use href="#m1" x="615.5" y="63.5"/>
<use href="#m1" x="617.5" y="63.5"/>
<use href="#m1" x="618.5" y="63.5"/>
<use href="#m1" x="620.5" y="63.5"/>
<use href="#m1" x="621.5" y="63.5"/>
<use href="#m1" x="622.5" y="63.5"/>
<use href="#m1" x="623.5" y="63.5"/>
<use href="#m1" x="625.5" y="63.5"/>
<use href="#m1" x="626.5" y="63.5"/>
<use href="#m1" x="627.5" y="63.5"/>
<use href="#m1" x="628.5" y="63.5"/>
<use href="#m1" x="629.5" y="63.5"/>
<use href="#m1" x="630.5" y="63.5"/>
<use href="#m1" x="632.5" y="63.5"/>
<use href="#m1" x="633.5" y="63.5"/>
<use href="#m1" x="634.5" y="63.5"/>
<use href="#m1" x="635.5" y="63.5"/>
<use href="#m1" x="636.5" y="63.5"/>
<use href="#m1" x="637.5" y="63.5"/>
<use href="#m1" x="638.5" y="63.5"/>
<use href="#m1" x="639.5" y="63.5"/>
<use href="#m1" x="639.5" y="63.5"/>
<use href="#m1" x="640.5" y="63.5"/>
<use href="#m1" x="641.5" y="63.5"/>
<use href="#m1" x="642.5" y="63.5"/>
<use href="#m1" x="643.5" y="63.5"/>
<use href="#m1" x="644.5" y="63.5"/>
<use href="#m1" x="645.5" y="63.5"/>
<use href="#m1" x="646.5" y="63.5"/>
<use href="#m1" x="646.5" y="63.5"/>
<use href="#m1" x="647.5" y="63.5"/>
<use href="#m1" x="648.5" y="63.5"/>
<use href="#m1" x="649.5" y="63.5"/>
<use href="#m1" x="649.5" y="63.5"/>
<use href="#m1" x="650.5" y="63.5"/>
<use href="#m1" x="651.5" y="63.5"/>
<use href="#m1" x="652.5" y="63.5"/>
<use href="#m1" x="652.5" y="63.5"/>
<use href="#m1" x="653.5" y="63.5"/>
<use href="#m1" x="654.5" y="63.5"/>
<use href="#m1" x="655.5" y="63.5"/>
<use href="#m1" x="655.5" y="63.5"/>
<use href="#m1" x="656.5" y="63.5"/>
<use href="#m1" x="657.5" y="63.5"/>
<use href="#m1" x="657.5" y="63.5"/>
<use href="#m1" x="658.5" y="63.5"/>
<use href="#m1" x="659.5" y="63.5"/>
<use href="#m1" x="659.5" y="63.5"/>
<use href="#m1" x="660.5" y="63.5"/>
<use href="#m1" x="660.5" y="63.5"/>
<use href="#m1" x="661.5" y="63.5"/>
<use href="#m1" x="662.5" y="63.5"/>
<use href="#m1" x="662.5" y="63.5"/>
<use href="#m1" x="663.5" y="63.5"/>
<use href="#m1" x="663.5" y="63.5"/>
<use href="#m1" x="664.5" y="63.5"/>
<use href="#m1" x="665.5" y="63.5"/>
<use href="#m1" x="665.5" y="63.5"/>
<use href="#m1" x="666.5" y="63.5"/>
<use href="#m1" x="666.5" y="63.5"/>
<use href="#m1" x="667.5" y="63.5"/>
<use href="#m1" x="667.5" y="63.5"/>
<use href="#m1" x="668.5" y="63.5"/>
<use href="#m1" x="669.5" y="63.5"/>
<use href="#m1" x="669.5" y="63.5"/>
<use href="#m1" x="670.5" y="63.5"/>
<use href="#m1" x="670.5" y="63.5"/>
<use href="#m1" x="671.5" y="63.5"/>
<use href="#m1" x="671.5" y="63.5"/>
<use href="#m1" x="672.5" y="63.5"/>
<use href="#m1" x="672.5" y="63.5"/>
<use href="#m1" x="673.5" y="63.5"/>
<use href="#m1" x="673.5" y="63.5"/>
<use href="#m1" x="674.5" y="63.5"/>
<use href="#m2" x="423.5" y="102.5"/>
<use href="#m2" x="460.5" y="85.5"/>
<use href="#m2" x="481.5" y="77.5"/>
<use href="#m2" x="497.5" y="73.5"/>
<use href="#m2" x="509.5" y="69.5"/>
<use href="#m2" x="518.5" y="67.5"/>
<use href="#m2" x="527.5" y="65.5"/>
<use href="#m2" x="534.5" y="65.5"/>
<use href="#m2" x="540.5" y="64.5"/>
<use href="#m2" x="546.5" y="63.5"/>
<use href="#m2" x="551.5" y="63.5"/>
<use href="#m2" x="555.5" y="63.5"/>
<use href="#m2" x="560.5" y="63.5"/>
<use href="#m2" x="564.5" y="63.5"/>
<use href="#m2" x="567.5" y="63.5"/>
<use href="#m2" x="571.5" y="63.5"/>
<use href="#m2" x="574.5" y="63.5"/>
<use href="#m2" x="577.5" y="63.5"/>
<use href="#m2" x="580.5" y="63.5"/>
<use href="#m2" x="583.5" y="63.5"/>
<use href="#m2" x="585.5" y="63.5"/>
<use href="#m2" x="588.5" y="63.5"/>
<use href="#m2" x="590.5" y="63.5"/>
<use href="#m2" x="592.5" y="63.5"/>
<use href="#m2" x="595.5" y="63.5"/>
<use href="#m2" x="597.5" y="63.5"/>
<use href="#m2" x="599.5" y="63.5"/>
<use href="#m2" x="601.5" y="63.5"/>
<use href="#m2" x="602.5" y="63.5"/>
<use href="#m2" x="604.5" y="63.5"/>
<use href="#m2" x="606.5" y="63.5"/>
<use href="#m2" x="608.5" y="63.5"/>
<use href="#m2" x="609.5" y="63.5"/>
<use href="#m2" x="611.5" y="63.5"/>
<use href="#m2" x="613.5" y="63.5"/>
<use href="#m2" x="614.5" y="63.5"/>
<use href="#m2" x="615.5" y="63.5"/>
<use href="#m2" x="617.5" y="63.5"/>
<use href="#m2" x="618.5" y="63.5"/>
<use href="#m2" x="620.5" y="63.5"/>
<use href="#m2" x="621.5" y="63.5"/>
<use href="#m2" x="622.5" y="63.5"/>
<use href="#m2" x="623.5" y="63.5"/>
<use href="#m2" x="625.5" y="63.5"/>
<use href="#m2" x="626.5" y="63.5"/>
<use href="#m2" x="627.5" y="63.5"/>
<use href="#m2" x="628.5" y="63.5"/>
<use href="#m2" x="629.5" y="63.5"/>
<use href="#m2" x="630.5" y="63.5"/>
<use href="#m2" x="632.5" y="63.5"/>
<use href="#m2" x="633.5" y="63.5"/>
<use href="#m2" x="634.5" y="63.5"/>
<use href="#m2" x="635.5" y="63.5"/>
<use href="#m2" x="636.5" y="63.5"/>
<use href="#m2" x="637.5" y="63.5"/>
<use href="#m2" x="638.5" y="63.5"/>
<use href="#m2" x="639.5" y="63.5"/>
<use href="#m2" x="639.5" y="63.5"/>
<use href="#m2" x="640.5" y="63.5"/>
<use href="#m2" x="641.5" y="63.5"/>
<use href="#m2" x="642.5" y="63.5"/>
<use href="#m2" x="643.5" y="63.5"/>
<use href="#m2" x="644.5" y="63.5"/>
<use href="#m2" x="645.5" y="63.5"/>
<use href="#m2" x="646.5" y="63.5"/>
<use href="#m2" x="646.5" y="63.5"/>
<use href="#m2" x="647.5" y="63.5"/>
<use href="#m2" x="648.5" y="63.5"/>
<use href="#m2" x="649.5" y="63.5"/>
<use href="#m2" x="649.5" y="63.5"/>
<use href="#m2" x="650.5" y="63.5"/>
<use href="#m2" x="651.5" y="63.5"/>
<use href="#m2" x="652.5" y="63.5"/>
<use href="#m2" x="652.5" y="63.5"/>
<use href="#m2" x="653.5" y="63.5"/>
<use href="#m2" x="654.5" y="63.5"/>
<use href="#m2" x="655.5" y="63.5"/>
<use href="#m2" x="655.5" y="63.5"/>
<use href="#m2" x="656.5" y="63.5"/>
<use href="#m2" x="657.5" y="63.5"/>
<use href="#m2" x="657.5" y="63.5"/>
<use href="#m2" x="658.5" y="63.5"/>
<use href="#m2" x="659.5" y="63.5"/>
<use href="#m2" x="659.5" y="63.5"/>
<use href="#m2" x="660.5" y="63.5"/>
<use href="#m2" x="660.5" y="63.5"/>
<use href="#m2" x="661.5" y="63.5"/>
<use href="#m2" x="662.5" y="63.5"/>
<use href="#m2" x="662.5" y="63.5"/>
<use href="#m2" x="663.5" y="63.5"/>
<use href="#m2" x="663.5" y="63.5"/>
<use href="#m2" x="664.5" y="63.5"/>
<use href="#m2" x="665.5" y="63.5"/>
<use href="#m2" x="665.5" y="63.5"/>
<use href="#m2" x="666.5" y="63.5"/>
<use href="#m2" x="666.5" y="63.5"/>
<use href="#m2" x="667.5" y="63.5"/>
<use href="#m2" x="667.5" y="63.5"/>
<use href="#m2" x="668.5" y="63.5"/>
<use href="#m2" x="669.5" y="63.5"/>
<use href="#m2" x="669.5" y="63.5"/>
<use href="#m2" x="670.5" y="63.5"/>
<use href="#m2" x="670.5" y="63.5"/>
<use href="#m2" x="671.5" y="63.5"/>
<use href="#m2" x="671.5" y="63.5"/>
<use href="#m2" x="672.5" y="63.5"/>
<use href="#m2" x="672.5" y="63.5"/>
<use href="#m2" x="673.5" y="63.5"/>
<use href="#m2" x="673.5" y="63.5"/>
<use href="#m2" x="674.5" y="63.5"/>
<use href="#m3" x="423.5" y="99.5"/>
<use href="#m3" x="460.5" y="84.5"/>
<use href="#m3" x="481.5" y="76.5"/>
<use href="#m3" x="497.5" y="72.5"/>
<use href="#m3" x="509.5" y="69.5"/>
<use href="#m3" x="518.5" y="67.5"/>
<use href="#m3" x="527.5" y="65.5"/>
<use href="#m3" x="534.5" y="64.5"/>
<use href="#m3" x="540.5" y="64.5"/>
<use href="#m3" x="546.5" y="63.5"/>
<use href="#m3" x="551.5" y="63.5"/>
<use href="#m3" x="555.5" y="63.5"/>
<use href="#m3" x="560.5" y="63.5"/>
<use href="#m3" x="564.5" y="63.5"/>
<use href="#m3" x="567.5" y="63.5"/>
<use href="#m3" x="571.5" y="63.5"/>
<use href="#m3" x="574.5" y="63.5"/>
<use href="#m3" x="577.5" y="63.5"/>
<use href="#m3" x="580.5" y="63.5"/>
<use href="#m3" x="583.5" y="63.5"/>
<use href="#m3" x="585.5" y="63.5"/>
<use href="#m3" x="588.5" y="63.5"/>
<use href="#m3" x="590.5" y="63.5"/>
<use href="#m3" x="592.5" y="63.5"/>
<use href="#m3" x="595.5" y="63.5"/>
<use href="#m3" x="597.5" y="63.5"/>
<use href="#m3" x="599.5" y="63.5"/>
<use href="#m3" x="601.5" y="63.5"/>
<use href="#m3" x="602.5" y="63.5"/>
<use href="#m3" x="604.5" y="63.5"/>
<use href="#m3" x="606.5" y="63.5"/>
<use href="#m3" x="608.5" y="63.5"/>
<use href="#m3" x="609.5" y="63.5"/>
<use href="#m3" x="611.5" y="63.5"/>
<use href="#m3" x="613.5" y="63.5"/>
<use href="#m3" x="614.5" y="63.5"/>
<use href="#m3" x="615.5" y="63.5"/>
<use href="#m3" x="617.5" y="63.5"/>
<use href="#m3" x="618.5" y="63.5"/>
<use href="#m3" x="620.5" y="63.5"/>
<use href="#m3" x="621.5" y="63.5"/>
<use href="#m3" x="622.5" y="63.5"/>
<use href="#m3" x="623.5" y="63.5"/>
<use href="#m3" x="625.5" y="63.5"/>
<use href="#m3" x="626.5" y="63.5"/>
<use href="#m3" x="627.5" y="63.5"/>
<use href="#m3" x="628.5" y="63.5"/>
<use href="#m3" x="629.5" y="63.5"/>
<use href="#m3" x="630.5" y="63.5"/>
<use href="#m3" x="632.5" y="63.5"/>
<use href="#m3" x="633.5" y="63.5"/>
<use href="#m3" x="634.5" y="63.5"/>
<use href="#m3" x="635.5" y="63.5"/>
<use href="#m3" x="636.5" y="63.5"/>
<use href="#m3" x="637.5" y="63.5"/>
<use href="#m3" x="638.5" y="63.5"/>
<use href="#m3" x="639.5" y="63.5"/>
<use href="#m3" x="639.5" y="63.5"/>
<use href="#m3" x="640.5" y="63.5"/>
<use href="#m3" x="641.5" y="63.5"/>
<use href="#m3" x="642.5" y="63.5"/>
<use href="#m3" x="643.5" y="63.5"/>
<use href="#m3" x="644.5" y="63.5"/>
<use href="#m3" x="645.5" y="63.5"/>
<use href="#m3" x="646.5" y="63.5"/>
<use href="#m3" x="646.5" y="63.5"/>
<use href="#m3" x="647.5" y="63.5"/>
<use href="#m3" x="648.5" y="63.5"/>
<use href="#m3" x="649.5" y="63.5"/>
<use href="#m3" x="649.5" y="63.5"/>
<use href="#m3" x="650.5" y="63.5"/>
<use href="#m3" x="651.5" y="63.5"/>
<use href="#m3" x="652.5" y="63.5"/>
<use href="#m3" x="652.5" y="63.5"/>
<use href="#m3" x="653.5" y="63.5"/>
<use href="#m3" x="654.5" y="63.5"/>
<use href="#m3" x="655.5" y="63.5"/>
<use href="#m3" x="655.5" y="63.5"/>
<use href="#m3" x="656.5" y="63.5"/>
<use href="#m3" x="657.5" y="63.5"/>
<use href="#m3" x="657.5" y="63.5"/>
<use href="#m3" x="658.5" y="63.5"/>
<use href="#m3" x="659.5" y="63.5"/>
<use href="#m3" x="659.5" y="63.5"/>
<use href="#m3" x="660.5" y="63.5"/>
<use href="#m3" x="660.5" y="63.5"/>
<use href="#m3" x="661.5" y="63.5"/>
<use href="#m3" x="662.5" y="63.5"/>
<use href="#m3" x="662.5" y="63.5"/>
<use href="#m3" x="663.5" y="63.5"/>
<use href="#m3" x="663.5" y="63.5"/>
<use href="#m3" x="664.5" y="63.5"/>
<use href="#m3" x="665.5" y="63.5"/>
<use href="#m3" x="665.5" y="63.5"/>
<use href="#m3" x="666.5" y="63.5"/>
<use href="#m3" x="666.5" y="63.5"/>
<use href="#m3" x="667.5" y="63.5"/>
<use href="#m3" x="667.5" y="63.5"/>
<use href="#m3" x="668.5" y="63.5"/>
<use href="#m3" x="669.5" y="63.5"/>
<use href="#m3" x="669.5" y="63.5"/>
<use href="#m3" x="670.5" y="63.5"/>
<use href="#m3" x="670.5" y="63.5"/>
<use href="#m3" x="671.5" y="63.5"/>
<use href="#m3" x="671.5" y="63.5"/>
<use href="#m3" x="672.5" y="63.5"/>
<use href="#m3" x="672.5" y="63.5"/>
<use href="#m3" x="673.5" y="63.5"/>
<use href="#m3" x="673.5" y="63.5"/>
<use href="#m3" x="674.5" y="63.5"/>
<use href="#m4" x="423.5" y="94.5"/>
<use href="#m4" x="460.5" y="82.5"/>
<use href="#m4" x="481.5" y="75.5"/>
<use href="#m4" x="497.5" y="72.5"/>
<use href="#m4" x="509.5" y="68.5"/>
<use href="#m4" x="518.5" y="67.5"/>
<use href="#m4" x="527.5" y="65.5"/>
<use href="#m4" x="534.5" y="64.5"/>
<use href="#m4" x="540.5" y="64.5"/>
<use href="#m4" x="546.5" y="63.5"/>
<use href="#m4" x="551.5" y="63.5"/>
<use href="#m4" x="555.5" y="63.5"/>
<use href="#m4" x="560.5" y="63.5"/>
<use href="#m4" x="564.5" y="63.5"/>
<use href="#m4" x="567.5" y="63.5"/>
<use href="#m4" x="571.5" y="63.5"/>
<use href="#m4" x="574.5" y="63.5"/>
<use href="#m4" x="577.5" y="63.5"/>
<use href="#m4" x="580.5" y="63.5"/>
<use href="#m4" x="583.5" y="63.5"/>
<use href="#m4" x="585.5" y="63.5"/>
<use href="#m4" x="588.5" y="63.5"/>
<use href="#m4" x="590.5" y="63.5"/>
<use href="#m4" x="592.5" y="63.5"/>
<use href="#m4" x="595.5" y="63.5"/>
<use href="#m4" x="597.5" y="63.5"/>
<use href="#m4" x="599.5" y="63.5"/>
<use href="#m4" x="601.5" y="63.5"/>
<use href="#m4" x="602.5" y="63.5"/>
<use href="#m4" x="604.5" y="63.5"/>
<use href="#m4" x="606.5" y="63.5"/>
<use href="#m4" x="608.5" y="63.5"/>
<use href="#m4" x="609.5" y="63.5"/>
<use href="#m4" x="611.5" y="63.5"/>
<use href="#m4" x="613.5" y="63.5"/>
<use href="#m4" x="614.5" y="63.5"/>
<use href="#m4" x="615.5" y="63.5"/>
<use href="#m4" x="617.5" y="63.5"/>
<use href="#m4" x="618.5" y="63.5"/>
<use href="#m4" x="620.5" y="63.5"/>
<use href="#m4" x="621.5" y="63.5"/>
<use href="#m4" x="622.5" y="63.5"/>
<use href="#m4" x="623.5" y="63.5"/>
<use href="#m4" x="625.5" y="63.5"/>
<use href="#m4" x="626.5" y="63.5"/>
<use href="#m4" x="627.5" y="63.5"/>
<use href="#m4" x="628.5" y="63.5"/>
<use href="#m4" x="629.5" y="63.5"/>
<use href="#m4" x="630.5" y="63.5"/>
<use href="#m4" x="632.5" y="63.5"/>
<use href="#m4" x="633.5" y="63.5"/>
<use href="#m4" x="634.5" y="63.5"/>
<use href="#m4" x="635.5" y="63.5"/>
<use href="#m4" x="636.5" y="63.5"/>
<use href="#m4" x="637.5" y="63.5"/>
<use href="#m4" x="638.5" y="63.5"/>
<use href="#m4" x="639.5" y="63.5"/>
<use href="#m4" x="639.5" y="63.5"/>
<use href="#m4" x="640.5" y="63.5"/>
<use href="#m4" x="641.5" y="63.5"/>
<use href="#m4" x="642.5" y="63.5"/>
<use href="#m4" x="643.5" y="63.5"/>
<use href="#m4" x="644.5" y="63.5"/>
<use href="#m4" x="645.5" y="63.5"/>
<use href="#m4" x="646.5" y="63.5"/>
<use href="#m4" x="646.5" y="63.5"/>
<use href="#m4" x="647.5" y="63.5"/>
<use href="#m4" x="648.5" y="63.5"/>
<use href="#m4" x="649.5" y="63.5"/>
<use href="#m4" x="649.5" y="63.5"/>
<use href="#m4" x="650.5" y="63.5"/>
<use href="#m4" x="651.5" y="63.5"/>
<use href="#m4" x="652.5" y="63.5"/>
<use href="#m4" x="652.5" y="63.5"/>
<use href="#m4" x="653.5" y="63.5"/>
<use href="#m4" x="654.5" y="63.5"/>
<use href="#m4" x="655.5" y="63.5"/>
<use href="#m4" x="655.5" y="63.5"/>
<use href="#m4" x="656.5" y="63.5"/>
<use href="#m4" x="657.5" y="63.5"/>
<use href="#m4" x="657.5" y="63.5"/>
<use href="#m4" x="658.5" y="63.5"/>
<use href="#m4" x="659.5" y="63.5"/>
<use href="#m4" x="659.5" y="63.5"/>
<use href="#m4" x="660.5" y="63.5"/>
<use href="#m4" x="660.5" y="63.5"/>
<use href="#m4" x="661.5" y="63.5"/>
<use href="#m4" x="662.5" y="63.5"/>
<use href="#m4" x="662.5" y="63.5"/>
<use href="#m4" x="663.5" y="63.5"/>
<use href="#m4" x="663.5" y="63.5"/>
<use href="#m4" x="664.5" y="63.5"/>
<use href="#m4" x="665.5" y="63.5"/>
<use href="#m4" x="665.5" y="63.5"/>
<use href="#m4" x="666.5" y="63.5"/>
<use href="#m4" x="666.5" y="63.5"/>
<use href="#m4" x="667.5" y="63.5"/>
<use href="#m4" x="667.5" y="63.5"/>
<use href="#m4" x="668.5" y="63.5"/>
<use href="#m4" x="669.5" y="63.5"/>
<use href="#m4" x="669.5" y="63.5"/>
<use href="#m4" x="670.5" y="63.5"/>
<use href="#m4" x="670.5" y="63.5"/>
<use href="#m4" x="671.5" y="63.5"/>
<use href="#m4" x="671.5" y="63.5"/>
<use href="#m4" x="672.5" y="63.5"/>
<use href="#m4" x="672.5" y="63.5"/>
<use href="#m4" x="673.5" y="63.5"/>
<use href="#m4" x="673.5" y="63.5"/>
<use href="#m4" x="674.5" y="63.5"/>
<use href="#m5" x="423.5" y="92.5"/>
<use href="#m5" x="460.5" y="81.5"/>
<use href="#m5" x="481.5" y="74.5"/>
<use href="#m5" x="497.5" y="71.5"/>
<use href="#m5" x="509.5" y="68.5"/>
<use href="#m5" x="518.5" y="66.5"/>
<use href="#m5" x="527.5" y="65.5"/>
<use href="#m5" x="534.5" y="64.5"/>
<use href="#m5" x="540.5" y="64.5"/>
<use href="#m5" x="546.5" y="63.5"/>
<use href="#m5" x="551.5" y="63.5"/>
<use href="#m5" x="555.5" y="63.5"/>
<use href="#m5" x="560.5" y="63.5"/>
<use href="#m5" x="564.5" y="63.5"/>
<use href="#m5" x="567.5" y="63.5"/>
<use href="#m5" x="571.5" y="63.5"/>
<use href="#m5" x="574.5" y="63.5"/>
<use href="#m5" x="577.5" y="63.5"/>
<use href="#m5" x="580.5" y="63.5"/>
<use href="#m5" x="583.5" y="63.5"/>
<use href="#m5" x="585.5" y="63.5"/>
<use href="#m5" x="588.5" y="63.5"/>
<use href="#m5" x="590.5" y="63.5"/>
<use href="#m5" x="592.5" y="63.5"/>
<use href="#m5" x="595.5" y="63.5"/>
<use href="#m5" x="597.5" y="63.5"/>
<use href="#m5" x="599.5" y="63.5"/>
<use href="#m5" x="601.5" y="63.5"/>
<use href="#m5" x="602.5" y="63.5"/>
<use href="#m5" x="604.5" y="63.5"/>
<use href="#m5" x="606.5" y="63.5"/>
<use href="#m5" x="608.5" y="63.5"/>
<use href="#m5" x="609.5" y="63.5"/>
<use href="#m5" x="611.5" y="63.5"/>
<use href="#m5" x="613.5" y="63.5"/>
<use href="#m5" x="614.5" y="63.5"/>
<use href="#m5" x="615.5" y="63.5"/>
<use href="#m5" x="617.5" y="63.5"/>
<use href="#m5" x="618.5" y="63.5"/>
<use href="#m5" x="620.5" y="63.5"/>
<use href="#m5" x="621.5" y="63.5"/>
<use href="#m5" x="622.5" y="63.5"/>
<use href="#m5" x="623.5" y="63.5"/>
<use href="#m5" x="625.5" y="63.5"/>
<use href="#m5" x="626.5" y="63.5"/>
<use href="#m5" x="627.5" y="63.5"/>
<use href="#m5" x="628.5" y="63.5"/>
<use href="#m5" x="629.5" y="63.5"/>
<use href="#m5" x="630.5" y="63.5"/>
<use href="#m5" x="632.5" y="63.5"/>
<use href="#m5" x="633.5" y="63.5"/>
<use href="#m5" x="634.5" y="63.5"/>
<use href="#m5" x="635.5" y="63.5"/>
<use href="#m5" x="636.5" y="63.5"/>
<use href="#m5" x="637.5" y="63.5"/>
<use href="#m5" x="638.5" y="63.5"/>
<use href="#m5" x="639.5" y="63.5"/>
<use href="#m5" x="639.5" y="63.5"/>
<use href="#m5" x="640.5" y="63.5"/>
<use href="#m5" x="641.5" y="63.5"/>
<use href="#m5" x="642.5" y="63.5"/>
<use href="#m5" x="643.5" y="63.5"/>
<use href="#m5" x="644.5" y="63.5"/>
<use href="#m5" x="645.5" y="63.5"/>
<use href="#m5" x="646.5" y="63.5"/>
<use href="#m5" x="646.5" y="63.5"/>
<use href="#m5" x="647.5" y="63.5"/>
<use href="#m5" x="648.5" y="63.5"/>
<use href="#m5" x="649.5" y="63.5"/>
<use href="#m5" x="649.5" y="63.5"/>
<use href="#m5" x="650.5" y="63.5"/>
<use href="#m5" x="651.5" y="63.5"/>
<use href="#m5" x="652.5" y="63.5"/>
<use href="#m5" x="652.5" y="63.5"/>
<use href="#m5" x="653.5" y="63.5"/>
<use href="#m5" x="654.5" y="63.5"/>
<use href="#m5" x="655.5" y="63.5"/>
<use href="#m5" x="655.5" y="63.5"/>
<use href="#m5" x="656.5" y="63.5"/>
<use href="#m5" x="657.5" y="63.5"/>
<use href="#m5" x="657.5" y="63.5"/>
<use href="#m5" x="658.5" y="63.5"/>
<use href="#m5" x="659.5" y="63.5"/>
<use href="#m5" x="659.5" y="63.5"/>
<use href="#m5" x="660.5" y="63.5"/>
<use href="#m5" x="660.5" y="63.5"/>
<use href="#m5" x="661.5" y="63.5"/>
<use href="#m5" x="662.5" y="63.5"/>
<use href="#m5" x="662.5" y="63.5"/>
<use href="#m5" x="663.5" y="63.5"/>
<use href="#m5" x="663.5" y="63.5"/>
<use href="#m5" x="664.5" y="63.5"/>
<use href="#m5" x="665.5" y="63.5"/>
<use href="#m5" x="665.5" y="63.5"/>
<use href="#m5" x="666.5" y="63.5"/>
<use href="#m5" x="666.5" y="63.5"/>
<use href="#m5" x="667.5" y="63.5"/>
<use href="#m5" x="667.5" y="63.5"/>
<use href="#m5" x="668.5" y="63.5"/>
<use href="#m5" x="669.5" y="63.5"/>
<use href="#m5" x="669.5" y="63.5"/>
<use href="#m5" x="670.5" y="63.5"/>
<use href="#m5" x="670.5" y="63.5"/>
<use href="#m5" x="671.5" y="63.5"/>
<use href="#m5" x="671.5" y="63.5"/>
<use href="#m5" x="672.5" y="63.5"/>
<use href="#m5" x="672.5" y="63.5"/>
<use href="#m5" x="673.5" y="63.5"/>
<use href="#m5" x="673.5" y="63.5"/>
<use href="#m5" x="674.5" y="63.5"/>
<use href="#m6" x="423.5" y="90.5"/>
<use href="#m6" x="460.5" y="79.5"/>
<use href="#m6" x="481.5" y="73.5"/>
<use href="#m6" x="497.5" y="71.5"/>
<use href="#m6" x="509.5" y="68.5"/>
<use href="#m6" x="518.5" y="66.5"/>
<use href="#m6" x="527.5" y="65.5"/>
<use href="#m6" x="534.5" y="64.5"/>
<use href="#m6" x="540.5" y="63.5"/>
<use href="#m6" x="546.5" y="63.5"/>
<use href="#m6" x="551.5" y="63.5"/>
<use href="#m6" x="555.5" y="63.5"/>
<use href="#m6" x="560.5" y="63.5"/>
<use href="#m6" x="564.5" y="63.5"/>
<use href="#m6" x="567.5" y="63.5"/>
<use href="#m6" x="571.5" y="63.5"/>
<use href="#m6" x="574.5" y="63.5"/>
<use href="#m6" x="577.5" y="63.5"/>
<use href="#m6" x="580.5" y="63.5"/>
<use href="#m6" x="583.5" y="63.5"/>
<use href="#m6" x="585.5" y="63.5"/>
<use href="#m6" x="588.5" y="63.5"/>
<use href="#m6" x="590.5" y="63.5"/>
<use href="#m6" x="592.5" y="63.5"/>
<use href="#m6" x="595.5" y="63.5"/>
<use href="#m6" x="597.5" y="63.5"/>
<use href="#m6" x="599.5" y="63.5"/>
<use href="#m6" x="601.5" y="63.5"/>
<use href="#m6" x="602.5" y="63.5"/>
<use href="#m6" x="604.5" y="63.5"/>
<use href="#m6" x="606.5" y="63.5"/>
<use href="#m6" x="608.5" y="63.5"/>
<use href="#m6" x="609.5" y="63.5"/>
<use href="#m6" x="611.5" y="63.5"/>
<use href="#m6" x="613.5" y="63.5"/>
<use href="#m6" x="614.5" y="63.5"/>
<use href="#m6" x="615.5" y="63.5"/>
<use href="#m6" x="617.5" y="63.5"/>
<use href="#m6" x="618.5" y="63.5"/>
<use href="#m6" x="620.5" y="63.5"/>
<use href="#m6" x="621.5" y="63.5"/>
<use href="#m6" x="622.5" y="63.5"/>
<use href="#m6" x="623.5" y="63.5"/>
<use href="#m6" x="625.5" y="63.5"/>
<use href="#m6" x="626.5" y="63.5"/>
<use href="#m6" x="627.5" y="63.5"/>
<use href="#m6" x="628.5" y="63.5"/>
<use href="#m6" x="629.5" y="63.5"/>
<use href="#m6" x="630.5" y="63.5"/>
<use href="#m6" x="632.5" y="63.5"/>
<use href="#m6" x="633.5" y="63.5"/>
<use href="#m6" x="634.5" y="63.5"/>
<use href="#m6" x="635.5" y="63.5"/>
<use href="#m6" x="636.5" y="63.5"/>
<use href="#m6" x="637.5" y="63.5"/>
<use href="#m6" x="638.5" y="63.5"/>
<use href="#m6" x="639.5" y="63.5"/>
<use href="#m6" x="639.5" y="63.5"/>
<use href="#m6" x="640.5" y="63.5"/>
<use href="#m6" x="641.5" y="63.5"/>
<use href="#m6" x="642.5" y="63.5"/>
<use href="#m6" x="643.5" y="63.5"/>
<use href="#m6" x="644.5" y="63.5"/>
<use href="#m6" x="645.5" y="63.5"/>
<use href="#m6" x="646.5" y="63.5"/>
<use href="#m6" x="646.5" y="63.5"/>
<use href="#m6" x="647.5" y="63.5"/>
<use href="#m6" x="648.5" y="63.5"/>
<use href="#m6" x="649.5" y="63.5"/>
<use href="#m6" x="649.5" y="63.5"/>
<use href="#m6" x="650.5" y="63.5"/>
<use href="#m6" x="651.5" y="63.5"/>
<use href="#m6" x="652.5" y="63.5"/>
<use href="#m6" x="652.5" y="63.5"/>
<use href="#m6" x="653.5" y="63.5"/>
<use href="#m6" x="654.5" y="63.5"/>
<use href="#m6" x="655.5" y="63.5"/>
<use href="#m6" x="655.5" y="63.5"/>
<use href="#m6" x="656.5" y="63.5"/>
<use href="#m6" x="657.5" y="63.5"/>
<use href="#m6" x="657.5" y="63.5"/>
<use href="#m6" x="658.5" y="63.5"/>
<use href="#m6" x="659.5" y="63.5"/>
<use href="#m6" x="659.5" y="63.5"/>
<use href="#m6" x="660.5" y="63.5"/>
<use href="#m6" x="660.5" y="63.5"/>
<use href="#m6" x="661.5" y="63.5"/>
<use href="#m6" x="662.5" y="63.5"/>
<use href="#m6" x="662.5" y="63.5"/>
<use href="#m6" x="663.5" y="63.5"/>
<use href="#m6" x="663.5" y="63.5"/>
<use href="#m6" x="664.5" y="63.5"/>
<use href="#m6" x="665.5" y="63.5"/>
<use href="#m6" x="665.5" y="63.5"/>
<use href="#m6" x="666.5" y="63.5"/>
<use href="#m6" x="666.5" y="63.5"/>
<use href="#m6" x="667.5" y="63.5"/>
<use href="#m6" x="667.5" y="63.5"/>
<use href="#m6" x="668.5" y="63.5"/>
<use href="#m6" x="669.5" y="63.5"/>
<use href="#m6" x="669.5" y="63.5"/>
<use href="#m6" x="670.5" y="63.5"/>
<use href="#m6" x="670.5" y="63.5"/>
<use href="#m6" x="671.5" y="63.5"/>
<use href="#m6" x="671.5" y="63.5"/>
<use href="#m6" x="672.5" y="63.5"/>
<use href="#m6" x="672.5" y="63.5"/>
<use href="#m6" x="673.5" y="63.5"/>
<use href="#m6" x="673.5" y="63.5"/>
<use href="#m6" x="674.5" y="63.5"/>
<use href="#m7" x="423.5" y="88.5"/>
<use href="#m7" x="460.5" y="78.5"/>
<use href="#m7" x="481.5" y="72.5"/>
<use href="#m7" x="497.5" y="70.5"/>
<use href="#m7" x="509.5" y="67.5"/>
<use href="#m7" x="518.5" y="66.5"/>
<use href="#m7" x="527.5" y="65.5"/>
<use href="#m7" x="534.5" y="64.5"/>
<use href="#m7" x="540.5" y="63.5"/>
<use href="#m7" x="546.5" y="63.5"/>
<use href="#m7" x="551.5" y="63.5"/>
<use href="#m7" x="555.5" y="63.5"/>
<use href="#m7" x="560.5" y="63.5"/>
<use href="#m7" x="564.5" y="63.5"/>
<use href="#m7" x="567.5" y="63.5"/>
<use href="#m7" x="571.5" y="63.5"/>
<use href="#m7" x="574.5" y="63.5"/>
<use href="#m7" x="577.5" y="63.5"/>
<use href="#m7" x="580.5" y="63.5"/>
<use href="#m7" x="583.5" y="63.5"/>
<use href="#m7" x="585.5" y="63.5"/>
<use href="#m7" x="588.5" y="63.5"/>
<use href="#m7" x="590.5" y="63.5"/>
<use href="#m7" x="592.5" y="63.5"/>
<use href="#m7" x="595.5" y="63.5"/>
<use href="#m7" x="597.5" y="63.5"/>
<use href="#m7" x="599.5" y="63.5"/>
<use href="#m7" x="601.5" y="63.5"/>
<use href="#m7" x="602.5" y="63.5"/>
<use href="#m7" x="604.5" y="63.5"/>
<use href="#m7" x="606.5" y="63.5"/>
<use href="#m7" x="608.5" y="63.5"/>
<use href="#m7" x="609.5" y="63.5"/>
<use href="#m7" x="611.5" y="63.5"/>
<use href="#m7" x="613.5" y="63.5"/>
<use href="#m7" x="614.5" y="63.5"/>
<use href="#m7" x="615.5" y="63.5"/>
<use href="#m7" x="617.5" y="63.5"/>
<use href="#m7" x="618.5" y="63.5"/>
<use href="#m7" x="620.5" y="63.5"/>
<use href="#m7" x="621.5" y="63.5"/>
<use href="#m7" x="622.5" y="63.5"/>
<use href="#m7" x="623.5" y="63.5"/>
<use href="#m7" x="625.5" y="63.5"/>
<use href="#m7" x="626.5" y="63.5"/>
<use href="#m7" x="627.5" y="63.5"/>
<use href="#m7" x="628.5" y="63.5"/>
<use href="#m7" x="629.5" y="63.5"/>
<use href="#m7" x="630.5" y="63.5"/>
<use href="#m7" x="632.5" y="63.5"/>
<use href="#m7" x="633.5" y="63.5"/>
<use href="#m7" x="634.5" y="63.5"/>
<use href="#m7" x="635.5" y="63.5"/>
<use href="#m7" x="636.5" y="63.5"/>
<use href="#m7" x="637.5" y="63.5"/>
<use href="#m7" x="638.5" y="63.5"/>
<use href="#m7" x="639.5" y="63.5"/>
<use href="#m7" x="639.5" y="63.5"/>
<use href="#m7" x="640.5" y="63.5"/>
<use href="#m7" x="641.5" y="63.5"/>
<use href="#m7" x="642.5" y="63.5"/>
<use href="#m7" x="643.5" y="63.5"/>
<use href="#m7" x="644.5" y="63.5"/>
<use href="#m7" x="645.5" y="63.5"/>
<use href="#m7" x="646.5" y="63.5"/>
<use href="#m7" x="646.5" y="63.5"/>
<use href="#m7" x="647.5" y="63.5"/>
<use href="#m7" x="648.5" y="63.5"/>
<use href="#m7" x="649.5" y="63.5"/>
<use href="#m7" x="649.5" y="63.5"/>
<use href="#m7" x="650.5" y="63.5"/>
<use href="#m7" x="651.5" y="63.5"/>
<use href="#m7" x="652.5" y="63.5"/>
<use href="#m7" x="652.5" y="63.5"/>
<use href="#m7" x="653.5" y="63.5"/>
<use href="#m7" x="654.5" y="63.5"/>
<use href="#m7" x="655.5" y="63.5"/>
<use href="#m7" x="655.5" y="63.5"/>
<use href="#m7" x="656.5" y="63.5"/>
<use href="#m7" x="657.5" y="63.5"/>
<use href="#m7" x="657.5" y="63.5"/>
<use href="#m7" x="658.5" y="63.5"/>
<use href="#m7" x="659.5" y="63.5"/>
<use href="#m7" x="659.5" y="63.5"/>
<use href="#m7" x="660.5" y="63.5"/>
<use href="#m7" x="660.5" y="63.5"/>
<use href="#m7" x="661.5" y="63.5"/>
<use href="#m7" x="662.5" y="63.5"/>
<use href="#m7" x="662.5" y="63.5"/>
<use href="#m7" x="663.5" y="63.5"/>
<use href="#m7" x="663.5" y="63.5"/>
<use href="#m7" x="664.5" y="63.5"/>
<use href="#m7" x="665.5" y="63.5"/>
<use href="#m7" x="665.5" y="63.5"/>
<use href="#m7" x="666.5" y="63.5"/>
<use href="#m7" x="666.5" y="63.5"/>
<use href="#m7" x="667.5" y="63.5"/>
<use href="#m7" x="667.5" y="63.5"/>
<use href="#m7" x="668.5" y="63.5"/>
<use href="#m7" x="669.5" y="63.5"/>
<use href="#m7" x="669.5" y="63.5"/>
<use href="#m7" x="670.5" y="63.5"/>
<use href="#m7" x="670.5" y="63.5"/>
<use href="#m7" x="671.5" y="63.5"/>
<use href="#m7" x="671.5" y="63.5"/>
<use href="#m7" x="672.5" y="63.5"/>
<use href="#m7" x="672.5" y="63.5"/>
<use href="#m7" x="673.5" y="63.5"/>
<use href="#m7" x="673.5" y="63.5"/>
<use href="#m7" x="674.5" y="63.5"/>
<use href="#m8" x="423.5" y="85.5"/>
<use href="#m8" x="460.5" y="76.5"/>
<use href="#m8" x="481.5" y="72.5"/>
<use href="#m8" x="497.5" y="70.5"/>
<use href="#m8" x="509.5" y="67.5"/>
<use href="#m8" x="518.5" y="66.5"/>
<use href="#m8" x="527.5" y="65.5"/>
<use href="#m8" x="534.5" y="64.5"/>
<use href="#m8" x="540.5" y="63.5"/>
<use href="#m8" x="546.5" y="63.5"/>
<use href="#m8" x="551.5" y="63.5"/>
<use href="#m8" x="555.5" y="63.5"/>
<use href="#m8" x="560.5" y="63.5"/>
<use href="#m8" x="564.5" y="63.5"/>
<use href="#m8" x="567.5" y="63.5"/>
<use href="#m8" x="571.5" y="63.5"/>
<use href="#m8" x="574.5" y="63.5"/>
<use href="#m8" x="577.5" y="63.5"/>
<use href="#m8" x="580.5" y="63.5"/>
<use href="#m8" x="583.5" y="63.5"/>
<use href="#m8" x="585.5" y="63.5"/>
<use href="#m8" x="588.5" y="63.5"/>
<use href="#m8" x="590.5" y="63.5"/>
<use href="#m8" x="592.5" y="63.5"/>
<use href="#m8" x="595.5" y="63.5"/>
<use href="#m8" x="597.5" y="63.5"/>
<use href="#m8" x="599.5" y="63.5"/>
<use href="#m8" x="601.5" y="63.5"/>
<use href="#m8" x="602.5" y="63.5"/>
<use href="#m8" x="604.5" y="63.5"/>
<use href="#m8" x="606.5" y="63.5"/>
<use href="#m8" x="608.5" y="63.5"/>
<use href="#m8" x="609.5" y="63.5"/>
<use href="#m8" x="611.5" y="63.5"/>
<use href="#m8" x="613.5" y="63.5"/>
<use href="#m8" x="614.5" y="63.5"/>
<use href="#m8" x="615.5" y="63.5"/>
<use href="#m8" x="617.5" y="63.5"/>
<use href="#m8" x="618.5" y="63.5"/>
<use href="#m8" x="620.5" y="63.5"/>
<use href="#m8" x="621.5" y="63.5"/>
<use href="#m8" x="622.5" y="63.5"/>
<use href="#m8" x="623.5" y="63.5"/>
<use href="#m8" x="625.5" y="63.5"/>
<use href="#m8" x="626.5" y="63.5"/>
<use href="#m8" x="627.5" y="63.5"/>
<use href="#m8" x="628.5" y="63.5"/>
<use href="#m8" x="629.5" y="63.5"/>
<use href="#m8" x="630.5" y="63.5"/>
<use href="#m8" x="632.5" y="63.5"/>
<use href="#m8" x="633.5" y="63.5"/>
<use href="#m8" x="634.5" y="63.5"/>
<use href="#m8" x="635.5" y="63.5"/>
<use href="#m8" x="636.5" y="63.5"/>
<use href="#m8" x="637.5" y="63.5"/>
<use href="#m8" x="638.5" y="63.5"/>
<use href="#m8" x="639.5" y="63.5"/>
<use href="#m8" x="639.5" y="63.5"/>
<use href="#m8" x="640.5" y="63.5"/>
<use href="#m8" x="641.5" y="63.5"/>
<use href="#m8" x="642.5" y="63.5"/>
<use href="#m8" x="643.5" y="63.5"/>
<use href="#m8" x="644.5" y="63.5"/>
<use href="#m8" x="645.5" y="63.5"/>
<use href="#m8" x="646.5" y="63.5"/>
<use href="#m8" x="646.5" y="63.5"/>
<use href="#m8" x="647.5" y="63.5"/>
<use href="#m8" x="648.5" y="63.5"/>
<use href="#m8" x="649.5" y="63.5"/>
<use href="#m8" x="649.5" y="63.5"/>
<use href="#m8" x="650.5" y="63.5"/>
<use href="#m8" x="651.5" y="63.5"/>
<use href="#m8" x="652.5" y="63.5"/>
<use href="#m8" x="652.5" y="63.5"/>
<use href="#m8" x="653.5" y="63.5"/>
<use href="#m8" x="654.5" y="63.5"/>
<use href="#m8" x="655.5" y="63.5"/>
<use href="#m8" x="655.5" y="63.5"/>
<use href="#m8" x="656.5" y="63.5"/>
<use href="#m8" x="657.5" y="63.5"/>
<use href="#m8" x="657.5" y="63.5"/>
<use href="#m8" x="658.5" y="63.5"/>
<use href="#m8" x="659.5" y="63.5"/>
<use href="#m8" x="659.5" y="63.5"/>
<use href="#m8" x="660.5" y="63.5"/>
<use href="#m8" x="660.5" y="63.5"/>
<use href="#m8" x="661.5" y="63.5"/>
<use href="#m8" x="662.5" y="63.5"/>
<use href="#m8" x="662.5" y="63.5"/>
<use href="#m8" x="663.5" y="63.5"/>
<use href="#m8" x="663.5" y="63.5"/>
<use href="#m8" x="664.5" y="63.5"/>
<use href="#m8" x="665.5" y="63.5"/>
<use href="#m8" x="665.5" y="63.5"/>
<use href="#m8" x="666.5" y="63.5"/>
<use href="#m8" x="666.5" y="63.5"/>
<use href="#m8" x="667.5" y="63.5"/>
<use href="#m8" x="667.5" y="63.5"/>
<use href="#m8" x="668.5" y="63.5"/>
<use href="#m8" x="669.5" y="63.5"/>
<use href="#m8" x="669.5" y="63.5"/>
<use href="#m8" x="670.5" y="63.5"/>
<use href="#m8" x="670.5" y="63.5"/>
<use href="#m8" x="671.5" y="63.5"/>
<use href="#m8" x="671.5" y="63.5"/>
<use href="#m8" x="672.5" y="63.5"/>
<use href="#m8" x="672.5" y="63.5"/>
<use href="#m8" x="673.5" y="63.5"/>
<use href="#m8" x="673.5" y="63.5"/>
<use href="#m8" x="674.5" y="63.5"/>
<linearGradient id="bgb" gradientUnits="userSpaceOnUse" x1="583.2" y1="0" x2="632.0" y2="0"><stop offset="0" stop-color="#979797" stop-opacity="0"/><stop offset="1" stop-color="#979797" stop-opacity="1"/></linearGradient>
<polygon points="583.2,57.2 584.7,57.2 586.3,57.2 587.9,57.2 589.5,57.2 591.1,57.2 592.7,57.2 594.2,57.2 595.8,57.2 597.4,57.2 599.0,57.2 600.6,57.2 602.1,57.2 603.7,57.2 605.3,57.2 606.9,57.2 608.5,57.2 610.0,57.2 611.6,57.2 613.2,57.2 614.8,57.2 616.4,57.2 618.0,57.2 619.5,57.2 621.1,57.2 622.7,57.2 624.3,57.2 625.9,57.2 627.4,57.2 629.0,57.2 630.6,57.2 632.2,57.2 633.8,57.2 635.3,57.2 636.9,57.2 638.5,57.2 640.1,57.2 641.7,57.2 643.2,57.2 644.8,57.2 646.4,57.2 648.0,57.2 649.6,57.2 651.2,57.2 652.7,57.2 654.3,57.2 655.9,57.2 657.5,57.2 659.1,57.2 660.6,57.2 662.2,57.2 663.8,57.2 665.4,57.2 667.0,57.2 668.5,57.2 670.1,57.2 671.7,57.2 673.3,57.2 674.9,57.2 676.5,57.2 676.5,69.1 674.9,69.1 673.3,69.1 671.7,69.1 670.1,69.1 668.5,69.1 667.0,69.1 665.4,69.1 663.8,69.1 662.2,69.1 660.6,69.1 659.1,69.1 657.5,69.1 655.9,69.1 654.3,69.1 652.7,69.1 651.2,69.1 649.6,69.1 648.0,69.1 646.4,69.1 644.8,69.1 643.2,69.1 641.7,69.1 640.1,69.1 638.5,69.1 636.9,69.1 635.3,69.1 633.8,69.1 632.2,69.1 630.6,69.1 629.0,69.1 627.4,69.1 625.9,69.1 624.3,69.1 622.7,69.1 621.1,69.1 619.5,69.1 618.0,69.1 616.4,69.1 614.8,69.1 613.2,69.1 611.6,69.1 610.0,69.1 608.5,69.1 606.9,69.1 605.3,69.1 603.7,69.1 602.1,69.1 600.6,69.1 599.0,69.1 597.4,69.1 595.8,69.1 594.2,69.1 592.7,69.1 591.1,69.1 589.5,69.1 587.9,69.1 586.3,69.1 584.7,69.1 583.2,69.1" fill="url(#bgb)"/>
</g>
<line x1="409.50" y1="267.83" x2="411.50" y2="267.83" stroke="#444444" stroke-width="0.80"/>
<line x1="409.50" y1="216.26" x2="411.50" y2="216.26" stroke="#444444" stroke-width="0.80"/>
<line x1="409.50" y1="179.67" x2="411.50" y2="179.67" stroke="#444444" stroke-width="0.80"/>
<line x1="409.50" y1="151.28" x2="411.50" y2="151.28" stroke="#444444" stroke-width="0.80"/>
<line x1="409.50" y1="128.10" x2="411.50" y2="128.10" stroke="#444444" stroke-width="0.80"/>
<line x1="409.50" y1="108.49" x2="411.50" y2="108.49" stroke="#444444" stroke-width="0.80"/>
<line x1="409.50" y1="91.50" x2="411.50" y2="91.50" stroke="#444444" stroke-width="0.80"/>
<line x1="409.50" y1="76.52" x2="411.50" y2="76.52" stroke="#444444" stroke-width="0.80"/>
<line x1="408.00" y1="63.12" x2="411.50" y2="63.12" stroke="#444444" stroke-width="0.80"/>
<line x1="411.50" y1="288.50" x2="411.50" y2="290.50" stroke="#444444" stroke-width="0.80"/>
<line x1="417.78" y1="288.50" x2="417.78" y2="290.50" stroke="#444444" stroke-width="0.80"/>
<line x1="423.40" y1="288.50" x2="423.40" y2="292.00" stroke="#444444" stroke-width="0.80"/>
<line x1="460.37" y1="288.50" x2="460.37" y2="290.50" stroke="#444444" stroke-width="0.80"/>
<line x1="481.99" y1="288.50" x2="481.99" y2="290.50" stroke="#444444" stroke-width="0.80"/>
<line x1="497.33" y1="288.50" x2="497.33" y2="290.50" stroke="#444444" stroke-width="0.80"/>
<line x1="509.23" y1="288.50" x2="509.23" y2="290.50" stroke="#444444" stroke-width="0.80"/>
<line x1="518.96" y1="288.50" x2="518.96" y2="290.50" stroke="#444444" stroke-width="0.80"/>
<line x1="527.18" y1="288.50" x2="527.18" y2="290.50" stroke="#444444" stroke-width="0.80"/>
<line x1="534.30" y1="288.50" x2="534.30" y2="290.50" stroke="#444444" stroke-width="0.80"/>
<line x1="540.58" y1="288.50" x2="540.58" y2="290.50" stroke="#444444" stroke-width="0.80"/>
<line x1="546.20" y1="288.50" x2="546.20" y2="292.00" stroke="#444444" stroke-width="0.80"/>
<line x1="583.17" y1="288.50" x2="583.17" y2="290.50" stroke="#444444" stroke-width="0.80"/>
<line x1="604.79" y1="288.50" x2="604.79" y2="290.50" stroke="#444444" stroke-width="0.80"/>
<line x1="620.13" y1="288.50" x2="620.13" y2="290.50" stroke="#444444" stroke-width="0.80"/>
<line x1="632.03" y1="288.50" x2="632.03" y2="290.50" stroke="#444444" stroke-width="0.80"/>
<line x1="641.76" y1="288.50" x2="641.76" y2="290.50" stroke="#444444" stroke-width="0.80"/>
<line x1="649.98" y1="288.50" x2="649.98" y2="290.50" stroke="#444444" stroke-width="0.80"/>
<line x1="657.10" y1="288.50" x2="657.10" y2="290.50" stroke="#444444" stroke-width="0.80"/>
<line x1="663.38" y1="288.50" x2="663.38" y2="290.50" stroke="#444444" stroke-width="0.80"/>
<line x1="669.00" y1="288.50" x2="669.00" y2="292.00" stroke="#444444" stroke-width="0.80"/>
<rect x="411.50" y="51.00" width="257.50" height="237.50" fill="none" stroke="#333333" stroke-width="1"/>
<text transform="translate(379.28,69.62) scale(1.176,1)" style="font-family:'Liberation Sans',sans-serif;font-size:16.20px;" fill="#000">1.0</text>
<text transform="translate(380.06,134.60) scale(1.149,1)" style="font-family:'Liberation Sans',sans-serif;font-size:16.20px;" fill="#000">0.6</text>
<text transform="translate(380.07,186.17) scale(1.132,1)" style="font-family:'Liberation Sans',sans-serif;font-size:16.20px;" fill="#000">0.4</text>
<text transform="translate(380.06,222.76) scale(1.149,1)" style="font-family:'Liberation Sans',sans-serif;font-size:16.20px;" fill="#000">0.3</text>
<text transform="translate(380.06,274.33) scale(1.149,1)" style="font-family:'Liberation Sans',sans-serif;font-size:16.20px;" fill="#000">0.2</text>
<text transform="translate(408.98,306.90) scale(1.136,1)" style="font-family:'Liberation Sans',sans-serif;font-size:16.20px;" fill="#000">10</text>
<text transform="translate(429.31,300.70) scale(1.083,1)" style="font-family:'Liberation Sans',sans-serif;font-size:12.50px;" fill="#000">0</text>
<text transform="translate(531.78,306.90) scale(1.136,1)" style="font-family:'Liberation Sans',sans-serif;font-size:16.20px;" fill="#000">10</text>
<text transform="translate(551.79,300.70) scale(0.856,1)" style="font-family:'Liberation Sans',sans-serif;font-size:12.50px;" fill="#000">1</text>
<text transform="translate(654.58,306.90) scale(1.136,1)" style="font-family:'Liberation Sans',sans-serif;font-size:16.20px;" fill="#000">10</text>
<text transform="translate(674.74,300.70) scale(1.130,1)" style="font-family:'Liberation Sans',sans-serif;font-size:12.50px;" fill="#000">2</text>
<text transform="translate(537.63,326.30) scale(1.000,1)" style="font-family:'Liberation Sans',sans-serif;font-size:16.00px;font-style:italic;" fill="#000">r</text>
<rect x="505.50" y="170.50" width="133.00" height="98.00" fill="#fff" stroke="none"/>
<g clip-path="url(#iclipb)" fill="none" stroke-width="1.3" stroke-linejoin="round">
<polyline points="505.5,218.2 525.5,233.9 537.2,246.3 545.5,248.1 552.0,256.1 557.2,258.5 561.7,260.5 565.6,262.1 569.0,262.6 572.0,263.1 574.8,263.8 577.3,263.4 579.6,263.3 581.7,264.3 583.7,263.4 585.6,264.6 587.3,264.5 589.0,264.6 590.5,263.8 592.0,264.0 593.4,264.5 594.8,264.4 596.1,264.3 597.3,264.2 598.5,264.2 599.6,264.2 600.7,264.3 601.7,265.2 602.7,264.6 603.7,264.8 604.7,265.0 605.6,264.2 606.5,264.8 607.3,265.1 608.2,264.5 609.0,265.2 609.8,264.6 610.6,264.5 611.3,264.1 612.0,264.5 612.8,265.2 613.4,264.2 614.1,265.0 614.8,265.2 615.4,264.5 616.1,265.0 616.7,265.1 617.3,265.3 617.9,265.0 618.5,265.0 619.1,264.5 619.6,264.2 620.2,264.4 620.7,264.4 621.2,265.2 621.8,265.0 622.3,264.7 622.8,265.4 623.3,265.2 623.7,264.7 624.2,264.6 624.7,264.2 625.2,264.6 625.6,264.7 626.1,265.4 626.5,265.2 626.9,264.4 627.4,264.4 627.8,264.4 628.2,265.1 628.6,264.4 629.0,264.9 629.4,265.3 629.8,265.4 630.2,264.2 630.6,264.2 631.0,264.5 631.3,264.7 631.7,265.3 632.1,265.3 632.4,264.6 632.8,265.0 633.1,264.5 633.5,264.3 633.8,265.3 634.1,265.4 634.5,265.2 634.8,264.3 635.1,264.5 635.5,264.5 635.8,265.3 636.1,265.0 636.4,265.2 636.7,264.5 637.0,264.6 637.3,265.1 637.6,264.4 637.9,265.4 638.2,264.7 638.5,264.6" stroke="#0b2f22"/>
<polyline points="505.5,234.5 525.5,242.8 537.2,249.1 545.5,250.5 552.0,256.6 557.2,258.8 561.7,260.6 565.6,262.1 569.0,262.8 572.0,263.4 574.8,263.1 577.3,264.2 579.6,264.5 581.7,264.6 583.7,264.1 585.6,264.7 587.3,264.6 589.0,264.2 590.5,264.0 592.0,265.0 593.4,265.1 594.8,264.4 596.1,263.9 597.3,264.6 598.5,264.9 599.6,263.7 600.7,264.4 601.7,263.9 602.7,264.8 603.7,264.3 604.7,263.8 605.6,264.0 606.5,264.5 607.3,264.6 608.2,264.4 609.0,263.9 609.8,264.3 610.6,264.5 611.3,264.0 612.0,264.2 612.8,265.0 613.4,264.1 614.1,263.8 614.8,264.4 615.4,264.6 616.1,264.6 616.7,264.3 617.3,265.3 617.9,263.9 618.5,265.1 619.1,264.9 619.6,265.3 620.2,265.3 620.7,264.2 621.2,264.2 621.8,264.6 622.3,264.1 622.8,265.0 623.3,264.1 623.7,264.3 624.2,265.2 624.7,264.9 625.2,264.6 625.6,265.0 626.1,265.3 626.5,264.7 626.9,264.8 627.4,264.6 627.8,264.4 628.2,265.0 628.6,265.0 629.0,264.2 629.4,264.5 629.8,264.5 630.2,265.3 630.6,265.5 631.0,264.7 631.3,264.6 631.7,265.1 632.1,265.2 632.4,265.2 632.8,264.0 633.1,264.8 633.5,264.9 633.8,265.1 634.1,265.0 634.5,265.4 634.8,265.2 635.1,265.0 635.5,264.3 635.8,264.3 636.1,264.9 636.4,264.8 636.7,264.9 637.0,264.0 637.3,265.0 637.6,264.0 637.9,265.3 638.2,265.3 638.5,265.1" stroke="#0d4d35"/>
<polyline points="505.5,240.2 525.5,246.2 537.2,251.1 545.5,251.7 552.0,257.1 557.2,259.2 561.7,261.1 565.6,262.6 569.0,263.2 572.0,263.7 574.8,263.0 577.3,264.6 579.6,264.5 581.7,264.0 583.7,264.9 585.6,264.7 587.3,265.1 589.0,264.6 590.5,263.6 592.0,263.6 593.4,263.7 594.8,264.7 596.1,264.2 597.3,264.3 598.5,265.1 599.6,263.8 600.7,264.6 601.7,263.7 602.7,264.5 603.7,264.2 604.7,264.5 605.6,264.3 606.5,265.4 607.3,265.1 608.2,264.6 609.0,265.1 609.8,263.8 610.6,265.5 611.3,264.8 612.0,263.7 612.8,264.1 613.4,263.7 614.1,263.6 614.8,264.6 615.4,265.3 616.1,265.5 616.7,265.4 617.3,263.6 617.9,263.8 618.5,264.2 619.1,264.1 619.6,265.2 620.2,265.5 620.7,264.7 621.2,264.5 621.8,264.9 622.3,264.4 622.8,263.8 623.3,264.0 623.7,264.6 624.2,264.7 624.7,264.5 625.2,264.0 625.6,264.2 626.1,264.5 626.5,265.4 626.9,263.8 627.4,264.5 627.8,264.3 628.2,265.0 628.6,265.1 629.0,264.4 629.4,265.1 629.8,264.3 630.2,264.1 630.6,264.8 631.0,265.2 631.3,265.6 631.7,264.2 632.1,263.9 632.4,265.4 632.8,265.5 633.1,264.7 633.5,263.7 633.8,264.7 634.1,264.4 634.5,265.0 634.8,264.0 635.1,265.1 635.5,264.4 635.8,263.8 636.1,264.9 636.4,264.2 636.7,265.0 637.0,264.9 637.3,265.1 637.6,264.4 637.9,264.9 638.2,263.8 638.5,265.4" stroke="#15704f"/>
<polyline points="505.5,242.0 525.5,247.3 537.2,251.7 545.5,252.0 552.0,257.2 557.2,259.4 561.7,261.2 565.6,262.7 569.0,263.3 572.0,263.8 574.8,263.8 577.3,264.3 579.6,263.1 581.7,263.5 583.7,265.1 585.6,263.5 587.3,263.1 589.0,263.8 590.5,264.3 592.0,263.8 593.4,265.1 594.8,264.9 596.1,265.4 597.3,264.3 598.5,265.3 599.6,263.4 600.7,265.1 601.7,265.3 602.7,263.5 603.7,263.9 604.7,264.3 605.6,264.5 606.5,264.0 607.3,263.5 608.2,264.7 609.0,265.5 609.8,264.5 610.6,264.1 611.3,263.9 612.0,263.6 612.8,263.8 613.4,265.1 614.1,264.3 614.8,264.0 615.4,265.3 616.1,264.2 616.7,264.8 617.3,263.6 617.9,263.6 618.5,264.5 619.1,265.5 619.6,263.3 620.2,265.3 620.7,263.5 621.2,264.1 621.8,264.8 622.3,264.7 622.8,263.4 623.3,264.2 623.7,263.7 624.2,264.5 624.7,263.6 625.2,263.8 625.6,264.7 626.1,265.6 626.5,263.6 626.9,265.5 627.4,265.6 627.8,265.7 628.2,264.0 628.6,263.6 629.0,265.4 629.4,264.2 629.8,265.1 630.2,263.9 630.6,263.9 631.0,263.7 631.3,263.5 631.7,265.0 632.1,264.2 632.4,263.6 632.8,263.4 633.1,265.5 633.5,265.4 633.8,263.9 634.1,264.3 634.5,265.4 634.8,263.8 635.1,264.2 635.5,265.0 635.8,264.3 636.1,265.5 636.4,265.6 636.7,263.7 637.0,263.9 637.3,265.3 637.6,265.6 637.9,264.1 638.2,264.6 638.5,264.1" stroke="#1f8c61"/>
<polyline points="505.5,244.1 525.5,248.6 537.2,252.4 545.5,252.5 552.0,257.4 557.2,259.6 561.7,261.4 565.6,262.9 569.0,263.4 572.0,263.9 574.8,263.3 577.3,264.5 579.6,263.5 581.7,263.8 583.7,264.3 585.6,264.9 587.3,263.5 589.0,263.7 590.5,265.2 592.0,265.1 593.4,263.6 594.8,265.6 596.1,265.4 597.3,263.4 598.5,263.9 599.6,263.3 600.7,265.3 601.7,264.6 602.7,265.1 603.7,264.7 604.7,265.0 605.6,264.0 606.5,263.8 607.3,264.0 608.2,263.2 609.0,263.4 609.8,265.4 610.6,263.0 611.3,265.4 612.0,263.5 612.8,263.5 613.4,265.1 614.1,265.1 614.8,264.6 615.4,265.6 616.1,263.0 616.7,263.1 617.3,263.2 617.9,264.6 618.5,263.3 619.1,264.7 619.6,265.5 620.2,263.9 620.7,265.0 621.2,264.3 621.8,264.2 622.3,264.7 622.8,264.7 623.3,263.8 623.7,263.7 624.2,265.6 624.7,263.7 625.2,264.5 625.6,264.3 626.1,263.6 626.5,265.1 626.9,265.2 627.4,264.8 627.8,265.2 628.2,263.9 628.6,264.1 629.0,264.3 629.4,265.7 629.8,265.1 630.2,264.0 630.6,263.1 631.0,265.0 631.3,263.6 631.7,265.6 632.1,263.6 632.4,265.4 632.8,263.7 633.1,264.6 633.5,265.5 633.8,263.5 634.1,265.0 634.5,264.0 634.8,263.4 635.1,263.6 635.5,264.6 635.8,264.3 636.1,263.2 636.4,264.7 636.7,263.7 637.0,264.4 637.3,265.1 637.6,265.2 637.9,264.5 638.2,264.5 638.5,264.6" stroke="#36a57b"/>
<polyline points="505.5,245.9 525.5,249.7 537.2,253.1 545.5,252.9 552.0,257.6 557.2,259.7 561.7,261.6 565.6,263.0 569.0,263.6 572.0,264.0 574.8,264.4 577.3,263.7 579.6,264.9 581.7,264.3 583.7,263.5 585.6,262.5 587.3,262.6 589.0,263.4 590.5,265.6 592.0,262.9 593.4,263.6 594.8,263.0 596.1,265.5 597.3,265.0 598.5,265.5 599.6,265.1 600.7,264.4 601.7,265.2 602.7,265.3 603.7,265.2 604.7,264.5 605.6,263.1 606.5,263.6 607.3,265.2 608.2,265.4 609.0,264.3 609.8,264.5 610.6,263.0 611.3,263.7 612.0,264.0 612.8,263.2 613.4,265.0 614.1,263.8 614.8,263.3 615.4,262.8 616.1,265.1 616.7,263.0 617.3,263.1 617.9,264.6 618.5,264.5 619.1,263.4 619.6,264.5 620.2,264.1 620.7,265.7 621.2,263.2 621.8,263.6 622.3,265.5 622.8,264.9 623.3,263.8 623.7,262.9 624.2,263.9 624.7,264.1 625.2,265.5 625.6,265.2 626.1,264.9 626.5,264.2 626.9,264.1 627.4,265.1 627.8,263.2 628.2,263.5 628.6,265.3 629.0,264.0 629.4,265.6 629.8,265.8 630.2,264.5 630.6,263.9 631.0,264.2 631.3,264.2 631.7,262.9 632.1,264.9 632.4,265.6 632.8,264.8 633.1,263.1 633.5,263.4 633.8,264.6 634.1,265.5 634.5,265.7 634.8,263.6 635.1,264.0 635.5,265.6 635.8,264.5 636.1,263.9 636.4,265.3 636.7,265.8 637.0,265.9 637.3,264.8 637.6,265.5 637.9,264.3 638.2,265.5 638.5,263.2" stroke="#5db58b"/>
<polyline points="505.5,247.6 525.5,250.7 537.2,253.6 545.5,253.2 552.0,257.7 557.2,259.9 561.7,261.7 565.6,263.2 569.0,263.7 572.0,264.1 574.8,264.9 577.3,263.7 579.6,263.8 581.7,264.6 583.7,263.5 585.6,263.0 587.3,264.3 589.0,262.8 590.5,265.0 592.0,264.5 593.4,262.7 594.8,264.3 596.1,264.0 597.3,263.2 598.5,262.5 599.6,262.5 600.7,262.7 601.7,265.4 602.7,265.2 603.7,262.9 604.7,264.1 605.6,264.5 606.5,264.4 607.3,264.3 608.2,264.0 609.0,263.4 609.8,265.7 610.6,262.8 611.3,263.5 612.0,265.0 612.8,264.4 613.4,264.5 614.1,263.0 614.8,264.7 615.4,264.7 616.1,264.7 616.7,264.7 617.3,263.5 617.9,265.7 618.5,265.1 619.1,263.9 619.6,263.5 620.2,265.8 620.7,265.6 621.2,262.5 621.8,264.3 622.3,265.4 622.8,263.2 623.3,265.1 623.7,264.7 624.2,263.4 624.7,263.7 625.2,264.3 625.6,263.1 626.1,263.3 626.5,263.0 626.9,263.5 627.4,264.1 627.8,265.6 628.2,262.9 628.6,265.5 629.0,263.5 629.4,262.7 629.8,263.6 630.2,263.4 630.6,264.6 631.0,265.1 631.3,265.9 631.7,264.5 632.1,265.6 632.4,263.7 632.8,264.0 633.1,264.9 633.5,265.8 633.8,264.5 634.1,265.0 634.5,264.3 634.8,264.5 635.1,265.0 635.5,262.8 635.8,263.4 636.1,264.5 636.4,263.7 636.7,263.6 637.0,264.4 637.3,264.5 637.6,264.6 637.9,264.9 638.2,264.7 638.5,264.6" stroke="#8ec59c"/>
<polyline points="505.5,249.1 525.5,251.6 537.2,254.1 545.5,253.5 552.0,257.9 557.2,260.0 561.7,261.8 565.6,263.3 569.0,263.8 572.0,264.2 574.8,262.4 577.3,263.3 579.6,262.0 581.7,262.0 583.7,264.1 585.6,262.4 587.3,263.8 589.0,262.3 590.5,262.6 592.0,265.4 593.4,262.8 594.8,263.7 596.1,262.3 597.3,264.7 598.5,263.3 599.6,262.5 600.7,263.7 601.7,265.4 602.7,264.6 603.7,263.3 604.7,263.2 605.6,264.3 606.5,263.0 607.3,262.5 608.2,265.9 609.0,263.0 609.8,265.0 610.6,262.7 611.3,265.4 612.0,263.5 612.8,263.2 613.4,265.2 614.1,265.4 614.8,265.0 615.4,262.8 616.1,263.7 616.7,265.4 617.3,262.7 617.9,265.4 618.5,263.0 619.1,265.7 619.6,264.9 620.2,263.8 620.7,263.8 621.2,262.9 621.8,265.2 622.3,264.1 622.8,264.1 623.3,265.8 623.7,263.5 624.2,262.4 624.7,265.4 625.2,265.9 625.6,262.6 626.1,263.8 626.5,262.8 626.9,264.6 627.4,262.8 627.8,265.7 628.2,263.8 628.6,265.8 629.0,264.0 629.4,265.8 629.8,265.3 630.2,263.8 630.6,263.8 631.0,263.0 631.3,264.9 631.7,263.2 632.1,264.0 632.4,263.6 632.8,265.7 633.1,263.7 633.5,265.9 633.8,263.8 634.1,266.0 634.5,263.1 634.8,265.0 635.1,265.7 635.5,262.6 635.8,265.1 636.1,264.6 636.4,264.7 636.7,263.4 637.0,265.7 637.3,265.2 637.6,266.1 637.9,263.0 638.2,265.3 638.5,262.8" stroke="#c8d8ae"/>
<polyline points="505.5,252.9 525.5,253.9 537.2,255.5 545.5,254.3 552.0,258.2 557.2,260.3 561.7,262.2 565.6,263.6 569.0,264.0 572.0,264.4 574.8,264.4 577.3,262.4 579.6,265.1 581.7,265.2 583.7,263.2 585.6,262.6 587.3,261.8 589.0,262.5 590.5,263.4 592.0,265.5 593.4,262.1 594.8,265.5 596.1,263.1 597.3,264.7 598.5,264.1 599.6,265.6 600.7,262.9 601.7,264.9 602.7,262.7 603.7,265.4 604.7,263.8 605.6,263.3 606.5,264.3 607.3,265.6 608.2,264.1 609.0,264.4 609.8,265.5 610.6,262.5 611.3,262.7 612.0,262.5 612.8,262.3 613.4,264.2 614.1,262.1 614.8,264.4 615.4,265.0 616.1,265.7 616.7,266.0 617.3,262.7 617.9,263.8 618.5,265.8 619.1,263.3 619.6,263.6 620.2,264.2 620.7,265.2 621.2,265.3 621.8,263.4 622.3,264.0 622.8,262.3 623.3,265.5 623.7,264.0 624.2,264.8 624.7,262.9 625.2,262.1 625.6,262.2 626.1,265.3 626.5,265.2 626.9,263.2 627.4,264.8 627.8,262.8 628.2,264.8 628.6,265.1 629.0,262.5 629.4,264.3 629.8,265.5 630.2,265.3 630.6,265.4 631.0,265.8 631.3,264.6 631.7,263.2 632.1,262.4 632.4,263.7 632.8,262.8 633.1,262.1 633.5,262.9 633.8,265.9 634.1,264.1 634.5,263.1 634.8,263.4 635.1,262.2 635.5,263.8 635.8,262.3 636.1,263.2 636.4,264.4 636.7,262.2 637.0,264.7 637.3,264.2 637.6,265.5 637.9,262.5 638.2,264.1 638.5,264.7" stroke="#ffe3bb"/>
</g>
<line x1="505.50" y1="268.50" x2="505.50" y2="271.50" stroke="#444444" stroke-width="0.80"/>
<line x1="525.52" y1="268.50" x2="525.52" y2="270.30" stroke="#444444" stroke-width="0.80"/>
<line x1="537.23" y1="268.50" x2="537.23" y2="270.30" stroke="#444444" stroke-width="0.80"/>
<line x1="545.54" y1="268.50" x2="545.54" y2="270.30" stroke="#444444" stroke-width="0.80"/>
<line x1="551.98" y1="268.50" x2="551.98" y2="270.30" stroke="#444444" stroke-width="0.80"/>
<line x1="557.25" y1="268.50" x2="557.25" y2="270.30" stroke="#444444" stroke-width="0.80"/>
<line x1="561.70" y1="268.50" x2="561.70" y2="270.30" stroke="#444444" stroke-width="0.80"/>
<line x1="565.56" y1="268.50" x2="565.56" y2="270.30" stroke="#444444" stroke-width="0.80"/>
<line x1="568.96" y1="268.50" x2="568.96" y2="270.30" stroke="#444444" stroke-width="0.80"/>
<line x1="572.00" y1="268.50" x2="572.00" y2="271.50" stroke="#444444" stroke-width="0.80"/>
<line x1="592.02" y1="268.50" x2="592.02" y2="270.30" stroke="#444444" stroke-width="0.80"/>
<line x1="603.73" y1="268.50" x2="603.73" y2="270.30" stroke="#444444" stroke-width="0.80"/>
<line x1="612.04" y1="268.50" x2="612.04" y2="270.30" stroke="#444444" stroke-width="0.80"/>
<line x1="618.48" y1="268.50" x2="618.48" y2="270.30" stroke="#444444" stroke-width="0.80"/>
<line x1="623.75" y1="268.50" x2="623.75" y2="270.30" stroke="#444444" stroke-width="0.80"/>
<line x1="628.20" y1="268.50" x2="628.20" y2="270.30" stroke="#444444" stroke-width="0.80"/>
<line x1="632.06" y1="268.50" x2="632.06" y2="270.30" stroke="#444444" stroke-width="0.80"/>
<line x1="635.46" y1="268.50" x2="635.46" y2="270.30" stroke="#444444" stroke-width="0.80"/>
<line x1="638.50" y1="268.50" x2="638.50" y2="271.50" stroke="#444444" stroke-width="0.80"/>
<line x1="638.50" y1="267.10" x2="641.50" y2="267.10" stroke="#444444" stroke-width="0.80"/>
<line x1="638.50" y1="235.27" x2="641.50" y2="235.27" stroke="#444444" stroke-width="0.80"/>
<line x1="638.50" y1="203.44" x2="641.50" y2="203.44" stroke="#444444" stroke-width="0.80"/>
<line x1="638.50" y1="171.61" x2="641.50" y2="171.61" stroke="#444444" stroke-width="0.80"/>
<rect x="505.50" y="170.50" width="133.00" height="98.00" fill="none" stroke="#333333" stroke-width="1"/>
<text transform="translate(644.70,272.40) scale(1.087,1)" style="font-family:'Liberation Sans',sans-serif;font-size:13.70px;" fill="#000">0.0</text>
<text transform="translate(644.70,240.57) scale(1.095,1)" style="font-family:'Liberation Sans',sans-serif;font-size:13.70px;" fill="#000">0.2</text>
<text transform="translate(644.71,208.74) scale(1.078,1)" style="font-family:'Liberation Sans',sans-serif;font-size:13.70px;" fill="#000">0.4</text>
<text transform="translate(644.70,176.91) scale(1.095,1)" style="font-family:'Liberation Sans',sans-serif;font-size:13.70px;" fill="#000">0.6</text>
<text transform="translate(493.46,284.70) scale(1.096,1)" style="font-family:'Liberation Sans',sans-serif;font-size:13.60px;" fill="#000">10</text>
<text transform="translate(510.72,279.50) scale(1.083,1)" style="font-family:'Liberation Sans',sans-serif;font-size:10.00px;" fill="#000">0</text>
<text transform="translate(559.96,284.70) scale(1.096,1)" style="font-family:'Liberation Sans',sans-serif;font-size:13.60px;" fill="#000">10</text>
<text transform="translate(576.87,279.50) scale(0.977,1)" style="font-family:'Liberation Sans',sans-serif;font-size:10.00px;" fill="#000">1</text>
<text transform="translate(626.46,284.70) scale(1.096,1)" style="font-family:'Liberation Sans',sans-serif;font-size:13.60px;" fill="#000">10</text>
<text transform="translate(643.58,279.50) scale(1.130,1)" style="font-family:'Liberation Sans',sans-serif;font-size:10.00px;" fill="#000">2</text>
<text transform="translate(569.47,166.90) scale(1.000,1)" style="font-family:'Liberation Sans',sans-serif;font-size:13.00px;font-style:italic;" fill="#000">r</text>
<g clip-path="url(#clipc)">
<use href="#m0" x="73.5" y="604.5"/>
<use href="#m0" x="110.5" y="541.5"/>
<use href="#m0" x="131.5" y="513.5"/>
<use href="#m0" x="147.5" y="494.5"/>
<use href="#m0" x="159.5" y="478.5"/>
<use href="#m0" x="168.5" y="468.5"/>
<use href="#m0" x="177.5" y="459.5"/>
<use href="#m0" x="184.5" y="452.5"/>
<use href="#m0" x="190.5" y="445.5"/>
<use href="#m0" x="196.5" y="441.5"/>
<use href="#m0" x="201.5" y="437.5"/>
<use href="#m0" x="205.5" y="434.5"/>
<use href="#m0" x="210.5" y="431.5"/>
<use href="#m0" x="214.5" y="429.5"/>
<use href="#m0" x="217.5" y="426.5"/>
<use href="#m0" x="221.5" y="423.5"/>
<use href="#m0" x="224.5" y="421.5"/>
<use href="#m0" x="227.5" y="418.5"/>
<use href="#m0" x="230.5" y="416.5"/>
<use href="#m0" x="233.5" y="414.5"/>
<use href="#m0" x="235.5" y="412.5"/>
<use href="#m0" x="238.5" y="411.5"/>
<use href="#m0" x="240.5" y="409.5"/>
<use href="#m0" x="242.5" y="407.5"/>
<use href="#m0" x="244.5" y="406.5"/>
<use href="#m0" x="247.5" y="405.5"/>
<use href="#m0" x="249.5" y="404.5"/>
<use href="#m0" x="250.5" y="404.5"/>
<use href="#m0" x="252.5" y="403.5"/>
<use href="#m0" x="254.5" y="402.5"/>
<use href="#m0" x="256.5" y="402.5"/>
<use href="#m0" x="258.5" y="401.5"/>
<use href="#m0" x="259.5" y="400.5"/>
<use href="#m0" x="261.5" y="400.5"/>
<use href="#m0" x="262.5" y="399.5"/>
<use href="#m0" x="264.5" y="399.5"/>
<use href="#m0" x="265.5" y="398.5"/>
<use href="#m0" x="267.5" y="398.5"/>
<use href="#m0" x="268.5" y="397.5"/>
<use href="#m0" x="269.5" y="397.5"/>
<use href="#m0" x="271.5" y="397.5"/>
<use href="#m0" x="272.5" y="396.5"/>
<use href="#m0" x="273.5" y="396.5"/>
<use href="#m0" x="275.5" y="395.5"/>
<use href="#m0" x="276.5" y="395.5"/>
<use href="#m0" x="277.5" y="394.5"/>
<use href="#m0" x="278.5" y="394.5"/>
<use href="#m0" x="279.5" y="393.5"/>
<use href="#m0" x="280.5" y="393.5"/>
<use href="#m0" x="281.5" y="392.5"/>
<use href="#m0" x="282.5" y="392.5"/>
<use href="#m0" x="283.5" y="392.5"/>
<use href="#m0" x="284.5" y="391.5"/>
<use href="#m0" x="285.5" y="391.5"/>
<use href="#m0" x="286.5" y="391.5"/>
<use href="#m0" x="287.5" y="391.5"/>
<use href="#m0" x="288.5" y="391.5"/>
<use href="#m0" x="289.5" y="390.5"/>
<use href="#m0" x="290.5" y="390.5"/>
<use href="#m0" x="291.5" y="390.5"/>
<use href="#m0" x="292.5" y="390.5"/>
<use href="#m0" x="293.5" y="390.5"/>
<use href="#m0" x="294.5" y="389.5"/>
<use href="#m0" x="295.5" y="389.5"/>
<use href="#m0" x="295.5" y="389.5"/>
<use href="#m0" x="296.5" y="389.5"/>
<use href="#m0" x="297.5" y="389.5"/>
<use href="#m0" x="298.5" y="389.5"/>
<use href="#m0" x="299.5" y="389.5"/>
<use href="#m0" x="299.5" y="388.5"/>
<use href="#m0" x="300.5" y="388.5"/>
<use href="#m0" x="301.5" y="388.5"/>
<use href="#m0" x="302.5" y="388.5"/>
<use href="#m0" x="302.5" y="388.5"/>
<use href="#m0" x="303.5" y="388.5"/>
<use href="#m0" x="304.5" y="387.5"/>
<use href="#m0" x="304.5" y="387.5"/>
<use href="#m0" x="305.5" y="387.5"/>
<use href="#m0" x="306.5" y="387.5"/>
<use href="#m0" x="306.5" y="387.5"/>
<use href="#m0" x="307.5" y="387.5"/>
<use href="#m0" x="308.5" y="387.5"/>
<use href="#m0" x="308.5" y="386.5"/>
<use href="#m0" x="309.5" y="386.5"/>
<use href="#m0" x="310.5" y="386.5"/>
<use href="#m0" x="310.5" y="386.5"/>
<use href="#m0" x="311.5" y="386.5"/>
<use href="#m0" x="311.5" y="386.5"/>
<use href="#m0" x="312.5" y="386.5"/>
<use href="#m0" x="313.5" y="386.5"/>
<use href="#m0" x="313.5" y="385.5"/>
<use href="#m0" x="314.5" y="385.5"/>
<use href="#m0" x="314.5" y="385.5"/>
<use href="#m0" x="315.5" y="385.5"/>
<use href="#m0" x="316.5" y="385.5"/>
<use href="#m0" x="316.5" y="385.5"/>
<use href="#m0" x="317.5" y="385.5"/>
<use href="#m0" x="317.5" y="385.5"/>
<use href="#m0" x="318.5" y="385.5"/>
<use href="#m0" x="318.5" y="384.5"/>
<use href="#m0" x="319.5" y="384.5"/>
<use href="#m0" x="319.5" y="384.5"/>
<use href="#m0" x="320.5" y="384.5"/>
<use href="#m0" x="320.5" y="384.5"/>
<use href="#m0" x="321.5" y="384.5"/>
<use href="#m0" x="321.5" y="384.5"/>
<use href="#m0" x="322.5" y="384.5"/>
<use href="#m0" x="322.5" y="384.5"/>
<use href="#m0" x="323.5" y="384.5"/>
<use href="#m0" x="323.5" y="384.5"/>
<use href="#m1" x="73.5" y="527.5"/>
<use href="#m1" x="110.5" y="493.5"/>
<use href="#m1" x="131.5" y="476.5"/>
<use href="#m1" x="147.5" y="466.5"/>
<use href="#m1" x="159.5" y="456.5"/>
<use href="#m1" x="168.5" y="449.5"/>
<use href="#m1" x="177.5" y="444.5"/>
<use href="#m1" x="184.5" y="439.5"/>
<use href="#m1" x="190.5" y="435.5"/>
<use href="#m1" x="196.5" y="433.5"/>
<use href="#m1" x="201.5" y="430.5"/>
<use href="#m1" x="205.5" y="428.5"/>
<use href="#m1" x="210.5" y="426.5"/>
<use href="#m1" x="214.5" y="424.5"/>
<use href="#m1" x="217.5" y="423.5"/>
<use href="#m1" x="221.5" y="420.5"/>
<use href="#m1" x="224.5" y="418.5"/>
<use href="#m1" x="227.5" y="416.5"/>
<use href="#m1" x="230.5" y="415.5"/>
<use href="#m1" x="233.5" y="414.5"/>
<use href="#m1" x="235.5" y="413.5"/>
<use href="#m1" x="238.5" y="411.5"/>
<use href="#m1" x="240.5" y="410.5"/>
<use href="#m1" x="242.5" y="409.5"/>
<use href="#m1" x="244.5" y="408.5"/>
<use href="#m1" x="247.5" y="408.5"/>
<use href="#m1" x="249.5" y="407.5"/>
<use href="#m1" x="250.5" y="406.5"/>
<use href="#m1" x="252.5" y="405.5"/>
<use href="#m1" x="254.5" y="405.5"/>
<use href="#m1" x="256.5" y="404.5"/>
<use href="#m1" x="258.5" y="403.5"/>
<use href="#m1" x="259.5" y="403.5"/>
<use href="#m1" x="261.5" y="402.5"/>
<use href="#m1" x="262.5" y="401.5"/>
<use href="#m1" x="264.5" y="401.5"/>
<use href="#m1" x="265.5" y="401.5"/>
<use href="#m1" x="267.5" y="400.5"/>
<use href="#m1" x="268.5" y="400.5"/>
<use href="#m1" x="269.5" y="399.5"/>
<use href="#m1" x="271.5" y="399.5"/>
<use href="#m1" x="272.5" y="399.5"/>
<use href="#m1" x="273.5" y="398.5"/>
<use href="#m1" x="275.5" y="398.5"/>
<use href="#m1" x="276.5" y="398.5"/>
<use href="#m1" x="277.5" y="397.5"/>
<use href="#m1" x="278.5" y="397.5"/>
<use href="#m1" x="279.5" y="397.5"/>
<use href="#m1" x="280.5" y="396.5"/>
<use href="#m1" x="281.5" y="396.5"/>
<use href="#m1" x="282.5" y="395.5"/>
<use href="#m1" x="283.5" y="395.5"/>
<use href="#m1" x="284.5" y="395.5"/>
<use href="#m1" x="285.5" y="394.5"/>
<use href="#m1" x="286.5" y="394.5"/>
<use href="#m1" x="287.5" y="394.5"/>
<use href="#m1" x="288.5" y="394.5"/>
<use href="#m1" x="289.5" y="394.5"/>
<use href="#m1" x="290.5" y="393.5"/>
<use href="#m1" x="291.5" y="393.5"/>
<use href="#m1" x="292.5" y="393.5"/>
<use href="#m1" x="293.5" y="393.5"/>
<use href="#m1" x="294.5" y="393.5"/>
<use href="#m1" x="295.5" y="392.5"/>
<use href="#m1" x="295.5" y="392.5"/>
<use href="#m1" x="296.5" y="392.5"/>
<use href="#m1" x="297.5" y="392.5"/>
<use href="#m1" x="298.5" y="392.5"/>
<use href="#m1" x="299.5" y="391.5"/>
<use href="#m1" x="299.5" y="391.5"/>
<use href="#m1" x="300.5" y="391.5"/>
<use href="#m1" x="301.5" y="391.5"/>
<use href="#m1" x="302.5" y="391.5"/>
<use href="#m1" x="302.5" y="391.5"/>
<use href="#m1" x="303.5" y="390.5"/>
<use href="#m1" x="304.5" y="390.5"/>
<use href="#m1" x="304.5" y="390.5"/>
<use href="#m1" x="305.5" y="390.5"/>
<use href="#m1" x="306.5" y="390.5"/>
<use href="#m1" x="306.5" y="390.5"/>
<use href="#m1" x="307.5" y="389.5"/>
<use href="#m1" x="308.5" y="389.5"/>
<use href="#m1" x="308.5" y="389.5"/>
<use href="#m1" x="309.5" y="389.5"/>
<use href="#m1" x="310.5" y="389.5"/>
<use href="#m1" x="310.5" y="389.5"/>
<use href="#m1" x="311.5" y="388.5"/>
<use href="#m1" x="311.5" y="388.5"/>
<use href="#m1" x="312.5" y="388.5"/>
<use href="#m1" x="313.5" y="388.5"/>
<use href="#m1" x="313.5" y="388.5"/>
<use href="#m1" x="314.5" y="388.5"/>
<use href="#m1" x="314.5" y="388.5"/>
<use href="#m1" x="315.5" y="387.5"/>
<use href="#m1" x="316.5" y="387.5"/>
<use href="#m1" x="316.5" y="387.5"/>
<use href="#m1" x="317.5" y="387.5"/>
<use href="#m1" x="317.5" y="387.5"/>
<use href="#m1" x="318.5" y="387.5"/>
<use href="#m1" x="318.5" y="387.5"/>
<use href="#m1" x="319.5" y="387.5"/>
<use href="#m1" x="319.5" y="387.5"/>
<use href="#m1" x="320.5" y="387.5"/>
<use href="#m1" x="320.5" y="387.5"/>
<use href="#m1" x="321.5" y="387.5"/>
<use href="#m1" x="321.5" y="387.5"/>
<use href="#m1" x="322.5" y="387.5"/>
<use href="#m1" x="322.5" y="387.5"/>
<use href="#m1" x="323.5" y="387.5"/>
<use href="#m1" x="323.5" y="387.5"/>
<use href="#m2" x="73.5" y="507.5"/>
<use href="#m2" x="110.5" y="488.5"/>
<use href="#m2" x="131.5" y="473.5"/>
<use href="#m2" x="147.5" y="462.5"/>
<use href="#m2" x="159.5" y="453.5"/>
<use href="#m2" x="168.5" y="447.5"/>
<use href="#m2" x="177.5" y="442.5"/>
<use href="#m2" x="184.5" y="438.5"/>
<use href="#m2" x="190.5" y="434.5"/>
<use href="#m2" x="196.5" y="432.5"/>
<use href="#m2" x="201.5" y="430.5"/>
<use href="#m2" x="205.5" y="427.5"/>
<use href="#m2" x="210.5" y="426.5"/>
<use href="#m2" x="214.5" y="424.5"/>
<use href="#m2" x="217.5" y="422.5"/>
<use href="#m2" x="221.5" y="420.5"/>
<use href="#m2" x="224.5" y="418.5"/>
<use href="#m2" x="227.5" y="416.5"/>
<use href="#m2" x="230.5" y="415.5"/>
<use href="#m2" x="233.5" y="414.5"/>
<use href="#m2" x="235.5" y="413.5"/>
<use href="#m2" x="238.5" y="412.5"/>
<use href="#m2" x="240.5" y="411.5"/>
<use href="#m2" x="242.5" y="410.5"/>
<use href="#m2" x="244.5" y="409.5"/>
<use href="#m2" x="247.5" y="408.5"/>
<use href="#m2" x="249.5" y="407.5"/>
<use href="#m2" x="250.5" y="406.5"/>
<use href="#m2" x="252.5" y="406.5"/>
<use href="#m2" x="254.5" y="405.5"/>
<use href="#m2" x="256.5" y="404.5"/>
<use href="#m2" x="258.5" y="403.5"/>
<use href="#m2" x="259.5" y="403.5"/>
<use href="#m2" x="261.5" y="402.5"/>
<use href="#m2" x="262.5" y="402.5"/>
<use href="#m2" x="264.5" y="401.5"/>
<use href="#m2" x="265.5" y="401.5"/>
<use href="#m2" x="267.5" y="401.5"/>
<use href="#m2" x="268.5" y="400.5"/>
<use href="#m2" x="269.5" y="400.5"/>
<use href="#m2" x="271.5" y="399.5"/>
<use href="#m2" x="272.5" y="399.5"/>
<use href="#m2" x="273.5" y="399.5"/>
<use href="#m2" x="275.5" y="398.5"/>
<use href="#m2" x="276.5" y="398.5"/>
<use href="#m2" x="277.5" y="398.5"/>
<use href="#m2" x="278.5" y="397.5"/>
<use href="#m2" x="279.5" y="397.5"/>
<use href="#m2" x="280.5" y="397.5"/>
<use href="#m2" x="281.5" y="396.5"/>
<use href="#m2" x="282.5" y="396.5"/>
<use href="#m2" x="283.5" y="395.5"/>
<use href="#m2" x="284.5" y="395.5"/>
<use href="#m2" x="285.5" y="395.5"/>
<use href="#m2" x="286.5" y="394.5"/>
<use href="#m2" x="287.5" y="394.5"/>
<use href="#m2" x="288.5" y="394.5"/>
<use href="#m2" x="289.5" y="394.5"/>
<use href="#m2" x="290.5" y="394.5"/>
<use href="#m2" x="291.5" y="393.5"/>
<use href="#m2" x="292.5" y="393.5"/>
<use href="#m2" x="293.5" y="393.5"/>
<use href="#m2" x="294.5" y="393.5"/>
<use href="#m2" x="295.5" y="393.5"/>
<use href="#m2" x="295.5" y="393.5"/>
<use href="#m2" x="296.5" y="392.5"/>
<use href="#m2" x="297.5" y="392.5"/>
<use href="#m2" x="298.5" y="392.5"/>
<use href="#m2" x="299.5" y="392.5"/>
<use href="#m2" x="299.5" y="392.5"/>
<use href="#m2" x="300.5" y="391.5"/>
<use href="#m2" x="301.5" y="391.5"/>
<use href="#m2" x="302.5" y="391.5"/>
<use href="#m2" x="302.5" y="391.5"/>
<use href="#m2" x="303.5" y="391.5"/>
<use href="#m2" x="304.5" y="390.5"/>
<use href="#m2" x="304.5" y="390.5"/>
<use href="#m2" x="305.5" y="390.5"/>
<use href="#m2" x="306.5" y="390.5"/>
<use href="#m2" x="306.5" y="390.5"/>
<use href="#m2" x="307.5" y="390.5"/>
<use href="#m2" x="308.5" y="389.5"/>
<use href="#m2" x="308.5" y="389.5"/>
<use href="#m2" x="309.5" y="389.5"/>
<use href="#m2" x="310.5" y="389.5"/>
<use href="#m2" x="310.5" y="389.5"/>
<use href="#m2" x="311.5" y="389.5"/>
<use href="#m2" x="311.5" y="389.5"/>
<use href="#m2" x="312.5" y="388.5"/>
<use href="#m2" x="313.5" y="388.5"/>
<use href="#m2" x="313.5" y="388.5"/>
<use href="#m2" x="314.5" y="388.5"/>
<use href="#m2" x="314.5" y="388.5"/>
<use href="#m2" x="315.5" y="388.5"/>
<use href="#m2" x="316.5" y="388.5"/>
<use href="#m2" x="316.5" y="387.5"/>
<use href="#m2" x="317.5" y="387.5"/>
<use href="#m2" x="317.5" y="387.5"/>
<use href="#m2" x="318.5" y="387.5"/>
<use href="#m2" x="318.5" y="387.5"/>
<use href="#m2" x="319.5" y="387.5"/>
<use href="#m2" x="319.5" y="387.5"/>
<use href="#m2" x="320.5" y="387.5"/>
<use href="#m2" x="320.5" y="387.5"/>
<use href="#m2" x="321.5" y="387.5"/>
<use href="#m2" x="321.5" y="387.5"/>
<use href="#m2" x="322.5" y="387.5"/>
<use href="#m2" x="322.5" y="387.5"/>
<use href="#m2" x="323.5" y="387.5"/>
<use href="#m2" x="323.5" y="387.5"/>
<use href="#m3" x="73.5" y="500.5"/>
<use href="#m3" x="110.5" y="480.5"/>
<use href="#m3" x="131.5" y="467.5"/>
<use href="#m3" x="147.5" y="458.5"/>
<use href="#m3" x="159.5" y="450.5"/>
<use href="#m3" x="168.5" y="444.5"/>
<use href="#m3" x="177.5" y="440.5"/>
<use href="#m3" x="184.5" y="436.5"/>
<use href="#m3" x="190.5" y="433.5"/>
<use href="#m3" x="196.5" y="431.5"/>
<use href="#m3" x="201.5" y="428.5"/>
<use href="#m3" x="205.5" y="426.5"/>
<use href="#m3" x="210.5" y="425.5"/>
<use href="#m3" x="214.5" y="423.5"/>
<use href="#m3" x="217.5" y="422.5"/>
<use href="#m3" x="221.5" y="420.5"/>
<use href="#m3" x="224.5" y="418.5"/>
<use href="#m3" x="227.5" y="416.5"/>
<use href="#m3" x="230.5" y="415.5"/>
<use href="#m3" x="233.5" y="414.5"/>
<use href="#m3" x="235.5" y="413.5"/>
<use href="#m3" x="238.5" y="412.5"/>
<use href="#m3" x="240.5" y="411.5"/>
<use href="#m3" x="242.5" y="410.5"/>
<use href="#m3" x="244.5" y="409.5"/>
<use href="#m3" x="247.5" y="408.5"/>
<use href="#m3" x="249.5" y="407.5"/>
<use href="#m3" x="250.5" y="407.5"/>
<use href="#m3" x="252.5" y="406.5"/>
<use href="#m3" x="254.5" y="405.5"/>
<use href="#m3" x="256.5" y="405.5"/>
<use href="#m3" x="258.5" y="404.5"/>
<use href="#m3" x="259.5" y="403.5"/>
<use href="#m3" x="261.5" y="403.5"/>
<use href="#m3" x="262.5" y="402.5"/>
<use href="#m3" x="264.5" y="402.5"/>
<use href="#m3" x="265.5" y="401.5"/>
<use href="#m3" x="267.5" y="401.5"/>
<use href="#m3" x="268.5" y="401.5"/>
<use href="#m3" x="269.5" y="400.5"/>
<use href="#m3" x="271.5" y="400.5"/>
<use href="#m3" x="272.5" y="399.5"/>
<use href="#m3" x="273.5" y="399.5"/>
<use href="#m3" x="275.5" y="399.5"/>
<use href="#m3" x="276.5" y="398.5"/>
<use href="#m3" x="277.5" y="398.5"/>
<use href="#m3" x="278.5" y="398.5"/>
<use href="#m3" x="279.5" y="397.5"/>
<use href="#m3" x="280.5" y="397.5"/>
<use href="#m3" x="281.5" y="397.5"/>
<use href="#m3" x="282.5" y="396.5"/>
<use href="#m3" x="283.5" y="396.5"/>
<use href="#m3" x="284.5" y="396.5"/>
<use href="#m3" x="285.5" y="395.5"/>
<use href="#m3" x="286.5" y="395.5"/>
<use href="#m3" x="287.5" y="395.5"/>
<use href="#m3" x="288.5" y="395.5"/>
<use href="#m3" x="289.5" y="394.5"/>
<use href="#m3" x="290.5" y="394.5"/>
<use href="#m3" x="291.5" y="394.5"/>
<use href="#m3" x="292.5" y="394.5"/>
<use href="#m3" x="293.5" y="394.5"/>
<use href="#m3" x="294.5" y="393.5"/>
<use href="#m3" x="295.5" y="393.5"/>
<use href="#m3" x="295.5" y="393.5"/>
<use href="#m3" x="296.5" y="393.5"/>
<use href="#m3" x="297.5" y="393.5"/>
<use href="#m3" x="298.5" y="392.5"/>
<use href="#m3" x="299.5" y="392.5"/>
<use href="#m3" x="299.5" y="392.5"/>
<use href="#m3" x="300.5" y="392.5"/>
<use href="#m3" x="301.5" y="392.5"/>
<use href="#m3" x="302.5" y="391.5"/>
<use href="#m3" x="302.5" y="391.5"/>
<use href="#m3" x="303.5" y="391.5"/>
<use href="#m3" x="304.5" y="391.5"/>
<use href="#m3" x="304.5" y="391.5"/>
<use href="#m3" x="305.5" y="391.5"/>
<use href="#m3" x="306.5" y="390.5"/>
<use href="#m3" x="306.5" y="390.5"/>
<use href="#m3" x="307.5" y="390.5"/>
<use href="#m3" x="308.5" y="390.5"/>
<use href="#m3" x="308.5" y="390.5"/>
<use href="#m3" x="309.5" y="390.5"/>
<use href="#m3" x="310.5" y="389.5"/>
<use href="#m3" x="310.5" y="389.5"/>
<use href="#m3" x="311.5" y="389.5"/>
<use href="#m3" x="311.5" y="389.5"/>
<use href="#m3" x="312.5" y="389.5"/>
<use href="#m3" x="313.5" y="389.5"/>
<use href="#m3" x="313.5" y="388.5"/>
<use href="#m3" x="314.5" y="388.5"/>
<use href="#m3" x="314.5" y="388.5"/>
<use href="#m3" x="315.5" y="388.5"/>
<use href="#m3" x="316.5" y="388.5"/>
<use href="#m3" x="316.5" y="388.5"/>
<use href="#m3" x="317.5" y="388.5"/>
<use href="#m3" x="317.5" y="387.5"/>
<use href="#m3" x="318.5" y="387.5"/>
<use href="#m3" x="318.5" y="387.5"/>
<use href="#m3" x="319.5" y="387.5"/>
<use href="#m3" x="319.5" y="387.5"/>
<use href="#m3" x="320.5" y="387.5"/>
<use href="#m3" x="320.5" y="387.5"/>
<use href="#m3" x="321.5" y="387.5"/>
<use href="#m3" x="321.5" y="387.5"/>
<use href="#m3" x="322.5" y="387.5"/>
<use href="#m3" x="322.5" y="387.5"/>
<use href="#m3" x="323.5" y="387.5"/>
<use href="#m3" x="323.5" y="387.5"/>
<use href="#m4" x="73.5" y="495.5"/>
<use href="#m4" x="110.5" y="475.5"/>
<use href="#m4" x="131.5" y="463.5"/>
<use href="#m4" x="147.5" y="455.5"/>
<use href="#m4" x="159.5" y="448.5"/>
<use href="#m4" x="168.5" y="443.5"/>
<use href="#m4" x="177.5" y="438.5"/>
<use href="#m4" x="184.5" y="434.5"/>
<use href="#m4" x="190.5" y="432.5"/>
<use href="#m4" x="196.5" y="430.5"/>
<use href="#m4" x="201.5" y="428.5"/>
<use href="#m4" x="205.5" y="426.5"/>
<use href="#m4" x="210.5" y="424.5"/>
<use href="#m4" x="214.5" y="423.5"/>
<use href="#m4" x="217.5" y="421.5"/>
<use href="#m4" x="221.5" y="419.5"/>
<use href="#m4" x="224.5" y="417.5"/>
<use href="#m4" x="227.5" y="416.5"/>
<use href="#m4" x="230.5" y="415.5"/>
<use href="#m4" x="233.5" y="414.5"/>
<use href="#m4" x="235.5" y="413.5"/>
<use href="#m4" x="238.5" y="412.5"/>
<use href="#m4" x="240.5" y="411.5"/>
<use href="#m4" x="242.5" y="410.5"/>
<use href="#m4" x="244.5" y="409.5"/>
<use href="#m4" x="247.5" y="408.5"/>
<use href="#m4" x="249.5" y="408.5"/>
<use href="#m4" x="250.5" y="407.5"/>
<use href="#m4" x="252.5" y="406.5"/>
<use href="#m4" x="254.5" y="405.5"/>
<use href="#m4" x="256.5" y="405.5"/>
<use href="#m4" x="258.5" y="404.5"/>
<use href="#m4" x="259.5" y="403.5"/>
<use href="#m4" x="261.5" y="403.5"/>
<use href="#m4" x="262.5" y="402.5"/>
<use href="#m4" x="264.5" y="402.5"/>
<use href="#m4" x="265.5" y="402.5"/>
<use href="#m4" x="267.5" y="401.5"/>
<use href="#m4" x="268.5" y="401.5"/>
<use href="#m4" x="269.5" y="400.5"/>
<use href="#m4" x="271.5" y="400.5"/>
<use href="#m4" x="272.5" y="400.5"/>
<use href="#m4" x="273.5" y="399.5"/>
<use href="#m4" x="275.5" y="399.5"/>
<use href="#m4" x="276.5" y="399.5"/>
<use href="#m4" x="277.5" y="398.5"/>
<use href="#m4" x="278.5" y="398.5"/>
<use href="#m4" x="279.5" y="398.5"/>
<use href="#m4" x="280.5" y="397.5"/>
<use href="#m4" x="281.5" y="397.5"/>
<use href="#m4" x="282.5" y="397.5"/>
<use href="#m4" x="283.5" y="396.5"/>
<use href="#m4" x="284.5" y="396.5"/>
<use href="#m4" x="285.5" y="396.5"/>
<use href="#m4" x="286.5" y="395.5"/>
<use href="#m4" x="287.5" y="395.5"/>
<use href="#m4" x="288.5" y="395.5"/>
<use href="#m4" x="289.5" y="395.5"/>
<use href="#m4" x="290.5" y="395.5"/>
<use href="#m4" x="291.5" y="394.5"/>
<use href="#m4" x="292.5" y="394.5"/>
<use href="#m4" x="293.5" y="394.5"/>
<use href="#m4" x="294.5" y="394.5"/>
<use href="#m4" x="295.5" y="394.5"/>
<use href="#m4" x="295.5" y="393.5"/>
<use href="#m4" x="296.5" y="393.5"/>
<use href="#m4" x="297.5" y="393.5"/>
<use href="#m4" x="298.5" y="393.5"/>
<use href="#m4" x="299.5" y="393.5"/>
<use href="#m4" x="299.5" y="392.5"/>
<use href="#m4" x="300.5" y="392.5"/>
<use href="#m4" x="301.5" y="392.5"/>
<use href="#m4" x="302.5" y="392.5"/>
<use href="#m4" x="302.5" y="392.5"/>
<use href="#m4" x="303.5" y="391.5"/>
<use href="#m4" x="304.5" y="391.5"/>
<use href="#m4" x="304.5" y="391.5"/>
<use href="#m4" x="305.5" y="391.5"/>
<use href="#m4" x="306.5" y="391.5"/>
<use href="#m4" x="306.5" y="390.5"/>
<use href="#m4" x="307.5" y="390.5"/>
<use href="#m4" x="308.5" y="390.5"/>
<use href="#m4" x="308.5" y="390.5"/>
<use href="#m4" x="309.5" y="390.5"/>
<use href="#m4" x="310.5" y="390.5"/>
<use href="#m4" x="310.5" y="389.5"/>
<use href="#m4" x="311.5" y="389.5"/>
<use href="#m4" x="311.5" y="389.5"/>
<use href="#m4" x="312.5" y="389.5"/>
<use href="#m4" x="313.5" y="389.5"/>
<use href="#m4" x="313.5" y="389.5"/>
<use href="#m4" x="314.5" y="389.5"/>
<use href="#m4" x="314.5" y="388.5"/>
<use href="#m4" x="315.5" y="388.5"/>
<use href="#m4" x="316.5" y="388.5"/>
<use href="#m4" x="316.5" y="388.5"/>
<use href="#m4" x="317.5" y="388.5"/>
<use href="#m4" x="317.5" y="388.5"/>
<use href="#m4" x="318.5" y="388.5"/>
<use href="#m4" x="318.5" y="387.5"/>
<use href="#m4" x="319.5" y="387.5"/>
<use href="#m4" x="319.5" y="387.5"/>
<use href="#m4" x="320.5" y="387.5"/>
<use href="#m4" x="320.5" y="387.5"/>
<use href="#m4" x="321.5" y="387.5"/>
<use href="#m4" x="321.5" y="387.5"/>
<use href="#m4" x="322.5" y="387.5"/>
<use href="#m4" x="322.5" y="387.5"/>
<use href="#m4" x="323.5" y="387.5"/>
<use href="#m4" x="323.5" y="387.5"/>
<use href="#m5" x="73.5" y="492.5"/>
<use href="#m5" x="110.5" y="472.5"/>
<use href="#m5" x="131.5" y="461.5"/>
<use href="#m5" x="147.5" y="453.5"/>
<use href="#m5" x="159.5" y="446.5"/>
<use href="#m5" x="168.5" y="442.5"/>
<use href="#m5" x="177.5" y="437.5"/>
<use href="#m5" x="184.5" y="434.5"/>
<use href="#m5" x="190.5" y="431.5"/>
<use href="#m5" x="196.5" y="429.5"/>
<use href="#m5" x="201.5" y="427.5"/>
<use href="#m5" x="205.5" y="426.5"/>
<use href="#m5" x="210.5" y="424.5"/>
<use href="#m5" x="214.5" y="422.5"/>
<use href="#m5" x="217.5" y="421.5"/>
<use href="#m5" x="221.5" y="419.5"/>
<use href="#m5" x="224.5" y="417.5"/>
<use href="#m5" x="227.5" y="415.5"/>
<use href="#m5" x="230.5" y="414.5"/>
<use href="#m5" x="233.5" y="414.5"/>
<use href="#m5" x="235.5" y="413.5"/>
<use href="#m5" x="238.5" y="412.5"/>
<use href="#m5" x="240.5" y="411.5"/>
<use href="#m5" x="242.5" y="410.5"/>
<use href="#m5" x="244.5" y="409.5"/>
<use href="#m5" x="247.5" y="409.5"/>
<use href="#m5" x="249.5" y="408.5"/>
<use href="#m5" x="250.5" y="407.5"/>
<use href="#m5" x="252.5" y="406.5"/>
<use href="#m5" x="254.5" y="406.5"/>
<use href="#m5" x="256.5" y="405.5"/>
<use href="#m5" x="258.5" y="404.5"/>
<use href="#m5" x="259.5" y="404.5"/>
<use href="#m5" x="261.5" y="403.5"/>
<use href="#m5" x="262.5" y="402.5"/>
<use href="#m5" x="264.5" y="402.5"/>
<use href="#m5" x="265.5" y="402.5"/>
<use href="#m5" x="267.5" y="401.5"/>
<use href="#m5" x="268.5" y="401.5"/>
<use href="#m5" x="269.5" y="401.5"/>
<use href="#m5" x="271.5" y="400.5"/>
<use href="#m5" x="272.5" y="400.5"/>
<use href="#m5" x="273.5" y="400.5"/>
<use href="#m5" x="275.5" y="399.5"/>
<use href="#m5" x="276.5" y="399.5"/>
<use href="#m5" x="277.5" y="399.5"/>
<use href="#m5" x="278.5" y="398.5"/>
<use href="#m5" x="279.5" y="398.5"/>
<use href="#m5" x="280.5" y="398.5"/>
<use href="#m5" x="281.5" y="397.5"/>
<use href="#m5" x="282.5" y="397.5"/>
<use href="#m5" x="283.5" y="397.5"/>
<use href="#m5" x="284.5" y="396.5"/>
<use href="#m5" x="285.5" y="396.5"/>
<use href="#m5" x="286.5" y="396.5"/>
<use href="#m5" x="287.5" y="395.5"/>
<use href="#m5" x="288.5" y="395.5"/>
<use href="#m5" x="289.5" y="395.5"/>
<use href="#m5" x="290.5" y="395.5"/>
<use href="#m5" x="291.5" y="394.5"/>
<use href="#m5" x="292.5" y="394.5"/>
<use href="#m5" x="293.5" y="394.5"/>
<use href="#m5" x="294.5" y="394.5"/>
<use href="#m5" x="295.5" y="394.5"/>
<use href="#m5" x="295.5" y="394.5"/>
<use href="#m5" x="296.5" y="393.5"/>
<use href="#m5" x="297.5" y="393.5"/>
<use href="#m5" x="298.5" y="393.5"/>
<use href="#m5" x="299.5" y="393.5"/>
<use href="#m5" x="299.5" y="392.5"/>
<use href="#m5" x="300.5" y="392.5"/>
<use href="#m5" x="301.5" y="392.5"/>
<use href="#m5" x="302.5" y="392.5"/>
<use href="#m5" x="302.5" y="392.5"/>
<use href="#m5" x="303.5" y="392.5"/>
<use href="#m5" x="304.5" y="391.5"/>
<use href="#m5" x="304.5" y="391.5"/>
<use href="#m5" x="305.5" y="391.5"/>
<use href="#m5" x="306.5" y="391.5"/>
<use href="#m5" x="306.5" y="391.5"/>
<use href="#m5" x="307.5" y="390.5"/>
<use href="#m5" x="308.5" y="390.5"/>
<use href="#m5" x="308.5" y="390.5"/>
<use href="#m5" x="309.5" y="390.5"/>
<use href="#m5" x="310.5" y="390.5"/>
<use href="#m5" x="310.5" y="390.5"/>
<use href="#m5" x="311.5" y="389.5"/>
<use href="#m5" x="311.5" y="389.5"/>
<use href="#m5" x="312.5" y="389.5"/>
<use href="#m5" x="313.5" y="389.5"/>
<use href="#m5" x="313.5" y="389.5"/>
<use href="#m5" x="314.5" y="389.5"/>
<use href="#m5" x="314.5" y="389.5"/>
<use href="#m5" x="315.5" y="388.5"/>
<use href="#m5" x="316.5" y="388.5"/>
<use href="#m5" x="316.5" y="388.5"/>
<use href="#m5" x="317.5" y="388.5"/>
<use href="#m5" x="317.5" y="388.5"/>
<use href="#m5" x="318.5" y="388.5"/>
<use href="#m5" x="318.5" y="387.5"/>
<use href="#m5" x="319.5" y="387.5"/>
<use href="#m5" x="319.5" y="387.5"/>
<use href="#m5" x="320.5" y="387.5"/>
<use href="#m5" x="320.5" y="387.5"/>
<use href="#m5" x="321.5" y="387.5"/>
<use href="#m5" x="321.5" y="387.5"/>
<use href="#m5" x="322.5" y="387.5"/>
<use href="#m5" x="322.5" y="387.5"/>
<use href="#m5" x="323.5" y="387.5"/>
<use href="#m5" x="323.5" y="387.5"/>
<use href="#m6" x="73.5" y="490.5"/>
<use href="#m6" x="110.5" y="470.5"/>
<use href="#m6" x="131.5" y="459.5"/>
<use href="#m6" x="147.5" y="452.5"/>
<use href="#m6" x="159.5" y="445.5"/>
<use href="#m6" x="168.5" y="441.5"/>
<use href="#m6" x="177.5" y="436.5"/>
<use href="#m6" x="184.5" y="433.5"/>
<use href="#m6" x="190.5" y="431.5"/>
<use href="#m6" x="196.5" y="429.5"/>
<use href="#m6" x="201.5" y="427.5"/>
<use href="#m6" x="205.5" y="425.5"/>
<use href="#m6" x="210.5" y="424.5"/>
<use href="#m6" x="214.5" y="422.5"/>
<use href="#m6" x="217.5" y="421.5"/>
<use href="#m6" x="221.5" y="419.5"/>
<use href="#m6" x="224.5" y="417.5"/>
<use href="#m6" x="227.5" y="415.5"/>
<use href="#m6" x="230.5" y="414.5"/>
<use href="#m6" x="233.5" y="413.5"/>
<use href="#m6" x="235.5" y="413.5"/>
<use href="#m6" x="238.5" y="412.5"/>
<use href="#m6" x="240.5" y="411.5"/>
<use href="#m6" x="242.5" y="410.5"/>
<use href="#m6" x="244.5" y="410.5"/>
<use href="#m6" x="247.5" y="409.5"/>
<use href="#m6" x="249.5" y="408.5"/>
<use href="#m6" x="250.5" y="407.5"/>
<use href="#m6" x="252.5" y="406.5"/>
<use href="#m6" x="254.5" y="406.5"/>
<use href="#m6" x="256.5" y="405.5"/>
<use href="#m6" x="258.5" y="404.5"/>
<use href="#m6" x="259.5" y="404.5"/>
<use href="#m6" x="261.5" y="403.5"/>
<use href="#m6" x="262.5" y="403.5"/>
<use href="#m6" x="264.5" y="402.5"/>
<use href="#m6" x="265.5" y="402.5"/>
<use href="#m6" x="267.5" y="401.5"/>
<use href="#m6" x="268.5" y="401.5"/>
<use href="#m6" x="269.5" y="401.5"/>
<use href="#m6" x="271.5" y="400.5"/>
<use href="#m6" x="272.5" y="400.5"/>
<use href="#m6" x="273.5" y="400.5"/>
<use href="#m6" x="275.5" y="399.5"/>
<use href="#m6" x="276.5" y="399.5"/>
<use href="#m6" x="277.5" y="399.5"/>
<use href="#m6" x="278.5" y="398.5"/>
<use href="#m6" x="279.5" y="398.5"/>
<use href="#m6" x="280.5" y="398.5"/>
<use href="#m6" x="281.5" y="397.5"/>
<use href="#m6" x="282.5" y="397.5"/>
<use href="#m6" x="283.5" y="397.5"/>
<use href="#m6" x="284.5" y="396.5"/>
<use href="#m6" x="285.5" y="396.5"/>
<use href="#m6" x="286.5" y="396.5"/>
<use href="#m6" x="287.5" y="395.5"/>
<use href="#m6" x="288.5" y="395.5"/>
<use href="#m6" x="289.5" y="395.5"/>
<use href="#m6" x="290.5" y="395.5"/>
<use href="#m6" x="291.5" y="395.5"/>
<use href="#m6" x="292.5" y="394.5"/>
<use href="#m6" x="293.5" y="394.5"/>
<use href="#m6" x="294.5" y="394.5"/>
<use href="#m6" x="295.5" y="394.5"/>
<use href="#m6" x="295.5" y="394.5"/>
<use href="#m6" x="296.5" y="393.5"/>
<use href="#m6" x="297.5" y="393.5"/>
<use href="#m6" x="298.5" y="393.5"/>
<use href="#m6" x="299.5" y="393.5"/>
<use href="#m6" x="299.5" y="393.5"/>
<use href="#m6" x="300.5" y="392.5"/>
<use href="#m6" x="301.5" y="392.5"/>
<use href="#m6" x="302.5" y="392.5"/>
<use href="#m6" x="302.5" y="392.5"/>
<use href="#m6" x="303.5" y="392.5"/>
<use href="#m6" x="304.5" y="391.5"/>
<use href="#m6" x="304.5" y="391.5"/>
<use href="#m6" x="305.5" y="391.5"/>
<use href="#m6" x="306.5" y="391.5"/>
<use href="#m6" x="306.5" y="391.5"/>
<use href="#m6" x="307.5" y="391.5"/>
<use href="#m6" x="308.5" y="390.5"/>
<use href="#m6" x="308.5" y="390.5"/>
<use href="#m6" x="309.5" y="390.5"/>
<use href="#m6" x="310.5" y="390.5"/>
<use href="#m6" x="310.5" y="390.5"/>
<use href="#m6" x="311.5" y="390.5"/>
<use href="#m6" x="311.5" y="389.5"/>
<use href="#m6" x="312.5" y="389.5"/>
<use href="#m6" x="313.5" y="389.5"/>
<use href="#m6" x="313.5" y="389.5"/>
<use href="#m6" x="314.5" y="389.5"/>
<use href="#m6" x="314.5" y="389.5"/>
<use href="#m6" x="315.5" y="388.5"/>
<use href="#m6" x="316.5" y="388.5"/>
<use href="#m6" x="316.5" y="388.5"/>
<use href="#m6" x="317.5" y="388.5"/>
<use href="#m6" x="317.5" y="388.5"/>
<use href="#m6" x="318.5" y="388.5"/>
<use href="#m6" x="318.5" y="388.5"/>
<use href="#m6" x="319.5" y="388.5"/>
<use href="#m6" x="319.5" y="388.5"/>
<use href="#m6" x="320.5" y="388.5"/>
<use href="#m6" x="320.5" y="388.5"/>
<use href="#m6" x="321.5" y="388.5"/>
<use href="#m6" x="321.5" y="388.5"/>
<use href="#m6" x="322.5" y="388.5"/>
<use href="#m6" x="322.5" y="388.5"/>
<use href="#m6" x="323.5" y="388.5"/>
<use href="#m6" x="323.5" y="388.5"/>
<use href="#m7" x="73.5" y="487.5"/>
<use href="#m7" x="110.5" y="468.5"/>
<use href="#m7" x="131.5" y="458.5"/>
<use href="#m7" x="147.5" y="451.5"/>
<use href="#m7" x="159.5" y="444.5"/>
<use href="#m7" x="168.5" y="440.5"/>
<use href="#m7" x="177.5" y="436.5"/>
<use href="#m7" x="184.5" y="432.5"/>
<use href="#m7" x="190.5" y="430.5"/>
<use href="#m7" x="196.5" y="428.5"/>
<use href="#m7" x="201.5" y="427.5"/>
<use href="#m7" x="205.5" y="425.5"/>
<use href="#m7" x="210.5" y="423.5"/>
<use href="#m7" x="214.5" y="422.5"/>
<use href="#m7" x="217.5" y="421.5"/>
<use href="#m7" x="221.5" y="419.5"/>
<use href="#m7" x="224.5" y="417.5"/>
<use href="#m7" x="227.5" y="415.5"/>
<use href="#m7" x="230.5" y="414.5"/>
<use href="#m7" x="233.5" y="413.5"/>
<use href="#m7" x="235.5" y="413.5"/>
<use href="#m7" x="238.5" y="412.5"/>
<use href="#m7" x="240.5" y="411.5"/>
<use href="#m7" x="242.5" y="410.5"/>
<use href="#m7" x="244.5" y="410.5"/>
<use href="#m7" x="247.5" y="409.5"/>
<use href="#m7" x="249.5" y="408.5"/>
<use href="#m7" x="250.5" y="407.5"/>
<use href="#m7" x="252.5" y="407.5"/>
<use href="#m7" x="254.5" y="406.5"/>
<use href="#m7" x="256.5" y="405.5"/>
<use href="#m7" x="258.5" y="404.5"/>
<use href="#m7" x="259.5" y="404.5"/>
<use href="#m7" x="261.5" y="403.5"/>
<use href="#m7" x="262.5" y="403.5"/>
<use href="#m7" x="264.5" y="402.5"/>
<use href="#m7" x="265.5" y="402.5"/>
<use href="#m7" x="267.5" y="402.5"/>
<use href="#m7" x="268.5" y="401.5"/>
<use href="#m7" x="269.5" y="401.5"/>
<use href="#m7" x="271.5" y="400.5"/>
<use href="#m7" x="272.5" y="400.5"/>
<use href="#m7" x="273.5" y="400.5"/>
<use href="#m7" x="275.5" y="400.5"/>
<use href="#m7" x="276.5" y="399.5"/>
<use href="#m7" x="277.5" y="399.5"/>
<use href="#m7" x="278.5" y="399.5"/>
<use href="#m7" x="279.5" y="398.5"/>
<use href="#m7" x="280.5" y="398.5"/>
<use href="#m7" x="281.5" y="398.5"/>
<use href="#m7" x="282.5" y="397.5"/>
<use href="#m7" x="283.5" y="397.5"/>
<use href="#m7" x="284.5" y="397.5"/>
<use href="#m7" x="285.5" y="396.5"/>
<use href="#m7" x="286.5" y="396.5"/>
<use href="#m7" x="287.5" y="396.5"/>
<use href="#m7" x="288.5" y="395.5"/>
<use href="#m7" x="289.5" y="395.5"/>
<use href="#m7" x="290.5" y="395.5"/>
<use href="#m7" x="291.5" y="395.5"/>
<use href="#m7" x="292.5" y="395.5"/>
<use href="#m7" x="293.5" y="394.5"/>
<use href="#m7" x="294.5" y="394.5"/>
<use href="#m7" x="295.5" y="394.5"/>
<use href="#m7" x="295.5" y="394.5"/>
<use href="#m7" x="296.5" y="394.5"/>
<use href="#m7" x="297.5" y="393.5"/>
<use href="#m7" x="298.5" y="393.5"/>
<use href="#m7" x="299.5" y="393.5"/>
<use href="#m7" x="299.5" y="393.5"/>
<use href="#m7" x="300.5" y="393.5"/>
<use href="#m7" x="301.5" y="392.5"/>
<use href="#m7" x="302.5" y="392.5"/>
<use href="#m7" x="302.5" y="392.5"/>
<use href="#m7" x="303.5" y="392.5"/>
<use href="#m7" x="304.5" y="392.5"/>
<use href="#m7" x="304.5" y="391.5"/>
<use href="#m7" x="305.5" y="391.5"/>
<use href="#m7" x="306.5" y="391.5"/>
<use href="#m7" x="306.5" y="391.5"/>
<use href="#m7" x="307.5" y="391.5"/>
<use href="#m7" x="308.5" y="391.5"/>
<use href="#m7" x="308.5" y="390.5"/>
<use href="#m7" x="309.5" y="390.5"/>
<use href="#m7" x="310.5" y="390.5"/>
<use href="#m7" x="310.5" y="390.5"/>
<use href="#m7" x="311.5" y="390.5"/>
<use href="#m7" x="311.5" y="390.5"/>
<use href="#m7" x="312.5" y="389.5"/>
<use href="#m7" x="313.5" y="389.5"/>
<use href="#m7" x="313.5" y="389.5"/>
<use href="#m7" x="314.5" y="389.5"/>
<use href="#m7" x="314.5" y="389.5"/>
<use href="#m7" x="315.5" y="389.5"/>
<use href="#m7" x="316.5" y="388.5"/>
<use href="#m7" x="316.5" y="388.5"/>
<use href="#m7" x="317.5" y="388.5"/>
<use href="#m7" x="317.5" y="388.5"/>
<use href="#m7" x="318.5" y="388.5"/>
<use href="#m7" x="318.5" y="388.5"/>
<use href="#m7" x="319.5" y="388.5"/>
<use href="#m7" x="319.5" y="388.5"/>
<use href="#m7" x="320.5" y="388.5"/>
<use href="#m7" x="320.5" y="388.5"/>
<use href="#m7" x="321.5" y="388.5"/>
<use href="#m7" x="321.5" y="388.5"/>
<use href="#m7" x="322.5" y="388.5"/>
<use href="#m7" x="322.5" y="388.5"/>
<use href="#m7" x="323.5" y="388.5"/>
<use href="#m7" x="323.5" y="388.5"/>
<use href="#m8" x="73.5" y="482.5"/>
<use href="#m8" x="110.5" y="465.5"/>
<use href="#m8" x="131.5" y="455.5"/>
<use href="#m8" x="147.5" y="449.5"/>
<use href="#m8" x="159.5" y="443.5"/>
<use href="#m8" x="168.5" y="439.5"/>
<use href="#m8" x="177.5" y="435.5"/>
<use href="#m8" x="184.5" y="432.5"/>
<use href="#m8" x="190.5" y="430.5"/>
<use href="#m8" x="196.5" y="428.5"/>
<use href="#m8" x="201.5" y="426.5"/>
<use href="#m8" x="205.5" y="425.5"/>
<use href="#m8" x="210.5" y="423.5"/>
<use href="#m8" x="214.5" y="422.5"/>
<use href="#m8" x="217.5" y="420.5"/>
<use href="#m8" x="221.5" y="419.5"/>
<use href="#m8" x="224.5" y="417.5"/>
<use href="#m8" x="227.5" y="415.5"/>
<use href="#m8" x="230.5" y="414.5"/>
<use href="#m8" x="233.5" y="413.5"/>
<use href="#m8" x="235.5" y="413.5"/>
<use href="#m8" x="238.5" y="412.5"/>
<use href="#m8" x="240.5" y="411.5"/>
<use href="#m8" x="242.5" y="410.5"/>
<use href="#m8" x="244.5" y="410.5"/>
<use href="#m8" x="247.5" y="409.5"/>
<use href="#m8" x="249.5" y="408.5"/>
<use href="#m8" x="250.5" y="407.5"/>
<use href="#m8" x="252.5" y="407.5"/>
<use href="#m8" x="254.5" y="406.5"/>
<use href="#m8" x="256.5" y="405.5"/>
<use href="#m8" x="258.5" y="405.5"/>
<use href="#m8" x="259.5" y="404.5"/>
<use href="#m8" x="261.5" y="403.5"/>
<use href="#m8" x="262.5" y="403.5"/>
<use href="#m8" x="264.5" y="402.5"/>
<use href="#m8" x="265.5" y="402.5"/>
<use href="#m8" x="267.5" y="402.5"/>
<use href="#m8" x="268.5" y="401.5"/>
<use href="#m8" x="269.5" y="401.5"/>
<use href="#m8" x="271.5" y="401.5"/>
<use href="#m8" x="272.5" y="400.5"/>
<use href="#m8" x="273.5" y="400.5"/>
<use href="#m8" x="275.5" y="400.5"/>
<use href="#m8" x="276.5" y="399.5"/>
<use href="#m8" x="277.5" y="399.5"/>
<use href="#m8" x="278.5" y="399.5"/>
<use href="#m8" x="279.5" y="399.5"/>
<use href="#m8" x="280.5" y="398.5"/>
<use href="#m8" x="281.5" y="398.5"/>
<use href="#m8" x="282.5" y="397.5"/>
<use href="#m8" x="283.5" y="397.5"/>
<use href="#m8" x="284.5" y="397.5"/>
<use href="#m8" x="285.5" y="396.5"/>
<use href="#m8" x="286.5" y="396.5"/>
<use href="#m8" x="287.5" y="396.5"/>
<use href="#m8" x="288.5" y="396.5"/>
<use href="#m8" x="289.5" y="395.5"/>
<use href="#m8" x="290.5" y="395.5"/>
<use href="#m8" x="291.5" y="395.5"/>
<use href="#m8" x="292.5" y="395.5"/>
<use href="#m8" x="293.5" y="395.5"/>
<use href="#m8" x="294.5" y="394.5"/>
<use href="#m8" x="295.5" y="394.5"/>
<use href="#m8" x="295.5" y="394.5"/>
<use href="#m8" x="296.5" y="394.5"/>
<use href="#m8" x="297.5" y="394.5"/>
<use href="#m8" x="298.5" y="393.5"/>
<use href="#m8" x="299.5" y="393.5"/>
<use href="#m8" x="299.5" y="393.5"/>
<use href="#m8" x="300.5" y="393.5"/>
<use href="#m8" x="301.5" y="393.5"/>
<use href="#m8" x="302.5" y="392.5"/>
<use href="#m8" x="302.5" y="392.5"/>
<use href="#m8" x="303.5" y="392.5"/>
<use href="#m8" x="304.5" y="392.5"/>
<use href="#m8" x="304.5" y="392.5"/>
<use href="#m8" x="305.5" y="391.5"/>
<use href="#m8" x="306.5" y="391.5"/>
<use href="#m8" x="306.5" y="391.5"/>
<use href="#m8" x="307.5" y="391.5"/>
<use href="#m8" x="308.5" y="391.5"/>
<use href="#m8" x="308.5" y="391.5"/>
<use href="#m8" x="309.5" y="390.5"/>
<use href="#m8" x="310.5" y="390.5"/>
<use href="#m8" x="310.5" y="390.5"/>
<use href="#m8" x="311.5" y="390.5"/>
<use href="#m8" x="311.5" y="390.5"/>
<use href="#m8" x="312.5" y="390.5"/>
<use href="#m8" x="313.5" y="389.5"/>
<use href="#m8" x="313.5" y="389.5"/>
<use href="#m8" x="314.5" y="389.5"/>
<use href="#m8" x="314.5" y="389.5"/>
<use href="#m8" x="315.5" y="389.5"/>
<use href="#m8" x="316.5" y="389.5"/>
<use href="#m8" x="316.5" y="388.5"/>
<use href="#m8" x="317.5" y="388.5"/>
<use href="#m8" x="317.5" y="388.5"/>
<use href="#m8" x="318.5" y="388.5"/>
<use href="#m8" x="318.5" y="388.5"/>
<use href="#m8" x="319.5" y="388.5"/>
<use href="#m8" x="319.5" y="388.5"/>
<use href="#m8" x="320.5" y="388.5"/>
<use href="#m8" x="320.5" y="388.5"/>
<use href="#m8" x="321.5" y="388.5"/>
<use href="#m8" x="321.5" y="388.5"/>
<use href="#m8" x="322.5" y="388.5"/>
<use href="#m8" x="322.5" y="388.5"/>
<use href="#m8" x="323.5" y="388.5"/>
<use href="#m8" x="323.5" y="388.5"/>
<linearGradient id="bgc" gradientUnits="userSpaceOnUse" x1="238.1" y1="0" x2="281.9" y2="0"><stop offset="0" stop-color="#979797" stop-opacity="0"/><stop offset="1" stop-color="#979797" stop-opacity="1"/></linearGradient>
<polygon points="238.1,406.4 239.6,405.9 241.1,404.8 242.6,403.7 244.1,402.7 245.6,402.0 247.1,401.4 248.6,400.9 250.1,400.3 251.6,399.7 253.1,399.1 254.5,398.5 256.0,397.9 257.5,397.4 259.0,396.8 260.5,396.2 262.0,395.6 263.5,395.2 265.0,394.7 266.5,394.3 268.0,393.8 269.5,393.4 271.0,392.9 272.5,392.5 274.0,392.0 275.5,391.3 277.0,390.6 278.4,389.9 279.9,389.3 281.4,388.9 282.9,388.4 284.4,388.0 285.9,387.5 287.4,387.1 288.9,386.8 290.4,386.5 291.9,386.2 293.4,385.9 294.9,385.6 296.4,385.3 297.9,385.0 299.4,384.7 300.9,384.4 302.3,384.1 303.8,383.8 305.3,383.5 306.8,383.2 308.3,382.9 309.8,382.6 311.3,382.3 312.8,382.0 314.3,381.7 315.8,381.4 317.3,381.1 318.8,380.8 320.3,380.8 321.8,380.8 323.3,380.8 324.8,380.8 326.2,380.8 326.2,394.3 324.8,394.3 323.3,394.3 321.8,394.3 320.3,394.3 318.8,394.3 317.3,394.7 315.8,395.1 314.3,395.5 312.8,395.9 311.3,396.3 309.8,396.7 308.3,397.1 306.8,397.5 305.3,397.9 303.8,398.3 302.3,398.7 300.9,399.1 299.4,399.5 297.9,399.9 296.4,400.3 294.9,400.7 293.4,401.0 291.9,401.4 290.4,401.7 288.9,402.0 287.4,402.4 285.9,402.8 284.4,403.3 282.9,403.9 281.4,404.4 279.9,404.9 278.4,405.3 277.0,405.7 275.5,406.0 274.0,406.4 272.5,406.8 271.0,407.2 269.5,407.6 268.0,408.0 266.5,408.3 265.0,408.7 263.5,409.1 262.0,409.5 260.5,410.1 259.0,410.7 257.5,411.3 256.0,411.9 254.5,412.4 253.1,413.0 251.6,413.6 250.1,414.2 248.6,414.8 247.1,415.4 245.6,416.0 244.1,416.5 242.6,417.0 241.1,417.4 239.6,417.9 238.1,418.3" fill="url(#bgc)"/>
</g>
<line x1="59.50" y1="587.33" x2="61.50" y2="587.33" stroke="#444444" stroke-width="0.80"/>
<line x1="59.50" y1="535.76" x2="61.50" y2="535.76" stroke="#444444" stroke-width="0.80"/>
<line x1="59.50" y1="499.17" x2="61.50" y2="499.17" stroke="#444444" stroke-width="0.80"/>
<line x1="59.50" y1="470.78" x2="61.50" y2="470.78" stroke="#444444" stroke-width="0.80"/>
<line x1="59.50" y1="447.60" x2="61.50" y2="447.60" stroke="#444444" stroke-width="0.80"/>
<line x1="59.50" y1="427.99" x2="61.50" y2="427.99" stroke="#444444" stroke-width="0.80"/>
<line x1="59.50" y1="411.00" x2="61.50" y2="411.00" stroke="#444444" stroke-width="0.80"/>
<line x1="59.50" y1="396.02" x2="61.50" y2="396.02" stroke="#444444" stroke-width="0.80"/>
<line x1="58.00" y1="382.62" x2="61.50" y2="382.62" stroke="#444444" stroke-width="0.80"/>
<line x1="61.50" y1="608.00" x2="61.50" y2="610.00" stroke="#444444" stroke-width="0.80"/>
<line x1="67.78" y1="608.00" x2="67.78" y2="610.00" stroke="#444444" stroke-width="0.80"/>
<line x1="73.39" y1="608.00" x2="73.39" y2="611.50" stroke="#444444" stroke-width="0.80"/>
<line x1="110.33" y1="608.00" x2="110.33" y2="610.00" stroke="#444444" stroke-width="0.80"/>
<line x1="131.94" y1="608.00" x2="131.94" y2="610.00" stroke="#444444" stroke-width="0.80"/>
<line x1="147.27" y1="608.00" x2="147.27" y2="610.00" stroke="#444444" stroke-width="0.80"/>
<line x1="159.16" y1="608.00" x2="159.16" y2="610.00" stroke="#444444" stroke-width="0.80"/>
<line x1="168.87" y1="608.00" x2="168.87" y2="610.00" stroke="#444444" stroke-width="0.80"/>
<line x1="177.09" y1="608.00" x2="177.09" y2="610.00" stroke="#444444" stroke-width="0.80"/>
<line x1="184.20" y1="608.00" x2="184.20" y2="610.00" stroke="#444444" stroke-width="0.80"/>
<line x1="190.48" y1="608.00" x2="190.48" y2="610.00" stroke="#444444" stroke-width="0.80"/>
<line x1="196.10" y1="608.00" x2="196.10" y2="611.50" stroke="#444444" stroke-width="0.80"/>
<line x1="233.03" y1="608.00" x2="233.03" y2="610.00" stroke="#444444" stroke-width="0.80"/>
<line x1="254.64" y1="608.00" x2="254.64" y2="610.00" stroke="#444444" stroke-width="0.80"/>
<line x1="269.97" y1="608.00" x2="269.97" y2="610.00" stroke="#444444" stroke-width="0.80"/>
<line x1="281.86" y1="608.00" x2="281.86" y2="610.00" stroke="#444444" stroke-width="0.80"/>
<line x1="291.58" y1="608.00" x2="291.58" y2="610.00" stroke="#444444" stroke-width="0.80"/>
<line x1="299.79" y1="608.00" x2="299.79" y2="610.00" stroke="#444444" stroke-width="0.80"/>
<line x1="306.91" y1="608.00" x2="306.91" y2="610.00" stroke="#444444" stroke-width="0.80"/>
<line x1="313.19" y1="608.00" x2="313.19" y2="610.00" stroke="#444444" stroke-width="0.80"/>
<line x1="318.80" y1="608.00" x2="318.80" y2="611.50" stroke="#444444" stroke-width="0.80"/>
<rect x="61.50" y="370.50" width="257.30" height="237.50" fill="none" stroke="#333333" stroke-width="1"/>
<text transform="translate(29.28,389.12) scale(1.176,1)" style="font-family:'Liberation Sans',sans-serif;font-size:16.20px;" fill="#000">1.0</text>
<text transform="translate(30.06,454.10) scale(1.149,1)" style="font-family:'Liberation Sans',sans-serif;font-size:16.20px;" fill="#000">0.6</text>
<text transform="translate(30.07,505.67) scale(1.132,1)" style="font-family:'Liberation Sans',sans-serif;font-size:16.20px;" fill="#000">0.4</text>
<text transform="translate(30.06,542.26) scale(1.149,1)" style="font-family:'Liberation Sans',sans-serif;font-size:16.20px;" fill="#000">0.3</text>
<text transform="translate(30.06,593.83) scale(1.149,1)" style="font-family:'Liberation Sans',sans-serif;font-size:16.20px;" fill="#000">0.2</text>
<text transform="translate(58.97,626.40) scale(1.136,1)" style="font-family:'Liberation Sans',sans-serif;font-size:16.20px;" fill="#000">10</text>
<text transform="translate(79.30,620.20) scale(1.083,1)" style="font-family:'Liberation Sans',sans-serif;font-size:12.50px;" fill="#000">0</text>
<text transform="translate(181.67,626.40) scale(1.136,1)" style="font-family:'Liberation Sans',sans-serif;font-size:16.20px;" fill="#000">10</text>
<text transform="translate(201.69,620.20) scale(0.856,1)" style="font-family:'Liberation Sans',sans-serif;font-size:12.50px;" fill="#000">1</text>
<text transform="translate(304.38,626.40) scale(1.136,1)" style="font-family:'Liberation Sans',sans-serif;font-size:16.20px;" fill="#000">10</text>
<text transform="translate(324.54,620.20) scale(1.130,1)" style="font-family:'Liberation Sans',sans-serif;font-size:12.50px;" fill="#000">2</text>
<text transform="translate(187.53,645.80) scale(1.000,1)" style="font-family:'Liberation Sans',sans-serif;font-size:16.00px;font-style:italic;" fill="#000">r</text>
<rect x="155.50" y="490.00" width="133.00" height="98.00" fill="#fff" stroke="none"/>
<g clip-path="url(#iclipc)" fill="none" stroke-width="1.3" stroke-linejoin="round">
<polyline points="155.5,491.1 175.5,499.1 187.2,509.9 195.5,508.5 202.0,515.2 207.2,520.7 211.7,524.2 215.6,527.8 219.0,530.5 222.0,532.7 224.8,534.8 227.3,536.9 229.6,538.8 231.7,541.2 233.7,543.2 235.6,544.3 237.3,545.4 239.0,546.5 240.5,547.6 242.0,548.7 243.4,549.7 244.8,550.7 246.1,551.7 247.3,552.6 248.5,553.5 249.6,554.4 250.7,555.2 251.7,555.9 252.7,556.6 253.7,557.2 254.7,557.8 255.6,558.4 256.5,559.0 257.3,559.6 258.2,560.1 259.0,560.7 259.8,561.2 260.6,561.7 261.3,562.2 262.0,562.6 262.8,563.0 263.4,563.4 264.1,563.7 264.8,564.1 265.4,564.4 266.1,564.8 266.7,565.1 267.3,565.6 267.9,566.1 268.5,566.5 269.1,567.0 269.6,567.4 270.2,567.9 270.7,568.3 271.2,568.7 271.8,569.1 272.3,569.5 272.8,569.9 273.3,570.3 273.7,570.7 274.2,571.1 274.7,571.4 275.2,571.8 275.6,572.1 276.1,572.5 276.5,572.8 276.9,573.1 277.4,573.5 277.8,573.8 278.2,574.1 278.6,574.4 279.0,574.7 279.4,575.0 279.8,575.3 280.2,575.6 280.6,575.9 281.0,576.2 281.3,576.5 281.7,576.8 282.1,577.1 282.4,577.3 282.8,577.5 283.1,577.8 283.5,578.0 283.8,578.3 284.1,578.5 284.5,578.7 284.8,579.0 285.1,579.2 285.5,579.4 285.8,579.6 286.1,579.8 286.4,580.1 286.7,580.3 287.0,580.5 287.3,580.7 287.6,580.9 287.9,581.1 288.2,581.3 288.5,581.5" stroke="#0b2f22"/>
<polyline points="155.5,532.8 175.5,534.4 187.2,539.7 195.5,537.1 202.0,540.2 207.2,542.7 211.7,543.9 215.6,545.8 219.0,547.5 222.0,548.9 224.8,550.0 227.3,551.0 229.6,552.0 231.7,553.0 233.7,554.1 235.6,554.8 237.3,555.4 239.0,556.0 240.5,556.6 242.0,557.1 243.4,557.6 244.8,558.0 246.1,558.5 247.3,558.9 248.5,559.3 249.6,559.7 250.7,560.1 251.7,560.4 252.7,560.8 253.7,561.1 254.7,561.5 255.6,561.9 256.5,562.2 257.3,562.6 258.2,562.9 259.0,563.2 259.8,563.5 260.6,563.8 261.3,564.1 262.0,564.4 262.8,564.7 263.4,565.0 264.1,565.2 264.8,565.5 265.4,565.7 266.1,566.0 266.7,566.2 267.3,566.6 267.9,567.0 268.5,567.4 269.1,567.7 269.6,568.1 270.2,568.4 270.7,568.8 271.2,569.1 271.8,569.4 272.3,569.7 272.8,570.1 273.3,570.4 273.7,570.7 274.2,571.0 274.7,571.3 275.2,571.6 275.6,571.9 276.1,572.2 276.5,572.5 276.9,572.8 277.4,573.1 277.8,573.4 278.2,573.7 278.6,573.9 279.0,574.2 279.4,574.5 279.8,574.7 280.2,575.0 280.6,575.3 281.0,575.5 281.3,575.8 281.7,576.0 282.1,576.3 282.4,576.5 282.8,576.8 283.1,577.0 283.5,577.3 283.8,577.5 284.1,577.8 284.5,578.0 284.8,578.2 285.1,578.5 285.5,578.7 285.8,578.9 286.1,579.1 286.4,579.4 286.7,579.6 287.0,579.8 287.3,580.0 287.6,580.2 287.9,580.5 288.2,580.7 288.5,580.9" stroke="#0d4d35"/>
<polyline points="155.5,544.3 175.5,544.3 187.2,547.2 195.5,544.8 202.0,546.8 207.2,548.4 211.7,549.8 215.6,551.3 219.0,552.6 222.0,553.8 224.8,554.9 227.3,556.0 229.6,556.9 231.7,557.9 233.7,558.8 235.6,559.5 237.3,560.1 239.0,560.6 240.5,561.1 242.0,561.6 243.4,562.0 244.8,562.4 246.1,562.8 247.3,563.2 248.5,563.6 249.6,563.9 250.7,564.3 251.7,564.6 252.7,564.9 253.7,565.2 254.7,565.5 255.6,565.8 256.5,566.0 257.3,566.3 258.2,566.6 259.0,566.8 259.8,566.8 260.6,566.8 261.3,566.8 262.0,566.8 262.8,566.7 263.4,566.7 264.1,566.7 264.8,566.7 265.4,566.6 266.1,566.6 266.7,566.6 267.3,566.3 267.9,565.9 268.5,565.6 269.1,566.0 269.6,566.3 270.2,566.7 270.7,567.1 271.2,567.4 271.8,567.7 272.3,568.0 272.8,568.2 273.3,568.5 273.7,568.7 274.2,569.0 274.7,569.2 275.2,569.4 275.6,569.5 276.1,569.6 276.5,569.7 276.9,569.7 277.4,569.8 277.8,569.9 278.2,570.0 278.6,570.1 279.0,570.2 279.4,570.3 279.8,570.4 280.2,570.5 280.6,570.5 281.0,570.6 281.3,570.7 281.7,570.8 282.1,571.2 282.4,571.5 282.8,571.9 283.1,572.2 283.5,572.5 283.8,572.9 284.1,573.2 284.5,573.5 284.8,573.9 285.1,574.2 285.5,574.5 285.8,574.9 286.1,575.2 286.4,575.5 286.7,575.8 287.0,576.1 287.3,576.4 287.6,576.7 287.9,577.3 288.2,577.8 288.5,578.3" stroke="#15704f"/>
<polyline points="155.5,548.2 175.5,547.6 187.2,549.8 195.5,547.4 202.0,549.1 207.2,550.4 211.7,551.7 215.6,553.2 219.0,554.4 222.0,555.5 224.8,556.6 227.3,557.6 229.6,558.6 231.7,559.5 233.7,560.4 235.6,561.1 237.3,561.6 239.0,562.2 240.5,562.6 242.0,563.1 243.4,563.5 244.8,563.9 246.1,564.3 247.3,564.7 248.5,565.1 249.6,565.4 250.7,565.7 251.7,566.0 252.7,566.3 253.7,566.5 254.7,566.8 255.6,567.1 256.5,567.4 257.3,567.6 258.2,567.9 259.0,568.1 259.8,568.0 260.6,567.8 261.3,567.7 262.0,567.6 262.8,567.4 263.4,567.3 264.1,567.2 264.8,567.1 265.4,567.0 266.1,566.8 266.7,566.7 267.3,566.1 267.9,565.6 268.5,565.0 269.1,565.4 269.6,565.8 270.2,566.1 270.7,566.5 271.2,566.8 271.8,567.2 272.3,567.4 272.8,567.6 273.3,567.8 273.7,568.0 274.2,568.3 274.7,568.5 275.2,568.7 275.6,568.7 276.1,568.7 276.5,568.7 276.9,568.7 277.4,568.7 277.8,568.7 278.2,568.7 278.6,568.7 279.0,568.8 279.4,568.8 279.8,568.9 280.2,568.9 280.6,568.9 281.0,569.0 281.3,569.0 281.7,569.0 282.1,569.4 282.4,569.8 282.8,570.2 283.1,570.6 283.5,570.9 283.8,571.3 284.1,571.7 284.5,572.0 284.8,572.4 285.1,572.7 285.5,573.1 285.8,573.5 286.1,573.8 286.4,574.2 286.7,574.5 287.0,574.9 287.3,575.2 287.6,575.6 287.9,576.2 288.2,576.8 288.5,577.4" stroke="#1f8c61"/>
<polyline points="155.5,549.4 175.5,548.7 187.2,550.6 195.5,548.2 202.0,549.8 207.2,551.0 211.7,552.3 215.6,553.7 219.0,555.0 222.0,556.0 224.8,557.1 227.3,558.2 229.6,559.1 231.7,560.0 233.7,560.9 235.6,561.6 237.3,562.1 239.0,562.6 240.5,563.1 242.0,563.6 243.4,564.0 244.8,564.4 246.1,564.8 247.3,565.2 248.5,565.5 249.6,565.8 250.7,566.1 251.7,566.4 252.7,566.7 253.7,567.0 254.7,567.2 255.6,567.5 256.5,567.8 257.3,568.0 258.2,568.2 259.0,568.5 259.8,568.3 260.6,568.1 261.3,568.0 262.0,567.8 262.8,567.6 263.4,567.5 264.1,567.3 264.8,567.2 265.4,567.1 266.1,566.9 266.7,566.8 267.3,566.1 267.9,565.5 268.5,564.8 269.1,565.2 269.6,565.6 270.2,565.9 270.7,566.3 271.2,566.7 271.8,567.0 272.3,567.2 272.8,567.4 273.3,567.6 273.7,567.8 274.2,568.0 274.7,568.3 275.2,568.5 275.6,568.4 276.1,568.4 276.5,568.4 276.9,568.4 277.4,568.4 277.8,568.3 278.2,568.3 278.6,568.3 279.0,568.4 279.4,568.4 279.8,568.4 280.2,568.4 280.6,568.4 281.0,568.5 281.3,568.5 281.7,568.5 282.1,568.9 282.4,569.3 282.8,569.7 283.1,570.1 283.5,570.4 283.8,570.8 284.1,571.2 284.5,571.6 284.8,571.9 285.1,572.3 285.5,572.7 285.8,573.0 286.1,573.4 286.4,573.8 286.7,574.1 287.0,574.5 287.3,574.8 287.6,575.2 287.9,575.8 288.2,576.5 288.5,577.1" stroke="#36a57b"/>
<polyline points="155.5,550.8 175.5,549.9 187.2,551.6 195.5,549.2 202.0,550.6 207.2,551.7 211.7,553.1 215.6,554.4 219.0,555.6 222.0,556.6 224.8,557.8 227.3,558.8 229.6,559.7 231.7,560.6 233.7,561.5 235.6,562.2 237.3,562.7 239.0,563.2 240.5,563.7 242.0,564.1 243.4,564.5 244.8,564.9 246.1,565.3 247.3,565.7 248.5,566.1 249.6,566.4 250.7,566.6 251.7,566.9 252.7,567.2 253.7,567.5 254.7,567.7 255.6,568.0 256.5,568.2 257.3,568.5 258.2,568.7 259.0,568.9 259.8,568.7 260.6,568.5 261.3,568.3 262.0,568.1 262.8,567.9 263.4,567.7 264.1,567.5 264.8,567.3 265.4,567.2 266.1,567.0 266.7,566.8 267.3,566.1 267.9,565.3 268.5,564.6 269.1,565.0 269.6,565.4 270.2,565.7 270.7,566.1 271.2,566.4 271.8,566.8 272.3,567.0 272.8,567.2 273.3,567.4 273.7,567.6 274.2,567.8 274.7,568.0 275.2,568.2 275.6,568.1 276.1,568.1 276.5,568.0 276.9,568.0 277.4,567.9 277.8,567.9 278.2,567.9 278.6,567.8 279.0,567.8 279.4,567.8 279.8,567.8 280.2,567.8 280.6,567.8 281.0,567.8 281.3,567.8 281.7,567.8 282.1,568.2 282.4,568.7 282.8,569.1 283.1,569.5 283.5,569.8 283.8,570.2 284.1,570.6 284.5,571.0 284.8,571.4 285.1,571.8 285.5,572.2 285.8,572.5 286.1,572.9 286.4,573.3 286.7,573.7 287.0,574.0 287.3,574.4 287.6,574.7 287.9,575.4 288.2,576.1 288.5,576.8" stroke="#5db58b"/>
<polyline points="155.5,552.5 175.5,551.4 187.2,552.7 195.5,550.3 202.0,551.6 207.2,552.6 211.7,553.9 215.6,555.2 219.0,556.4 222.0,557.4 224.8,558.5 227.3,559.5 229.6,560.5 231.7,561.4 233.7,562.2 235.6,562.9 237.3,563.4 239.0,563.9 240.5,564.3 242.0,564.8 243.4,565.2 244.8,565.6 246.1,566.0 247.3,566.3 248.5,566.7 249.6,567.0 250.7,567.3 251.7,567.5 252.7,567.8 253.7,568.1 254.7,568.3 255.6,568.6 256.5,568.8 257.3,569.0 258.2,569.3 259.0,569.5 259.8,569.2 260.6,568.9 261.3,568.7 262.0,568.4 262.8,568.2 263.4,568.0 264.1,567.7 264.8,567.5 265.4,567.3 266.1,567.1 266.7,566.9 267.3,566.0 267.9,565.2 268.5,564.3 269.1,564.7 269.6,565.1 270.2,565.5 270.7,565.8 271.2,566.2 271.8,566.5 272.3,566.7 272.8,566.9 273.3,567.1 273.7,567.3 274.2,567.5 274.7,567.7 275.2,567.9 275.6,567.8 276.1,567.7 276.5,567.6 276.9,567.5 277.4,567.5 277.8,567.4 278.2,567.3 278.6,567.3 279.0,567.3 279.4,567.2 279.8,567.2 280.2,567.2 280.6,567.2 281.0,567.1 281.3,567.1 281.7,567.1 282.1,567.5 282.4,567.9 282.8,568.3 283.1,568.8 283.5,569.2 283.8,569.6 284.1,570.0 284.5,570.3 284.8,570.7 285.1,571.1 285.5,571.5 285.8,571.9 286.1,572.3 286.4,572.7 286.7,573.1 287.0,573.5 287.3,573.9 287.6,574.2 287.9,575.0 288.2,575.7 288.5,576.4" stroke="#8ec59c"/>
<polyline points="155.5,554.4 175.5,553.0 187.2,554.0 195.5,551.6 202.0,552.7 207.2,553.6 211.7,554.9 215.6,556.1 219.0,557.2 222.0,558.2 224.8,559.3 227.3,560.3 229.6,561.3 231.7,562.2 233.7,563.0 235.6,563.7 237.3,564.2 239.0,564.6 240.5,565.1 242.0,565.5 243.4,565.9 244.8,566.3 246.1,566.7 247.3,567.1 248.5,567.4 249.6,567.7 250.7,568.0 251.7,568.2 252.7,568.5 253.7,568.7 254.7,569.0 255.6,569.2 256.5,569.4 257.3,569.7 258.2,569.9 259.0,570.1 259.8,569.8 260.6,569.4 261.3,569.1 262.0,568.8 262.8,568.6 263.4,568.3 264.1,568.0 264.8,567.7 265.4,567.5 266.1,567.2 266.7,566.9 267.3,566.0 267.9,565.0 268.5,564.1 269.1,564.4 269.6,564.8 270.2,565.2 270.7,565.6 271.2,565.9 271.8,566.3 272.3,566.4 272.8,566.6 273.3,566.8 273.7,567.0 274.2,567.1 274.7,567.3 275.2,567.5 275.6,567.4 276.1,567.2 276.5,567.1 276.9,567.0 277.4,566.9 277.8,566.8 278.2,566.7 278.6,566.6 279.0,566.6 279.4,566.5 279.8,566.5 280.2,566.4 280.6,566.4 281.0,566.3 281.3,566.3 281.7,566.2 282.1,566.6 282.4,567.1 282.8,567.5 283.1,567.9 283.5,568.4 283.8,568.8 284.1,569.2 284.5,569.6 284.8,570.0 285.1,570.4 285.5,570.8 285.8,571.3 286.1,571.7 286.4,572.1 286.7,572.5 287.0,572.9 287.3,573.3 287.6,573.6 287.9,574.4 288.2,575.2 288.5,576.0" stroke="#c8d8ae"/>
<polyline points="155.5,556.8 175.5,555.1 187.2,555.6 195.5,553.2 202.0,554.1 207.2,554.8 211.7,556.1 215.6,557.3 219.0,558.3 222.0,559.2 224.8,560.4 227.3,561.4 229.6,562.3 231.7,563.2 233.7,564.0 235.6,564.6 237.3,565.1 239.0,565.6 240.5,566.0 242.0,566.5 243.4,566.9 244.8,567.2 246.1,567.6 247.3,568.0 248.5,568.3 249.6,568.6 250.7,568.8 251.7,569.1 252.7,569.3 253.7,569.6 254.7,569.8 255.6,570.0 256.5,570.2 257.3,570.4 258.2,570.6 259.0,570.8 259.8,570.5 260.6,570.1 261.3,569.7 262.0,569.3 262.8,569.0 263.4,568.6 264.1,568.3 264.8,568.0 265.4,567.6 266.1,567.3 266.7,567.0 267.3,565.9 267.9,564.8 268.5,563.7 269.1,564.1 269.6,564.5 270.2,564.8 270.7,565.2 271.2,565.6 271.8,565.9 272.3,566.1 272.8,566.2 273.3,566.4 273.7,566.6 274.2,566.7 274.7,566.9 275.2,567.0 275.6,566.9 276.1,566.7 276.5,566.5 276.9,566.4 277.4,566.2 277.8,566.1 278.2,565.9 278.6,565.8 279.0,565.7 279.4,565.6 279.8,565.5 280.2,565.5 280.6,565.4 281.0,565.3 281.3,565.2 281.7,565.1 282.1,565.6 282.4,566.0 282.8,566.5 283.1,566.9 283.5,567.4 283.8,567.8 284.1,568.2 284.5,568.7 284.8,569.1 285.1,569.5 285.5,570.0 285.8,570.4 286.1,570.8 286.4,571.3 286.7,571.7 287.0,572.1 287.3,572.5 287.6,572.9 287.9,573.8 288.2,574.6 288.5,575.5" stroke="#ffe3bb"/>
</g>
<line x1="155.50" y1="588.00" x2="155.50" y2="591.00" stroke="#444444" stroke-width="0.80"/>
<line x1="175.52" y1="588.00" x2="175.52" y2="589.80" stroke="#444444" stroke-width="0.80"/>
<line x1="187.23" y1="588.00" x2="187.23" y2="589.80" stroke="#444444" stroke-width="0.80"/>
<line x1="195.54" y1="588.00" x2="195.54" y2="589.80" stroke="#444444" stroke-width="0.80"/>
<line x1="201.98" y1="588.00" x2="201.98" y2="589.80" stroke="#444444" stroke-width="0.80"/>
<line x1="207.25" y1="588.00" x2="207.25" y2="589.80" stroke="#444444" stroke-width="0.80"/>
<line x1="211.70" y1="588.00" x2="211.70" y2="589.80" stroke="#444444" stroke-width="0.80"/>
<line x1="215.56" y1="588.00" x2="215.56" y2="589.80" stroke="#444444" stroke-width="0.80"/>
<line x1="218.96" y1="588.00" x2="218.96" y2="589.80" stroke="#444444" stroke-width="0.80"/>
<line x1="222.00" y1="588.00" x2="222.00" y2="591.00" stroke="#444444" stroke-width="0.80"/>
<line x1="242.02" y1="588.00" x2="242.02" y2="589.80" stroke="#444444" stroke-width="0.80"/>
<line x1="253.73" y1="588.00" x2="253.73" y2="589.80" stroke="#444444" stroke-width="0.80"/>
<line x1="262.04" y1="588.00" x2="262.04" y2="589.80" stroke="#444444" stroke-width="0.80"/>
<line x1="268.48" y1="588.00" x2="268.48" y2="589.80" stroke="#444444" stroke-width="0.80"/>
<line x1="273.75" y1="588.00" x2="273.75" y2="589.80" stroke="#444444" stroke-width="0.80"/>
<line x1="278.20" y1="588.00" x2="278.20" y2="589.80" stroke="#444444" stroke-width="0.80"/>
<line x1="282.06" y1="588.00" x2="282.06" y2="589.80" stroke="#444444" stroke-width="0.80"/>
<line x1="285.46" y1="588.00" x2="285.46" y2="589.80" stroke="#444444" stroke-width="0.80"/>
<line x1="288.50" y1="588.00" x2="288.50" y2="591.00" stroke="#444444" stroke-width="0.80"/>
<line x1="288.50" y1="586.60" x2="291.50" y2="586.60" stroke="#444444" stroke-width="0.80"/>
<line x1="288.50" y1="554.77" x2="291.50" y2="554.77" stroke="#444444" stroke-width="0.80"/>
<line x1="288.50" y1="522.94" x2="291.50" y2="522.94" stroke="#444444" stroke-width="0.80"/>
<line x1="288.50" y1="491.11" x2="291.50" y2="491.11" stroke="#444444" stroke-width="0.80"/>
<rect x="155.50" y="490.00" width="133.00" height="98.00" fill="none" stroke="#333333" stroke-width="1"/>
<text transform="translate(294.70,591.90) scale(1.087,1)" style="font-family:'Liberation Sans',sans-serif;font-size:13.70px;" fill="#000">0.0</text>
<text transform="translate(294.70,560.07) scale(1.095,1)" style="font-family:'Liberation Sans',sans-serif;font-size:13.70px;" fill="#000">0.2</text>
<text transform="translate(294.71,528.24) scale(1.078,1)" style="font-family:'Liberation Sans',sans-serif;font-size:13.70px;" fill="#000">0.4</text>
<text transform="translate(294.70,496.41) scale(1.095,1)" style="font-family:'Liberation Sans',sans-serif;font-size:13.70px;" fill="#000">0.6</text>
<text transform="translate(143.46,604.20) scale(1.096,1)" style="font-family:'Liberation Sans',sans-serif;font-size:13.60px;" fill="#000">10</text>
<text transform="translate(160.72,599.00) scale(1.083,1)" style="font-family:'Liberation Sans',sans-serif;font-size:10.00px;" fill="#000">0</text>
<text transform="translate(209.96,604.20) scale(1.096,1)" style="font-family:'Liberation Sans',sans-serif;font-size:13.60px;" fill="#000">10</text>
<text transform="translate(226.87,599.00) scale(0.977,1)" style="font-family:'Liberation Sans',sans-serif;font-size:10.00px;" fill="#000">1</text>
<text transform="translate(276.46,604.20) scale(1.096,1)" style="font-family:'Liberation Sans',sans-serif;font-size:13.60px;" fill="#000">10</text>
<text transform="translate(293.58,599.00) scale(1.130,1)" style="font-family:'Liberation Sans',sans-serif;font-size:10.00px;" fill="#000">2</text>
<text transform="translate(219.47,486.40) scale(1.000,1)" style="font-family:'Liberation Sans',sans-serif;font-size:13.00px;font-style:italic;" fill="#000">r</text>
<g clip-path="url(#clipd)">
<use href="#m0" x="423.5" y="534.5"/>
<use href="#m0" x="460.5" y="478.5"/>
<use href="#m0" x="481.5" y="454.5"/>
<use href="#m0" x="497.5" y="440.5"/>
<use href="#m0" x="509.5" y="428.5"/>
<use href="#m0" x="518.5" y="420.5"/>
<use href="#m0" x="527.5" y="414.5"/>
<use href="#m0" x="534.5" y="409.5"/>
<use href="#m0" x="540.5" y="406.5"/>
<use href="#m0" x="546.5" y="402.5"/>
<use href="#m0" x="551.5" y="400.5"/>
<use href="#m0" x="555.5" y="398.5"/>
<use href="#m0" x="560.5" y="396.5"/>
<use href="#m0" x="564.5" y="394.5"/>
<use href="#m0" x="567.5" y="392.5"/>
<use href="#m0" x="571.5" y="392.5"/>
<use href="#m0" x="574.5" y="391.5"/>
<use href="#m0" x="577.5" y="390.5"/>
<use href="#m0" x="580.5" y="390.5"/>
<use href="#m0" x="583.5" y="389.5"/>
<use href="#m0" x="585.5" y="389.5"/>
<use href="#m0" x="588.5" y="389.5"/>
<use href="#m0" x="590.5" y="388.5"/>
<use href="#m0" x="592.5" y="388.5"/>
<use href="#m0" x="595.5" y="388.5"/>
<use href="#m0" x="597.5" y="388.5"/>
<use href="#m0" x="599.5" y="388.5"/>
<use href="#m0" x="601.5" y="387.5"/>
<use href="#m0" x="602.5" y="387.5"/>
<use href="#m0" x="604.5" y="387.5"/>
<use href="#m0" x="606.5" y="387.5"/>
<use href="#m0" x="608.5" y="387.5"/>
<use href="#m0" x="609.5" y="387.5"/>
<use href="#m0" x="611.5" y="386.5"/>
<use href="#m0" x="613.5" y="386.5"/>
<use href="#m0" x="614.5" y="386.5"/>
<use href="#m0" x="615.5" y="386.5"/>
<use href="#m0" x="617.5" y="386.5"/>
<use href="#m0" x="618.5" y="386.5"/>
<use href="#m0" x="620.5" y="386.5"/>
<use href="#m0" x="621.5" y="385.5"/>
<use href="#m0" x="622.5" y="385.5"/>
<use href="#m0" x="623.5" y="385.5"/>
<use href="#m0" x="625.5" y="385.5"/>
<use href="#m0" x="626.5" y="385.5"/>
<use href="#m0" x="627.5" y="385.5"/>
<use href="#m0" x="628.5" y="385.5"/>
<use href="#m0" x="629.5" y="385.5"/>
<use href="#m0" x="630.5" y="385.5"/>
<use href="#m0" x="632.5" y="384.5"/>
<use href="#m0" x="633.5" y="384.5"/>
<use href="#m0" x="634.5" y="384.5"/>
<use href="#m0" x="635.5" y="384.5"/>
<use href="#m0" x="636.5" y="384.5"/>
<use href="#m0" x="637.5" y="384.5"/>
<use href="#m0" x="638.5" y="384.5"/>
<use href="#m0" x="639.5" y="384.5"/>
<use href="#m0" x="639.5" y="384.5"/>
<use href="#m0" x="640.5" y="384.5"/>
<use href="#m0" x="641.5" y="384.5"/>
<use href="#m0" x="642.5" y="384.5"/>
<use href="#m0" x="643.5" y="384.5"/>
<use href="#m0" x="644.5" y="384.5"/>
<use href="#m0" x="645.5" y="384.5"/>
<use href="#m0" x="646.5" y="384.5"/>
<use href="#m0" x="646.5" y="384.5"/>
<use href="#m0" x="647.5" y="384.5"/>
<use href="#m0" x="648.5" y="384.5"/>
<use href="#m0" x="649.5" y="384.5"/>
<use href="#m0" x="649.5" y="384.5"/>
<use href="#m0" x="650.5" y="384.5"/>
<use href="#m0" x="651.5" y="384.5"/>
<use href="#m0" x="652.5" y="384.5"/>
<use href="#m0" x="652.5" y="384.5"/>
<use href="#m0" x="653.5" y="384.5"/>
<use href="#m0" x="654.5" y="384.5"/>
<use href="#m0" x="655.5" y="384.5"/>
<use href="#m0" x="655.5" y="384.5"/>
<use href="#m0" x="656.5" y="383.5"/>
<use href="#m0" x="657.5" y="383.5"/>
<use href="#m0" x="657.5" y="383.5"/>
<use href="#m0" x="658.5" y="383.5"/>
<use href="#m0" x="659.5" y="383.5"/>
<use href="#m0" x="659.5" y="383.5"/>
<use href="#m0" x="660.5" y="383.5"/>
<use href="#m0" x="660.5" y="383.5"/>
<use href="#m0" x="661.5" y="383.5"/>
<use href="#m0" x="662.5" y="383.5"/>
<use href="#m0" x="662.5" y="383.5"/>
<use href="#m0" x="663.5" y="383.5"/>
<use href="#m0" x="663.5" y="383.5"/>
<use href="#m0" x="664.5" y="383.5"/>
<use href="#m0" x="665.5" y="383.5"/>
<use href="#m0" x="665.5" y="383.5"/>
<use href="#m0" x="666.5" y="383.5"/>
<use href="#m0" x="666.5" y="383.5"/>
<use href="#m0" x="667.5" y="383.5"/>
<use href="#m0" x="667.5" y="383.5"/>
<use href="#m0" x="668.5" y="383.5"/>
<use href="#m0" x="669.5" y="383.5"/>
<use href="#m0" x="669.5" y="383.5"/>
<use href="#m0" x="670.5" y="383.5"/>
<use href="#m0" x="670.5" y="383.5"/>
<use href="#m0" x="671.5" y="383.5"/>
<use href="#m0" x="671.5" y="383.5"/>
<use href="#m0" x="672.5" y="383.5"/>
<use href="#m0" x="672.5" y="383.5"/>
<use href="#m0" x="673.5" y="383.5"/>
<use href="#m0" x="673.5" y="383.5"/>
<use href="#m0" x="674.5" y="383.5"/>
<use href="#m1" x="423.5" y="480.5"/>
<use href="#m1" x="460.5" y="446.5"/>
<use href="#m1" x="481.5" y="432.5"/>
<use href="#m1" x="497.5" y="423.5"/>
<use href="#m1" x="509.5" y="415.5"/>
<use href="#m1" x="518.5" y="410.5"/>
<use href="#m1" x="527.5" y="406.5"/>
<use href="#m1" x="534.5" y="403.5"/>
<use href="#m1" x="540.5" y="400.5"/>
<use href="#m1" x="546.5" y="398.5"/>
<use href="#m1" x="551.5" y="397.5"/>
<use href="#m1" x="555.5" y="395.5"/>
<use href="#m1" x="560.5" y="394.5"/>
<use href="#m1" x="564.5" y="392.5"/>
<use href="#m1" x="567.5" y="391.5"/>
<use href="#m1" x="571.5" y="391.5"/>
<use href="#m1" x="574.5" y="390.5"/>
<use href="#m1" x="577.5" y="389.5"/>
<use href="#m1" x="580.5" y="389.5"/>
<use href="#m1" x="583.5" y="388.5"/>
<use href="#m1" x="585.5" y="388.5"/>
<use href="#m1" x="588.5" y="388.5"/>
<use href="#m1" x="590.5" y="388.5"/>
<use href="#m1" x="592.5" y="388.5"/>
<use href="#m1" x="595.5" y="387.5"/>
<use href="#m1" x="597.5" y="387.5"/>
<use href="#m1" x="599.5" y="387.5"/>
<use href="#m1" x="601.5" y="387.5"/>
<use href="#m1" x="602.5" y="387.5"/>
<use href="#m1" x="604.5" y="387.5"/>
<use href="#m1" x="606.5" y="386.5"/>
<use href="#m1" x="608.5" y="386.5"/>
<use href="#m1" x="609.5" y="386.5"/>
<use href="#m1" x="611.5" y="386.5"/>
<use href="#m1" x="613.5" y="386.5"/>
<use href="#m1" x="614.5" y="386.5"/>
<use href="#m1" x="615.5" y="386.5"/>
<use href="#m1" x="617.5" y="386.5"/>
<use href="#m1" x="618.5" y="385.5"/>
<use href="#m1" x="620.5" y="385.5"/>
<use href="#m1" x="621.5" y="385.5"/>
<use href="#m1" x="622.5" y="385.5"/>
<use href="#m1" x="623.5" y="385.5"/>
<use href="#m1" x="625.5" y="385.5"/>
<use href="#m1" x="626.5" y="385.5"/>
<use href="#m1" x="627.5" y="385.5"/>
<use href="#m1" x="628.5" y="385.5"/>
<use href="#m1" x="629.5" y="385.5"/>
<use href="#m1" x="630.5" y="384.5"/>
<use href="#m1" x="632.5" y="384.5"/>
<use href="#m1" x="633.5" y="384.5"/>
<use href="#m1" x="634.5" y="384.5"/>
<use href="#m1" x="635.5" y="384.5"/>
<use href="#m1" x="636.5" y="384.5"/>
<use href="#m1" x="637.5" y="384.5"/>
<use href="#m1" x="638.5" y="384.5"/>
<use href="#m1" x="639.5" y="384.5"/>
<use href="#m1" x="639.5" y="384.5"/>
<use href="#m1" x="640.5" y="384.5"/>
<use href="#m1" x="641.5" y="384.5"/>
<use href="#m1" x="642.5" y="384.5"/>
<use href="#m1" x="643.5" y="384.5"/>
<use href="#m1" x="644.5" y="384.5"/>
<use href="#m1" x="645.5" y="384.5"/>
<use href="#m1" x="646.5" y="384.5"/>
<use href="#m1" x="646.5" y="384.5"/>
<use href="#m1" x="647.5" y="384.5"/>
<use href="#m1" x="648.5" y="384.5"/>
<use href="#m1" x="649.5" y="384.5"/>
<use href="#m1" x="649.5" y="384.5"/>
<use href="#m1" x="650.5" y="384.5"/>
<use href="#m1" x="651.5" y="384.5"/>
<use href="#m1" x="652.5" y="384.5"/>
<use href="#m1" x="652.5" y="384.5"/>
<use href="#m1" x="653.5" y="384.5"/>
<use href="#m1" x="654.5" y="384.5"/>
<use href="#m1" x="655.5" y="384.5"/>
<use href="#m1" x="655.5" y="384.5"/>
<use href="#m1" x="656.5" y="384.5"/>
<use href="#m1" x="657.5" y="383.5"/>
<use href="#m1" x="657.5" y="383.5"/>
<use href="#m1" x="658.5" y="383.5"/>
<use href="#m1" x="659.5" y="383.5"/>
<use href="#m1" x="659.5" y="383.5"/>
<use href="#m1" x="660.5" y="383.5"/>
<use href="#m1" x="660.5" y="383.5"/>
<use href="#m1" x="661.5" y="383.5"/>
<use href="#m1" x="662.5" y="383.5"/>
<use href="#m1" x="662.5" y="383.5"/>
<use href="#m1" x="663.5" y="383.5"/>
<use href="#m1" x="663.5" y="383.5"/>
<use href="#m1" x="664.5" y="383.5"/>
<use href="#m1" x="665.5" y="383.5"/>
<use href="#m1" x="665.5" y="383.5"/>
<use href="#m1" x="666.5" y="383.5"/>
<use href="#m1" x="666.5" y="383.5"/>
<use href="#m1" x="667.5" y="383.5"/>
<use href="#m1" x="667.5" y="383.5"/>
<use href="#m1" x="668.5" y="383.5"/>
<use href="#m1" x="669.5" y="383.5"/>
<use href="#m1" x="669.5" y="383.5"/>
<use href="#m1" x="670.5" y="383.5"/>
<use href="#m1" x="670.5" y="383.5"/>
<use href="#m1" x="671.5" y="383.5"/>
<use href="#m1" x="671.5" y="383.5"/>
<use href="#m1" x="672.5" y="383.5"/>
<use href="#m1" x="672.5" y="383.5"/>
<use href="#m1" x="673.5" y="383.5"/>
<use href="#m1" x="673.5" y="383.5"/>
<use href="#m1" x="674.5" y="383.5"/>
<use href="#m2" x="423.5" y="459.5"/>
<use href="#m2" x="460.5" y="434.5"/>
<use href="#m2" x="481.5" y="424.5"/>
<use href="#m2" x="497.5" y="416.5"/>
<use href="#m2" x="509.5" y="410.5"/>
<use href="#m2" x="518.5" y="406.5"/>
<use href="#m2" x="527.5" y="403.5"/>
<use href="#m2" x="534.5" y="400.5"/>
<use href="#m2" x="540.5" y="398.5"/>
<use href="#m2" x="546.5" y="397.5"/>
<use href="#m2" x="551.5" y="395.5"/>
<use href="#m2" x="555.5" y="394.5"/>
<use href="#m2" x="560.5" y="393.5"/>
<use href="#m2" x="564.5" y="392.5"/>
<use href="#m2" x="567.5" y="391.5"/>
<use href="#m2" x="571.5" y="390.5"/>
<use href="#m2" x="574.5" y="390.5"/>
<use href="#m2" x="577.5" y="389.5"/>
<use href="#m2" x="580.5" y="389.5"/>
<use href="#m2" x="583.5" y="388.5"/>
<use href="#m2" x="585.5" y="388.5"/>
<use href="#m2" x="588.5" y="388.5"/>
<use href="#m2" x="590.5" y="388.5"/>
<use href="#m2" x="592.5" y="387.5"/>
<use href="#m2" x="595.5" y="387.5"/>
<use href="#m2" x="597.5" y="387.5"/>
<use href="#m2" x="599.5" y="387.5"/>
<use href="#m2" x="601.5" y="387.5"/>
<use href="#m2" x="602.5" y="387.5"/>
<use href="#m2" x="604.5" y="386.5"/>
<use href="#m2" x="606.5" y="386.5"/>
<use href="#m2" x="608.5" y="386.5"/>
<use href="#m2" x="609.5" y="386.5"/>
<use href="#m2" x="611.5" y="386.5"/>
<use href="#m2" x="613.5" y="386.5"/>
<use href="#m2" x="614.5" y="386.5"/>
<use href="#m2" x="615.5" y="386.5"/>
<use href="#m2" x="617.5" y="385.5"/>
<use href="#m2" x="618.5" y="385.5"/>
<use href="#m2" x="620.5" y="385.5"/>
<use href="#m2" x="621.5" y="385.5"/>
<use href="#m2" x="622.5" y="385.5"/>
<use href="#m2" x="623.5" y="385.5"/>
<use href="#m2" x="625.5" y="385.5"/>
<use href="#m2" x="626.5" y="385.5"/>
<use href="#m2" x="627.5" y="385.5"/>
<use href="#m2" x="628.5" y="385.5"/>
<use href="#m2" x="629.5" y="385.5"/>
<use href="#m2" x="630.5" y="384.5"/>
<use href="#m2" x="632.5" y="384.5"/>
<use href="#m2" x="633.5" y="384.5"/>
<use href="#m2" x="634.5" y="384.5"/>
<use href="#m2" x="635.5" y="384.5"/>
<use href="#m2" x="636.5" y="384.5"/>
<use href="#m2" x="637.5" y="384.5"/>
<use href="#m2" x="638.5" y="384.5"/>
<use href="#m2" x="639.5" y="384.5"/>
<use href="#m2" x="639.5" y="384.5"/>
<use href="#m2" x="640.5" y="384.5"/>
<use href="#m2" x="641.5" y="384.5"/>
<use href="#m2" x="642.5" y="384.5"/>
<use href="#m2" x="643.5" y="384.5"/>
<use href="#m2" x="644.5" y="384.5"/>
<use href="#m2" x="645.5" y="384.5"/>
<use href="#m2" x="646.5" y="384.5"/>
<use href="#m2" x="646.5" y="384.5"/>
<use href="#m2" x="647.5" y="384.5"/>
<use href="#m2" x="648.5" y="384.5"/>
<use href="#m2" x="649.5" y="384.5"/>
<use href="#m2" x="649.5" y="384.5"/>
<use href="#m2" x="650.5" y="384.5"/>
<use href="#m2" x="651.5" y="384.5"/>
<use href="#m2" x="652.5" y="384.5"/>
<use href="#m2" x="652.5" y="384.5"/>
<use href="#m2" x="653.5" y="384.5"/>
<use href="#m2" x="654.5" y="384.5"/>
<use href="#m2" x="655.5" y="384.5"/>
<use href="#m2" x="655.5" y="384.5"/>
<use href="#m2" x="656.5" y="384.5"/>
<use href="#m2" x="657.5" y="383.5"/>
<use href="#m2" x="657.5" y="383.5"/>
<use href="#m2" x="658.5" y="383.5"/>
<use href="#m2" x="659.5" y="383.5"/>
<use href="#m2" x="659.5" y="383.5"/>
<use href="#m2" x="660.5" y="383.5"/>
<use href="#m2" x="660.5" y="383.5"/>
<use href="#m2" x="661.5" y="383.5"/>
<use href="#m2" x="662.5" y="383.5"/>
<use href="#m2" x="662.5" y="383.5"/>
<use href="#m2" x="663.5" y="383.5"/>
<use href="#m2" x="663.5" y="383.5"/>
<use href="#m2" x="664.5" y="383.5"/>
<use href="#m2" x="665.5" y="383.5"/>
<use href="#m2" x="665.5" y="383.5"/>
<use href="#m2" x="666.5" y="383.5"/>
<use href="#m2" x="666.5" y="383.5"/>
<use href="#m2" x="667.5" y="383.5"/>
<use href="#m2" x="667.5" y="383.5"/>
<use href="#m2" x="668.5" y="383.5"/>
<use href="#m2" x="669.5" y="383.5"/>
<use href="#m2" x="669.5" y="383.5"/>
<use href="#m2" x="670.5" y="383.5"/>
<use href="#m2" x="670.5" y="383.5"/>
<use href="#m2" x="671.5" y="383.5"/>
<use href="#m2" x="671.5" y="383.5"/>
<use href="#m2" x="672.5" y="383.5"/>
<use href="#m2" x="672.5" y="383.5"/>
<use href="#m2" x="673.5" y="383.5"/>
<use href="#m2" x="673.5" y="383.5"/>
<use href="#m2" x="674.5" y="383.5"/>
<use href="#m3" x="423.5" y="447.5"/>
<use href="#m3" x="460.5" y="426.5"/>
<use href="#m3" x="481.5" y="419.5"/>
<use href="#m3" x="497.5" y="412.5"/>
<use href="#m3" x="509.5" y="407.5"/>
<use href="#m3" x="518.5" y="404.5"/>
<use href="#m3" x="527.5" y="401.5"/>
<use href="#m3" x="534.5" y="399.5"/>
<use href="#m3" x="540.5" y="397.5"/>
<use href="#m3" x="546.5" y="396.5"/>
<use href="#m3" x="551.5" y="394.5"/>
<use href="#m3" x="555.5" y="393.5"/>
<use href="#m3" x="560.5" y="392.5"/>
<use href="#m3" x="564.5" y="391.5"/>
<use href="#m3" x="567.5" y="391.5"/>
<use href="#m3" x="571.5" y="390.5"/>
<use href="#m3" x="574.5" y="389.5"/>
<use href="#m3" x="577.5" y="389.5"/>
<use href="#m3" x="580.5" y="388.5"/>
<use href="#m3" x="583.5" y="388.5"/>
<use href="#m3" x="585.5" y="388.5"/>
<use href="#m3" x="588.5" y="388.5"/>
<use href="#m3" x="590.5" y="387.5"/>
<use href="#m3" x="592.5" y="387.5"/>
<use href="#m3" x="595.5" y="387.5"/>
<use href="#m3" x="597.5" y="387.5"/>
<use href="#m3" x="599.5" y="387.5"/>
<use href="#m3" x="601.5" y="387.5"/>
<use href="#m3" x="602.5" y="387.5"/>
<use href="#m3" x="604.5" y="386.5"/>
<use href="#m3" x="606.5" y="386.5"/>
<use href="#m3" x="608.5" y="386.5"/>
<use href="#m3" x="609.5" y="386.5"/>
<use href="#m3" x="611.5" y="386.5"/>
<use href="#m3" x="613.5" y="386.5"/>
<use href="#m3" x="614.5" y="386.5"/>
<use href="#m3" x="615.5" y="386.5"/>
<use href="#m3" x="617.5" y="385.5"/>
<use href="#m3" x="618.5" y="385.5"/>
<use href="#m3" x="620.5" y="385.5"/>
<use href="#m3" x="621.5" y="385.5"/>
<use href="#m3" x="622.5" y="385.5"/>
<use href="#m3" x="623.5" y="385.5"/>
<use href="#m3" x="625.5" y="385.5"/>
<use href="#m3" x="626.5" y="385.5"/>
<use href="#m3" x="627.5" y="385.5"/>
<use href="#m3" x="628.5" y="385.5"/>
<use href="#m3" x="629.5" y="385.5"/>
<use href="#m3" x="630.5" y="384.5"/>
<use href="#m3" x="632.5" y="384.5"/>
<use href="#m3" x="633.5" y="384.5"/>
<use href="#m3" x="634.5" y="384.5"/>
<use href="#m3" x="635.5" y="384.5"/>
<use href="#m3" x="636.5" y="384.5"/>
<use href="#m3" x="637.5" y="384.5"/>
<use href="#m3" x="638.5" y="384.5"/>
<use href="#m3" x="639.5" y="384.5"/>
<use href="#m3" x="639.5" y="384.5"/>
<use href="#m3" x="640.5" y="384.5"/>
<use href="#m3" x="641.5" y="384.5"/>
<use href="#m3" x="642.5" y="384.5"/>
<use href="#m3" x="643.5" y="384.5"/>
<use href="#m3" x="644.5" y="384.5"/>
<use href="#m3" x="645.5" y="384.5"/>
<use href="#m3" x="646.5" y="384.5"/>
<use href="#m3" x="646.5" y="384.5"/>
<use href="#m3" x="647.5" y="384.5"/>
<use href="#m3" x="648.5" y="384.5"/>
<use href="#m3" x="649.5" y="384.5"/>
<use href="#m3" x="649.5" y="384.5"/>
<use href="#m3" x="650.5" y="384.5"/>
<use href="#m3" x="651.5" y="384.5"/>
<use href="#m3" x="652.5" y="384.5"/>
<use href="#m3" x="652.5" y="384.5"/>
<use href="#m3" x="653.5" y="384.5"/>
<use href="#m3" x="654.5" y="384.5"/>
<use href="#m3" x="655.5" y="384.5"/>
<use href="#m3" x="655.5" y="384.5"/>
<use href="#m3" x="656.5" y="384.5"/>
<use href="#m3" x="657.5" y="383.5"/>
<use href="#m3" x="657.5" y="383.5"/>
<use href="#m3" x="658.5" y="383.5"/>
<use href="#m3" x="659.5" y="383.5"/>
<use href="#m3" x="659.5" y="383.5"/>
<use href="#m3" x="660.5" y="383.5"/>
<use href="#m3" x="660.5" y="383.5"/>
<use href="#m3" x="661.5" y="383.5"/>
<use href="#m3" x="662.5" y="383.5"/>
<use href="#m3" x="662.5" y="383.5"/>
<use href="#m3" x="663.5" y="383.5"/>
<use href="#m3" x="663.5" y="383.5"/>
<use href="#m3" x="664.5" y="383.5"/>
<use href="#m3" x="665.5" y="383.5"/>
<use href="#m3" x="665.5" y="383.5"/>
<use href="#m3" x="666.5" y="383.5"/>
<use href="#m3" x="666.5" y="383.5"/>
<use href="#m3" x="667.5" y="383.5"/>
<use href="#m3" x="667.5" y="383.5"/>
<use href="#m3" x="668.5" y="383.5"/>
<use href="#m3" x="669.5" y="383.5"/>
<use href="#m3" x="669.5" y="383.5"/>
<use href="#m3" x="670.5" y="383.5"/>
<use href="#m3" x="670.5" y="383.5"/>
<use href="#m3" x="671.5" y="383.5"/>
<use href="#m3" x="671.5" y="383.5"/>
<use href="#m3" x="672.5" y="383.5"/>
<use href="#m3" x="672.5" y="383.5"/>
<use href="#m3" x="673.5" y="383.5"/>
<use href="#m3" x="673.5" y="383.5"/>
<use href="#m3" x="674.5" y="383.5"/>
<use href="#m4" x="423.5" y="438.5"/>
<use href="#m4" x="460.5" y="421.5"/>
<use href="#m4" x="481.5" y="415.5"/>
<use href="#m4" x="497.5" y="409.5"/>
<use href="#m4" x="509.5" y="406.5"/>
<use href="#m4" x="518.5" y="402.5"/>
<use href="#m4" x="527.5" y="400.5"/>
<use href="#m4" x="534.5" y="398.5"/>
<use href="#m4" x="540.5" y="396.5"/>
<use href="#m4" x="546.5" y="395.5"/>
<use href="#m4" x="551.5" y="394.5"/>
<use href="#m4" x="555.5" y="393.5"/>
<use href="#m4" x="560.5" y="392.5"/>
<use href="#m4" x="564.5" y="391.5"/>
<use href="#m4" x="567.5" y="390.5"/>
<use href="#m4" x="571.5" y="390.5"/>
<use href="#m4" x="574.5" y="389.5"/>
<use href="#m4" x="577.5" y="389.5"/>
<use href="#m4" x="580.5" y="388.5"/>
<use href="#m4" x="583.5" y="388.5"/>
<use href="#m4" x="585.5" y="388.5"/>
<use href="#m4" x="588.5" y="388.5"/>
<use href="#m4" x="590.5" y="387.5"/>
<use href="#m4" x="592.5" y="387.5"/>
<use href="#m4" x="595.5" y="387.5"/>
<use href="#m4" x="597.5" y="387.5"/>
<use href="#m4" x="599.5" y="387.5"/>
<use href="#m4" x="601.5" y="387.5"/>
<use href="#m4" x="602.5" y="386.5"/>
<use href="#m4" x="604.5" y="386.5"/>
<use href="#m4" x="606.5" y="386.5"/>
<use href="#m4" x="608.5" y="386.5"/>
<use href="#m4" x="609.5" y="386.5"/>
<use href="#m4" x="611.5" y="386.5"/>
<use href="#m4" x="613.5" y="386.5"/>
<use href="#m4" x="614.5" y="386.5"/>
<use href="#m4" x="615.5" y="386.5"/>
<use href="#m4" x="617.5" y="385.5"/>
<use href="#m4" x="618.5" y="385.5"/>
<use href="#m4" x="620.5" y="385.5"/>
<use href="#m4" x="621.5" y="385.5"/>
<use href="#m4" x="622.5" y="385.5"/>
<use href="#m4" x="623.5" y="385.5"/>
<use href="#m4" x="625.5" y="385.5"/>
<use href="#m4" x="626.5" y="385.5"/>
<use href="#m4" x="627.5" y="385.5"/>
<use href="#m4" x="628.5" y="385.5"/>
<use href="#m4" x="629.5" y="384.5"/>
<use href="#m4" x="630.5" y="384.5"/>
<use href="#m4" x="632.5" y="384.5"/>
<use href="#m4" x="633.5" y="384.5"/>
<use href="#m4" x="634.5" y="384.5"/>
<use href="#m4" x="635.5" y="384.5"/>
<use href="#m4" x="636.5" y="384.5"/>
<use href="#m4" x="637.5" y="384.5"/>
<use href="#m4" x="638.5" y="384.5"/>
<use href="#m4" x="639.5" y="384.5"/>
<use href="#m4" x="639.5" y="384.5"/>
<use href="#m4" x="640.5" y="384.5"/>
<use href="#m4" x="641.5" y="384.5"/>
<use href="#m4" x="642.5" y="384.5"/>
<use href="#m4" x="643.5" y="384.5"/>
<use href="#m4" x="644.5" y="384.5"/>
<use href="#m4" x="645.5" y="384.5"/>
<use href="#m4" x="646.5" y="384.5"/>
<use href="#m4" x="646.5" y="384.5"/>
<use href="#m4" x="647.5" y="384.5"/>
<use href="#m4" x="648.5" y="384.5"/>
<use href="#m4" x="649.5" y="384.5"/>
<use href="#m4" x="649.5" y="384.5"/>
<use href="#m4" x="650.5" y="384.5"/>
<use href="#m4" x="651.5" y="384.5"/>
<use href="#m4" x="652.5" y="384.5"/>
<use href="#m4" x="652.5" y="384.5"/>
<use href="#m4" x="653.5" y="384.5"/>
<use href="#m4" x="654.5" y="384.5"/>
<use href="#m4" x="655.5" y="384.5"/>
<use href="#m4" x="655.5" y="384.5"/>
<use href="#m4" x="656.5" y="384.5"/>
<use href="#m4" x="657.5" y="384.5"/>
<use href="#m4" x="657.5" y="383.5"/>
<use href="#m4" x="658.5" y="383.5"/>
<use href="#m4" x="659.5" y="383.5"/>
<use href="#m4" x="659.5" y="383.5"/>
<use href="#m4" x="660.5" y="383.5"/>
<use href="#m4" x="660.5" y="383.5"/>
<use href="#m4" x="661.5" y="383.5"/>
<use href="#m4" x="662.5" y="383.5"/>
<use href="#m4" x="662.5" y="383.5"/>
<use href="#m4" x="663.5" y="383.5"/>
<use href="#m4" x="663.5" y="383.5"/>
<use href="#m4" x="664.5" y="383.5"/>
<use href="#m4" x="665.5" y="383.5"/>
<use href="#m4" x="665.5" y="383.5"/>
<use href="#m4" x="666.5" y="383.5"/>
<use href="#m4" x="666.5" y="383.5"/>
<use href="#m4" x="667.5" y="383.5"/>
<use href="#m4" x="667.5" y="383.5"/>
<use href="#m4" x="668.5" y="383.5"/>
<use href="#m4" x="669.5" y="383.5"/>
<use href="#m4" x="669.5" y="383.5"/>
<use href="#m4" x="670.5" y="383.5"/>
<use href="#m4" x="670.5" y="383.5"/>
<use href="#m4" x="671.5" y="383.5"/>
<use href="#m4" x="671.5" y="383.5"/>
<use href="#m4" x="672.5" y="383.5"/>
<use href="#m4" x="672.5" y="383.5"/>
<use href="#m4" x="673.5" y="383.5"/>
<use href="#m4" x="673.5" y="383.5"/>
<use href="#m4" x="674.5" y="383.5"/>
<use href="#m5" x="423.5" y="434.5"/>
<use href="#m5" x="460.5" y="419.5"/>
<use href="#m5" x="481.5" y="414.5"/>
<use href="#m5" x="497.5" y="408.5"/>
<use href="#m5" x="509.5" y="405.5"/>
<use href="#m5" x="518.5" y="401.5"/>
<use href="#m5" x="527.5" y="399.5"/>
<use href="#m5" x="534.5" y="397.5"/>
<use href="#m5" x="540.5" y="396.5"/>
<use href="#m5" x="546.5" y="395.5"/>
<use href="#m5" x="551.5" y="394.5"/>
<use href="#m5" x="555.5" y="393.5"/>
<use href="#m5" x="560.5" y="392.5"/>
<use href="#m5" x="564.5" y="391.5"/>
<use href="#m5" x="567.5" y="390.5"/>
<use href="#m5" x="571.5" y="390.5"/>
<use href="#m5" x="574.5" y="389.5"/>
<use href="#m5" x="577.5" y="389.5"/>
<use href="#m5" x="580.5" y="388.5"/>
<use href="#m5" x="583.5" y="388.5"/>
<use href="#m5" x="585.5" y="388.5"/>
<use href="#m5" x="588.5" y="387.5"/>
<use href="#m5" x="590.5" y="387.5"/>
<use href="#m5" x="592.5" y="387.5"/>
<use href="#m5" x="595.5" y="387.5"/>
<use href="#m5" x="597.5" y="387.5"/>
<use href="#m5" x="599.5" y="387.5"/>
<use href="#m5" x="601.5" y="387.5"/>
<use href="#m5" x="602.5" y="386.5"/>
<use href="#m5" x="604.5" y="386.5"/>
<use href="#m5" x="606.5" y="386.5"/>
<use href="#m5" x="608.5" y="386.5"/>
<use href="#m5" x="609.5" y="386.5"/>
<use href="#m5" x="611.5" y="386.5"/>
<use href="#m5" x="613.5" y="386.5"/>
<use href="#m5" x="614.5" y="386.5"/>
<use href="#m5" x="615.5" y="385.5"/>
<use href="#m5" x="617.5" y="385.5"/>
<use href="#m5" x="618.5" y="385.5"/>
<use href="#m5" x="620.5" y="385.5"/>
<use href="#m5" x="621.5" y="385.5"/>
<use href="#m5" x="622.5" y="385.5"/>
<use href="#m5" x="623.5" y="385.5"/>
<use href="#m5" x="625.5" y="385.5"/>
<use href="#m5" x="626.5" y="385.5"/>
<use href="#m5" x="627.5" y="385.5"/>
<use href="#m5" x="628.5" y="385.5"/>
<use href="#m5" x="629.5" y="384.5"/>
<use href="#m5" x="630.5" y="384.5"/>
<use href="#m5" x="632.5" y="384.5"/>
<use href="#m5" x="633.5" y="384.5"/>
<use href="#m5" x="634.5" y="384.5"/>
<use href="#m5" x="635.5" y="384.5"/>
<use href="#m5" x="636.5" y="384.5"/>
<use href="#m5" x="637.5" y="384.5"/>
<use href="#m5" x="638.5" y="384.5"/>
<use href="#m5" x="639.5" y="384.5"/>
<use href="#m5" x="639.5" y="384.5"/>
<use href="#m5" x="640.5" y="384.5"/>
<use href="#m5" x="641.5" y="384.5"/>
<use href="#m5" x="642.5" y="384.5"/>
<use href="#m5" x="643.5" y="384.5"/>
<use href="#m5" x="644.5" y="384.5"/>
<use href="#m5" x="645.5" y="384.5"/>
<use href="#m5" x="646.5" y="384.5"/>
<use href="#m5" x="646.5" y="384.5"/>
<use href="#m5" x="647.5" y="384.5"/>
<use href="#m5" x="648.5" y="384.5"/>
<use href="#m5" x="649.5" y="384.5"/>
<use href="#m5" x="649.5" y="384.5"/>
<use href="#m5" x="650.5" y="384.5"/>
<use href="#m5" x="651.5" y="384.5"/>
<use href="#m5" x="652.5" y="384.5"/>
<use href="#m5" x="652.5" y="384.5"/>
<use href="#m5" x="653.5" y="384.5"/>
<use href="#m5" x="654.5" y="384.5"/>
<use href="#m5" x="655.5" y="384.5"/>
<use href="#m5" x="655.5" y="384.5"/>
<use href="#m5" x="656.5" y="384.5"/>
<use href="#m5" x="657.5" y="384.5"/>
<use href="#m5" x="657.5" y="383.5"/>
<use href="#m5" x="658.5" y="383.5"/>
<use href="#m5" x="659.5" y="383.5"/>
<use href="#m5" x="659.5" y="383.5"/>
<use href="#m5" x="660.5" y="383.5"/>
<use href="#m5" x="660.5" y="383.5"/>
<use href="#m5" x="661.5" y="383.5"/>
<use href="#m5" x="662.5" y="383.5"/>
<use href="#m5" x="662.5" y="383.5"/>
<use href="#m5" x="663.5" y="383.5"/>
<use href="#m5" x="663.5" y="383.5"/>
<use href="#m5" x="664.5" y="383.5"/>
<use href="#m5" x="665.5" y="383.5"/>
<use href="#m5" x="665.5" y="383.5"/>
<use href="#m5" x="666.5" y="383.5"/>
<use href="#m5" x="666.5" y="383.5"/>
<use href="#m5" x="667.5" y="383.5"/>
<use href="#m5" x="667.5" y="383.5"/>
<use href="#m5" x="668.5" y="383.5"/>
<use href="#m5" x="669.5" y="383.5"/>
<use href="#m5" x="669.5" y="383.5"/>
<use href="#m5" x="670.5" y="383.5"/>
<use href="#m5" x="670.5" y="383.5"/>
<use href="#m5" x="671.5" y="383.5"/>
<use href="#m5" x="671.5" y="383.5"/>
<use href="#m5" x="672.5" y="383.5"/>
<use href="#m5" x="672.5" y="383.5"/>
<use href="#m5" x="673.5" y="383.5"/>
<use href="#m5" x="673.5" y="383.5"/>
<use href="#m5" x="674.5" y="383.5"/>
<use href="#m6" x="423.5" y="431.5"/>
<use href="#m6" x="460.5" y="417.5"/>
<use href="#m6" x="481.5" y="412.5"/>
<use href="#m6" x="497.5" y="407.5"/>
<use href="#m6" x="509.5" y="404.5"/>
<use href="#m6" x="518.5" y="401.5"/>
<use href="#m6" x="527.5" y="399.5"/>
<use href="#m6" x="534.5" y="397.5"/>
<use href="#m6" x="540.5" y="395.5"/>
<use href="#m6" x="546.5" y="394.5"/>
<use href="#m6" x="551.5" y="393.5"/>
<use href="#m6" x="555.5" y="392.5"/>
<use href="#m6" x="560.5" y="392.5"/>
<use href="#m6" x="564.5" y="391.5"/>
<use href="#m6" x="567.5" y="390.5"/>
<use href="#m6" x="571.5" y="390.5"/>
<use href="#m6" x="574.5" y="389.5"/>
<use href="#m6" x="577.5" y="389.5"/>
<use href="#m6" x="580.5" y="388.5"/>
<use href="#m6" x="583.5" y="388.5"/>
<use href="#m6" x="585.5" y="388.5"/>
<use href="#m6" x="588.5" y="387.5"/>
<use href="#m6" x="590.5" y="387.5"/>
<use href="#m6" x="592.5" y="387.5"/>
<use href="#m6" x="595.5" y="387.5"/>
<use href="#m6" x="597.5" y="387.5"/>
<use href="#m6" x="599.5" y="387.5"/>
<use href="#m6" x="601.5" y="387.5"/>
<use href="#m6" x="602.5" y="386.5"/>
<use href="#m6" x="604.5" y="386.5"/>
<use href="#m6" x="606.5" y="386.5"/>
<use href="#m6" x="608.5" y="386.5"/>
<use href="#m6" x="609.5" y="386.5"/>
<use href="#m6" x="611.5" y="386.5"/>
<use href="#m6" x="613.5" y="386.5"/>
<use href="#m6" x="614.5" y="386.5"/>
<use href="#m6" x="615.5" y="385.5"/>
<use href="#m6" x="617.5" y="385.5"/>
<use href="#m6" x="618.5" y="385.5"/>
<use href="#m6" x="620.5" y="385.5"/>
<use href="#m6" x="621.5" y="385.5"/>
<use href="#m6" x="622.5" y="385.5"/>
<use href="#m6" x="623.5" y="385.5"/>
<use href="#m6" x="625.5" y="385.5"/>
<use href="#m6" x="626.5" y="385.5"/>
<use href="#m6" x="627.5" y="385.5"/>
<use href="#m6" x="628.5" y="385.5"/>
<use href="#m6" x="629.5" y="384.5"/>
<use href="#m6" x="630.5" y="384.5"/>
<use href="#m6" x="632.5" y="384.5"/>
<use href="#m6" x="633.5" y="384.5"/>
<use href="#m6" x="634.5" y="384.5"/>
<use href="#m6" x="635.5" y="384.5"/>
<use href="#m6" x="636.5" y="384.5"/>
<use href="#m6" x="637.5" y="384.5"/>
<use href="#m6" x="638.5" y="384.5"/>
<use href="#m6" x="639.5" y="384.5"/>
<use href="#m6" x="639.5" y="384.5"/>
<use href="#m6" x="640.5" y="384.5"/>
<use href="#m6" x="641.5" y="384.5"/>
<use href="#m6" x="642.5" y="384.5"/>
<use href="#m6" x="643.5" y="384.5"/>
<use href="#m6" x="644.5" y="384.5"/>
<use href="#m6" x="645.5" y="384.5"/>
<use href="#m6" x="646.5" y="384.5"/>
<use href="#m6" x="646.5" y="384.5"/>
<use href="#m6" x="647.5" y="384.5"/>
<use href="#m6" x="648.5" y="384.5"/>
<use href="#m6" x="649.5" y="384.5"/>
<use href="#m6" x="649.5" y="384.5"/>
<use href="#m6" x="650.5" y="384.5"/>
<use href="#m6" x="651.5" y="384.5"/>
<use href="#m6" x="652.5" y="384.5"/>
<use href="#m6" x="652.5" y="384.5"/>
<use href="#m6" x="653.5" y="384.5"/>
<use href="#m6" x="654.5" y="384.5"/>
<use href="#m6" x="655.5" y="384.5"/>
<use href="#m6" x="655.5" y="384.5"/>
<use href="#m6" x="656.5" y="384.5"/>
<use href="#m6" x="657.5" y="384.5"/>
<use href="#m6" x="657.5" y="383.5"/>
<use href="#m6" x="658.5" y="383.5"/>
<use href="#m6" x="659.5" y="383.5"/>
<use href="#m6" x="659.5" y="383.5"/>
<use href="#m6" x="660.5" y="383.5"/>
<use href="#m6" x="660.5" y="383.5"/>
<use href="#m6" x="661.5" y="383.5"/>
<use href="#m6" x="662.5" y="383.5"/>
<use href="#m6" x="662.5" y="383.5"/>
<use href="#m6" x="663.5" y="383.5"/>
<use href="#m6" x="663.5" y="383.5"/>
<use href="#m6" x="664.5" y="383.5"/>
<use href="#m6" x="665.5" y="383.5"/>
<use href="#m6" x="665.5" y="383.5"/>
<use href="#m6" x="666.5" y="383.5"/>
<use href="#m6" x="666.5" y="383.5"/>
<use href="#m6" x="667.5" y="383.5"/>
<use href="#m6" x="667.5" y="383.5"/>
<use href="#m6" x="668.5" y="383.5"/>
<use href="#m6" x="669.5" y="383.5"/>
<use href="#m6" x="669.5" y="383.5"/>
<use href="#m6" x="670.5" y="383.5"/>
<use href="#m6" x="670.5" y="383.5"/>
<use href="#m6" x="671.5" y="383.5"/>
<use href="#m6" x="671.5" y="383.5"/>
<use href="#m6" x="672.5" y="383.5"/>
<use href="#m6" x="672.5" y="383.5"/>
<use href="#m6" x="673.5" y="383.5"/>
<use href="#m6" x="673.5" y="383.5"/>
<use href="#m6" x="674.5" y="383.5"/>
<use href="#m7" x="423.5" y="428.5"/>
<use href="#m7" x="460.5" y="415.5"/>
<use href="#m7" x="481.5" y="411.5"/>
<use href="#m7" x="497.5" y="406.5"/>
<use href="#m7" x="509.5" y="403.5"/>
<use href="#m7" x="518.5" y="400.5"/>
<use href="#m7" x="527.5" y="398.5"/>
<use href="#m7" x="534.5" y="397.5"/>
<use href="#m7" x="540.5" y="395.5"/>
<use href="#m7" x="546.5" y="394.5"/>
<use href="#m7" x="551.5" y="393.5"/>
<use href="#m7" x="555.5" y="392.5"/>
<use href="#m7" x="560.5" y="392.5"/>
<use href="#m7" x="564.5" y="391.5"/>
<use href="#m7" x="567.5" y="390.5"/>
<use href="#m7" x="571.5" y="390.5"/>
<use href="#m7" x="574.5" y="389.5"/>
<use href="#m7" x="577.5" y="389.5"/>
<use href="#m7" x="580.5" y="388.5"/>
<use href="#m7" x="583.5" y="388.5"/>
<use href="#m7" x="585.5" y="388.5"/>
<use href="#m7" x="588.5" y="387.5"/>
<use href="#m7" x="590.5" y="387.5"/>
<use href="#m7" x="592.5" y="387.5"/>
<use href="#m7" x="595.5" y="387.5"/>
<use href="#m7" x="597.5" y="387.5"/>
<use href="#m7" x="599.5" y="387.5"/>
<use href="#m7" x="601.5" y="386.5"/>
<use href="#m7" x="602.5" y="386.5"/>
<use href="#m7" x="604.5" y="386.5"/>
<use href="#m7" x="606.5" y="386.5"/>
<use href="#m7" x="608.5" y="386.5"/>
<use href="#m7" x="609.5" y="386.5"/>
<use href="#m7" x="611.5" y="386.5"/>
<use href="#m7" x="613.5" y="386.5"/>
<use href="#m7" x="614.5" y="386.5"/>
<use href="#m7" x="615.5" y="385.5"/>
<use href="#m7" x="617.5" y="385.5"/>
<use href="#m7" x="618.5" y="385.5"/>
<use href="#m7" x="620.5" y="385.5"/>
<use href="#m7" x="621.5" y="385.5"/>
<use href="#m7" x="622.5" y="385.5"/>
<use href="#m7" x="623.5" y="385.5"/>
<use href="#m7" x="625.5" y="385.5"/>
<use href="#m7" x="626.5" y="385.5"/>
<use href="#m7" x="627.5" y="385.5"/>
<use href="#m7" x="628.5" y="385.5"/>
<use href="#m7" x="629.5" y="384.5"/>
<use href="#m7" x="630.5" y="384.5"/>
<use href="#m7" x="632.5" y="384.5"/>
<use href="#m7" x="633.5" y="384.5"/>
<use href="#m7" x="634.5" y="384.5"/>
<use href="#m7" x="635.5" y="384.5"/>
<use href="#m7" x="636.5" y="384.5"/>
<use href="#m7" x="637.5" y="384.5"/>
<use href="#m7" x="638.5" y="384.5"/>
<use href="#m7" x="639.5" y="384.5"/>
<use href="#m7" x="639.5" y="384.5"/>
<use href="#m7" x="640.5" y="384.5"/>
<use href="#m7" x="641.5" y="384.5"/>
<use href="#m7" x="642.5" y="384.5"/>
<use href="#m7" x="643.5" y="384.5"/>
<use href="#m7" x="644.5" y="384.5"/>
<use href="#m7" x="645.5" y="384.5"/>
<use href="#m7" x="646.5" y="384.5"/>
<use href="#m7" x="646.5" y="384.5"/>
<use href="#m7" x="647.5" y="384.5"/>
<use href="#m7" x="648.5" y="384.5"/>
<use href="#m7" x="649.5" y="384.5"/>
<use href="#m7" x="649.5" y="384.5"/>
<use href="#m7" x="650.5" y="384.5"/>
<use href="#m7" x="651.5" y="384.5"/>
<use href="#m7" x="652.5" y="384.5"/>
<use href="#m7" x="652.5" y="384.5"/>
<use href="#m7" x="653.5" y="384.5"/>
<use href="#m7" x="654.5" y="384.5"/>
<use href="#m7" x="655.5" y="384.5"/>
<use href="#m7" x="655.5" y="384.5"/>
<use href="#m7" x="656.5" y="384.5"/>
<use href="#m7" x="657.5" y="384.5"/>
<use href="#m7" x="657.5" y="383.5"/>
<use href="#m7" x="658.5" y="383.5"/>
<use href="#m7" x="659.5" y="383.5"/>
<use href="#m7" x="659.5" y="383.5"/>
<use href="#m7" x="660.5" y="383.5"/>
<use href="#m7" x="660.5" y="383.5"/>
<use href="#m7" x="661.5" y="383.5"/>
<use href="#m7" x="662.5" y="383.5"/>
<use href="#m7" x="662.5" y="383.5"/>
<use href="#m7" x="663.5" y="383.5"/>
<use href="#m7" x="663.5" y="383.5"/>
<use href="#m7" x="664.5" y="383.5"/>
<use href="#m7" x="665.5" y="383.5"/>
<use href="#m7" x="665.5" y="383.5"/>
<use href="#m7" x="666.5" y="383.5"/>
<use href="#m7" x="666.5" y="383.5"/>
<use href="#m7" x="667.5" y="383.5"/>
<use href="#m7" x="667.5" y="383.5"/>
<use href="#m7" x="668.5" y="383.5"/>
<use href="#m7" x="669.5" y="383.5"/>
<use href="#m7" x="669.5" y="383.5"/>
<use href="#m7" x="670.5" y="383.5"/>
<use href="#m7" x="670.5" y="383.5"/>
<use href="#m7" x="671.5" y="383.5"/>
<use href="#m7" x="671.5" y="383.5"/>
<use href="#m7" x="672.5" y="383.5"/>
<use href="#m7" x="672.5" y="383.5"/>
<use href="#m7" x="673.5" y="383.5"/>
<use href="#m7" x="673.5" y="383.5"/>
<use href="#m7" x="674.5" y="383.5"/>
<use href="#m8" x="423.5" y="424.5"/>
<use href="#m8" x="460.5" y="413.5"/>
<use href="#m8" x="481.5" y="409.5"/>
<use href="#m8" x="497.5" y="405.5"/>
<use href="#m8" x="509.5" y="402.5"/>
<use href="#m8" x="518.5" y="399.5"/>
<use href="#m8" x="527.5" y="398.5"/>
<use href="#m8" x="534.5" y="396.5"/>
<use href="#m8" x="540.5" y="395.5"/>
<use href="#m8" x="546.5" y="394.5"/>
<use href="#m8" x="551.5" y="393.5"/>
<use href="#m8" x="555.5" y="392.5"/>
<use href="#m8" x="560.5" y="391.5"/>
<use href="#m8" x="564.5" y="391.5"/>
<use href="#m8" x="567.5" y="390.5"/>
<use href="#m8" x="571.5" y="390.5"/>
<use href="#m8" x="574.5" y="389.5"/>
<use href="#m8" x="577.5" y="389.5"/>
<use href="#m8" x="580.5" y="388.5"/>
<use href="#m8" x="583.5" y="388.5"/>
<use href="#m8" x="585.5" y="388.5"/>
<use href="#m8" x="588.5" y="387.5"/>
<use href="#m8" x="590.5" y="387.5"/>
<use href="#m8" x="592.5" y="387.5"/>
<use href="#m8" x="595.5" y="387.5"/>
<use href="#m8" x="597.5" y="387.5"/>
<use href="#m8" x="599.5" y="387.5"/>
<use href="#m8" x="601.5" y="386.5"/>
<use href="#m8" x="602.5" y="386.5"/>
<use href="#m8" x="604.5" y="386.5"/>
<use href="#m8" x="606.5" y="386.5"/>
<use href="#m8" x="608.5" y="386.5"/>
<use href="#m8" x="609.5" y="386.5"/>
<use href="#m8" x="611.5" y="386.5"/>
<use href="#m8" x="613.5" y="386.5"/>
<use href="#m8" x="614.5" y="386.5"/>
<use href="#m8" x="615.5" y="385.5"/>
<use href="#m8" x="617.5" y="385.5"/>
<use href="#m8" x="618.5" y="385.5"/>
<use href="#m8" x="620.5" y="385.5"/>
<use href="#m8" x="621.5" y="385.5"/>
<use href="#m8" x="622.5" y="385.5"/>
<use href="#m8" x="623.5" y="385.5"/>
<use href="#m8" x="625.5" y="385.5"/>
<use href="#m8" x="626.5" y="385.5"/>
<use href="#m8" x="627.5" y="385.5"/>
<use href="#m8" x="628.5" y="385.5"/>
<use href="#m8" x="629.5" y="384.5"/>
<use href="#m8" x="630.5" y="384.5"/>
<use href="#m8" x="632.5" y="384.5"/>
<use href="#m8" x="633.5" y="384.5"/>
<use href="#m8" x="634.5" y="384.5"/>
<use href="#m8" x="635.5" y="384.5"/>
<use href="#m8" x="636.5" y="384.5"/>
<use href="#m8" x="637.5" y="384.5"/>
<use href="#m8" x="638.5" y="384.5"/>
<use href="#m8" x="639.5" y="384.5"/>
<use href="#m8" x="639.5" y="384.5"/>
<use href="#m8" x="640.5" y="384.5"/>
<use href="#m8" x="641.5" y="384.5"/>
<use href="#m8" x="642.5" y="384.5"/>
<use href="#m8" x="643.5" y="384.5"/>
<use href="#m8" x="644.5" y="384.5"/>
<use href="#m8" x="645.5" y="384.5"/>
<use href="#m8" x="646.5" y="384.5"/>
<use href="#m8" x="646.5" y="384.5"/>
<use href="#m8" x="647.5" y="384.5"/>
<use href="#m8" x="648.5" y="384.5"/>
<use href="#m8" x="649.5" y="384.5"/>
<use href="#m8" x="649.5" y="384.5"/>
<use href="#m8" x="650.5" y="384.5"/>
<use href="#m8" x="651.5" y="384.5"/>
<use href="#m8" x="652.5" y="384.5"/>
<use href="#m8" x="652.5" y="384.5"/>
<use href="#m8" x="653.5" y="384.5"/>
<use href="#m8" x="654.5" y="384.5"/>
<use href="#m8" x="655.5" y="384.5"/>
<use href="#m8" x="655.5" y="384.5"/>
<use href="#m8" x="656.5" y="384.5"/>
<use href="#m8" x="657.5" y="384.5"/>
<use href="#m8" x="657.5" y="383.5"/>
<use href="#m8" x="658.5" y="383.5"/>
<use href="#m8" x="659.5" y="383.5"/>
<use href="#m8" x="659.5" y="383.5"/>
<use href="#m8" x="660.5" y="383.5"/>
<use href="#m8" x="660.5" y="383.5"/>
<use href="#m8" x="661.5" y="383.5"/>
<use href="#m8" x="662.5" y="383.5"/>
<use href="#m8" x="662.5" y="383.5"/>
<use href="#m8" x="663.5" y="383.5"/>
<use href="#m8" x="663.5" y="383.5"/>
<use href="#m8" x="664.5" y="383.5"/>
<use href="#m8" x="665.5" y="383.5"/>
<use href="#m8" x="665.5" y="383.5"/>
<use href="#m8" x="666.5" y="383.5"/>
<use href="#m8" x="666.5" y="383.5"/>
<use href="#m8" x="667.5" y="383.5"/>
<use href="#m8" x="667.5" y="383.5"/>
<use href="#m8" x="668.5" y="383.5"/>
<use href="#m8" x="669.5" y="383.5"/>
<use href="#m8" x="669.5" y="383.5"/>
<use href="#m8" x="670.5" y="383.5"/>
<use href="#m8" x="670.5" y="383.5"/>
<use href="#m8" x="671.5" y="383.5"/>
<use href="#m8" x="671.5" y="383.5"/>
<use href="#m8" x="672.5" y="383.5"/>
<use href="#m8" x="672.5" y="383.5"/>
<use href="#m8" x="673.5" y="383.5"/>
<use href="#m8" x="673.5" y="383.5"/>
<use href="#m8" x="674.5" y="383.5"/>
<linearGradient id="bgd" gradientUnits="userSpaceOnUse" x1="588.2" y1="0" x2="632.0" y2="0"><stop offset="0" stop-color="#979797" stop-opacity="0"/><stop offset="1" stop-color="#979797" stop-opacity="1"/></linearGradient>
<polygon points="588.2,381.9 589.7,381.8 591.2,381.7 592.7,381.6 594.2,381.5 595.7,381.4 597.2,381.3 598.7,381.2 600.2,381.1 601.7,381.0 603.2,380.9 604.7,380.8 606.2,380.7 607.7,380.5 609.2,380.4 610.7,380.3 612.2,380.2 613.7,380.1 615.2,380.0 616.7,379.9 618.1,379.8 619.6,379.7 621.1,379.6 622.6,379.5 624.1,379.4 625.6,379.3 627.1,379.2 628.6,379.1 630.1,379.0 631.6,378.9 633.1,378.8 634.6,378.8 636.1,378.7 637.6,378.7 639.1,378.6 640.6,378.6 642.1,378.5 643.6,378.5 645.1,378.4 646.6,378.4 648.0,378.3 649.5,378.3 651.0,378.3 652.5,378.2 654.0,378.2 655.5,378.1 657.0,378.1 658.5,378.0 660.0,378.0 661.5,377.9 663.0,377.9 664.5,377.8 666.0,377.8 667.5,377.7 669.0,377.7 670.5,377.7 672.0,377.7 673.5,377.7 675.0,377.7 676.5,377.7 676.5,389.6 675.0,389.6 673.5,389.6 672.0,389.6 670.5,389.6 669.0,389.6 667.5,389.6 666.0,389.7 664.5,389.7 663.0,389.8 661.5,389.8 660.0,389.9 658.5,389.9 657.0,390.0 655.5,390.0 654.0,390.1 652.5,390.1 651.0,390.2 649.5,390.2 648.0,390.2 646.6,390.3 645.1,390.3 643.6,390.4 642.1,390.4 640.6,390.5 639.1,390.5 637.6,390.6 636.1,390.6 634.6,390.7 633.1,390.7 631.6,390.8 630.1,390.9 628.6,391.0 627.1,391.1 625.6,391.2 624.1,391.3 622.6,391.4 621.1,391.5 619.6,391.6 618.1,391.7 616.7,391.8 615.2,391.9 613.7,392.0 612.2,392.1 610.7,392.2 609.2,392.3 607.7,392.4 606.2,392.6 604.7,392.7 603.2,392.8 601.7,392.9 600.2,393.0 598.7,393.1 597.2,393.2 595.7,393.3 594.2,393.4 592.7,393.5 591.2,393.6 589.7,393.7 588.2,393.8" fill="url(#bgd)"/>
</g>
<line x1="409.50" y1="587.33" x2="411.50" y2="587.33" stroke="#444444" stroke-width="0.80"/>
<line x1="409.50" y1="535.76" x2="411.50" y2="535.76" stroke="#444444" stroke-width="0.80"/>
<line x1="409.50" y1="499.17" x2="411.50" y2="499.17" stroke="#444444" stroke-width="0.80"/>
<line x1="409.50" y1="470.78" x2="411.50" y2="470.78" stroke="#444444" stroke-width="0.80"/>
<line x1="409.50" y1="447.60" x2="411.50" y2="447.60" stroke="#444444" stroke-width="0.80"/>
<line x1="409.50" y1="427.99" x2="411.50" y2="427.99" stroke="#444444" stroke-width="0.80"/>
<line x1="409.50" y1="411.00" x2="411.50" y2="411.00" stroke="#444444" stroke-width="0.80"/>
<line x1="409.50" y1="396.02" x2="411.50" y2="396.02" stroke="#444444" stroke-width="0.80"/>
<line x1="408.00" y1="382.62" x2="411.50" y2="382.62" stroke="#444444" stroke-width="0.80"/>
<line x1="411.50" y1="608.00" x2="411.50" y2="610.00" stroke="#444444" stroke-width="0.80"/>
<line x1="417.78" y1="608.00" x2="417.78" y2="610.00" stroke="#444444" stroke-width="0.80"/>
<line x1="423.40" y1="608.00" x2="423.40" y2="611.50" stroke="#444444" stroke-width="0.80"/>
<line x1="460.37" y1="608.00" x2="460.37" y2="610.00" stroke="#444444" stroke-width="0.80"/>
<line x1="481.99" y1="608.00" x2="481.99" y2="610.00" stroke="#444444" stroke-width="0.80"/>
<line x1="497.33" y1="608.00" x2="497.33" y2="610.00" stroke="#444444" stroke-width="0.80"/>
<line x1="509.23" y1="608.00" x2="509.23" y2="610.00" stroke="#444444" stroke-width="0.80"/>
<line x1="518.96" y1="608.00" x2="518.96" y2="610.00" stroke="#444444" stroke-width="0.80"/>
<line x1="527.18" y1="608.00" x2="527.18" y2="610.00" stroke="#444444" stroke-width="0.80"/>
<line x1="534.30" y1="608.00" x2="534.30" y2="610.00" stroke="#444444" stroke-width="0.80"/>
<line x1="540.58" y1="608.00" x2="540.58" y2="610.00" stroke="#444444" stroke-width="0.80"/>
<line x1="546.20" y1="608.00" x2="546.20" y2="611.50" stroke="#444444" stroke-width="0.80"/>
<line x1="583.17" y1="608.00" x2="583.17" y2="610.00" stroke="#444444" stroke-width="0.80"/>
<line x1="604.79" y1="608.00" x2="604.79" y2="610.00" stroke="#444444" stroke-width="0.80"/>
<line x1="620.13" y1="608.00" x2="620.13" y2="610.00" stroke="#444444" stroke-width="0.80"/>
<line x1="632.03" y1="608.00" x2="632.03" y2="610.00" stroke="#444444" stroke-width="0.80"/>
<line x1="641.76" y1="608.00" x2="641.76" y2="610.00" stroke="#444444" stroke-width="0.80"/>
<line x1="649.98" y1="608.00" x2="649.98" y2="610.00" stroke="#444444" stroke-width="0.80"/>
<line x1="657.10" y1="608.00" x2="657.10" y2="610.00" stroke="#444444" stroke-width="0.80"/>
<line x1="663.38" y1="608.00" x2="663.38" y2="610.00" stroke="#444444" stroke-width="0.80"/>
<line x1="669.00" y1="608.00" x2="669.00" y2="611.50" stroke="#444444" stroke-width="0.80"/>
<rect x="411.50" y="370.50" width="257.50" height="237.50" fill="none" stroke="#333333" stroke-width="1"/>
<text transform="translate(379.28,389.12) scale(1.176,1)" style="font-family:'Liberation Sans',sans-serif;font-size:16.20px;" fill="#000">1.0</text>
<text transform="translate(380.06,454.10) scale(1.149,1)" style="font-family:'Liberation Sans',sans-serif;font-size:16.20px;" fill="#000">0.6</text>
<text transform="translate(380.07,505.67) scale(1.132,1)" style="font-family:'Liberation Sans',sans-serif;font-size:16.20px;" fill="#000">0.4</text>
<text transform="translate(380.06,542.26) scale(1.149,1)" style="font-family:'Liberation Sans',sans-serif;font-size:16.20px;" fill="#000">0.3</text>
<text transform="translate(380.06,593.83) scale(1.149,1)" style="font-family:'Liberation Sans',sans-serif;font-size:16.20px;" fill="#000">0.2</text>
<text transform="translate(408.98,626.40) scale(1.136,1)" style="font-family:'Liberation Sans',sans-serif;font-size:16.20px;" fill="#000">10</text>
<text transform="translate(429.31,620.20) scale(1.083,1)" style="font-family:'Liberation Sans',sans-serif;font-size:12.50px;" fill="#000">0</text>
<text transform="translate(531.78,626.40) scale(1.136,1)" style="font-family:'Liberation Sans',sans-serif;font-size:16.20px;" fill="#000">10</text>
<text transform="translate(551.79,620.20) scale(0.856,1)" style="font-family:'Liberation Sans',sans-serif;font-size:12.50px;" fill="#000">1</text>
<text transform="translate(654.58,626.40) scale(1.136,1)" style="font-family:'Liberation Sans',sans-serif;font-size:16.20px;" fill="#000">10</text>
<text transform="translate(674.74,620.20) scale(1.130,1)" style="font-family:'Liberation Sans',sans-serif;font-size:12.50px;" fill="#000">2</text>
<text transform="translate(537.63,645.80) scale(1.000,1)" style="font-family:'Liberation Sans',sans-serif;font-size:16.00px;font-style:italic;" fill="#000">r</text>
<rect x="505.50" y="490.00" width="133.00" height="98.00" fill="#fff" stroke="none"/>
<g clip-path="url(#iclipd)" fill="none" stroke-width="1.3" stroke-linejoin="round">
<polyline points="505.5,504.8 525.5,516.6 537.2,532.5 545.5,526.0 552.0,540.9 557.2,542.2 561.7,544.9 565.6,553.0 569.0,549.5 572.0,557.2 574.8,556.0 577.3,558.0 579.6,563.1 581.7,560.4 583.7,565.5 585.6,565.0 587.3,568.9 589.0,567.5 590.5,571.1 592.0,569.5 593.4,572.9 594.8,571.0 596.1,574.2 597.3,572.3 598.5,575.3 599.6,573.2 600.7,576.1 601.7,574.0 602.7,577.0 603.7,574.9 604.7,577.9 605.6,575.8 606.5,578.8 607.3,576.7 608.2,579.6 609.0,577.5 609.8,580.5 610.6,578.4 611.3,581.4 612.0,579.1 612.8,580.7 613.4,581.3 614.1,581.9 614.8,582.1 615.4,582.7 616.1,582.6 616.7,583.1 617.3,583.0 617.9,583.4 618.5,583.6 619.1,584.0 619.6,584.1 620.2,584.2 620.7,584.7 621.2,584.6 621.8,584.6 622.3,585.0 622.8,584.7 623.3,585.1 623.7,584.6 624.2,584.7 624.7,585.2 625.2,584.8 625.6,585.1 626.1,584.7 626.5,584.9 626.9,584.9 627.4,585.1 627.8,585.1 628.2,584.9 628.6,585.3 629.0,585.1 629.4,585.0 629.8,584.8 630.2,585.3 630.6,585.3 631.0,585.1 631.3,584.8 631.7,585.3 632.1,584.9 632.4,584.8 632.8,585.0 633.1,585.2 633.5,584.8 633.8,585.1 634.1,585.3 634.5,584.8 634.8,585.3 635.1,585.3 635.5,585.1 635.8,585.0 636.1,584.9 636.4,585.3 636.7,585.2 637.0,584.8 637.3,585.2 637.6,585.4 637.9,584.9 638.2,585.1 638.5,585.0" stroke="#0b2f22"/>
<polyline points="505.5,537.9 525.5,541.6 537.2,551.4 545.5,545.5 552.0,555.2 557.2,555.6 561.7,557.3 565.6,561.6 569.0,559.9 572.0,565.4 574.8,564.0 577.3,564.1 579.6,568.3 581.7,567.6 583.7,571.2 585.6,569.9 587.3,573.3 589.0,571.7 590.5,574.6 592.0,572.8 593.4,575.7 594.8,573.9 596.1,576.7 597.3,574.8 598.5,577.4 599.6,575.3 600.7,577.8 601.7,575.7 602.7,578.3 603.7,576.1 604.7,578.6 605.6,576.7 606.5,579.6 607.3,577.8 608.2,580.7 609.0,578.8 609.8,581.6 610.6,579.7 611.3,582.6 612.0,580.2 612.8,582.2 613.4,582.2 614.1,582.9 614.8,582.7 615.4,582.8 616.1,583.5 616.7,583.6 617.3,583.9 617.9,583.9 618.5,584.6 619.1,584.7 619.6,584.7 620.2,584.4 620.7,584.6 621.2,584.8 621.8,584.3 622.3,584.4 622.8,584.5 623.3,584.9 623.7,584.4 624.2,584.5 624.7,585.0 625.2,585.0 625.6,585.0 626.1,585.1 626.5,584.8 626.9,585.1 627.4,584.4 627.8,584.8 628.2,585.0 628.6,585.0 629.0,584.7 629.4,584.6 629.8,585.0 630.2,584.9 630.6,585.3 631.0,584.9 631.3,585.2 631.7,585.2 632.1,584.8 632.4,585.2 632.8,585.3 633.1,584.6 633.5,585.3 633.8,585.0 634.1,585.4 634.5,585.3 634.8,585.2 635.1,584.8 635.5,584.7 635.8,585.2 636.1,585.2 636.4,585.3 636.7,585.0 637.0,585.1 637.3,585.1 637.6,585.2 637.9,584.9 638.2,585.4 638.5,585.3" stroke="#0d4d35"/>
<polyline points="505.5,549.8 525.5,552.1 537.2,559.1 545.5,554.3 552.0,561.5 557.2,562.1 561.7,563.4 565.6,566.2 569.0,564.6 572.0,568.8 574.8,568.2 577.3,568.1 579.6,571.6 581.7,570.6 583.7,573.7 585.6,572.4 587.3,575.3 589.0,573.7 590.5,576.4 592.0,574.7 593.4,577.3 594.8,575.5 596.1,578.1 597.3,576.3 598.5,578.7 599.6,576.8 600.7,579.2 601.7,577.2 602.7,579.6 603.7,577.6 604.7,580.0 605.6,578.2 606.5,580.7 607.3,578.9 608.2,581.5 609.0,579.6 609.8,582.2 610.6,580.3 611.3,582.8 612.0,581.2 612.8,581.6 613.4,582.1 614.1,582.3 614.8,583.1 615.4,582.9 616.1,582.7 616.7,583.6 617.3,583.0 617.9,584.0 618.5,583.9 619.1,584.1 619.6,583.5 620.2,583.5 620.7,584.2 621.2,584.1 621.8,583.5 622.3,584.1 622.8,584.3 623.3,583.9 623.7,583.5 624.2,584.3 624.7,583.6 625.2,584.1 625.6,583.4 626.1,583.5 626.5,583.8 626.9,583.8 627.4,583.8 627.8,583.4 628.2,583.6 628.6,583.3 629.0,583.3 629.4,583.7 629.8,583.3 630.2,583.8 630.6,583.8 631.0,583.9 631.3,583.7 631.7,584.1 632.1,583.4 632.4,584.0 632.8,583.6 633.1,583.8 633.5,583.0 633.8,583.8 634.1,583.2 634.5,583.0 634.8,583.6 635.1,583.0 635.5,583.1 635.8,583.3 636.1,583.1 636.4,583.1 636.7,582.9 637.0,583.1 637.3,582.9 637.6,583.6 637.9,583.3 638.2,583.9 638.5,583.8" stroke="#15704f"/>
<polyline points="505.5,557.2 525.5,558.7 537.2,563.9 545.5,559.7 552.0,565.5 557.2,566.1 561.7,567.2 565.6,569.0 569.0,567.6 572.0,570.8 574.8,570.8 577.3,570.6 579.6,573.6 581.7,572.6 583.7,575.3 585.6,573.9 587.3,576.5 589.0,575.0 590.5,577.4 592.0,575.8 593.4,578.2 594.8,576.6 596.1,578.9 597.3,577.3 598.5,579.5 599.6,577.7 600.7,579.9 601.7,578.2 602.7,580.4 603.7,578.6 604.7,580.8 605.6,579.1 606.5,581.3 607.3,579.7 608.2,581.9 609.0,580.2 609.8,582.4 610.6,580.7 611.3,583.0 612.0,580.8 612.8,581.7 613.4,581.8 614.1,582.7 614.8,582.2 615.4,583.0 616.1,582.5 616.7,582.4 617.3,582.5 617.9,583.6 618.5,582.8 619.1,583.1 619.6,582.8 620.2,582.9 620.7,583.3 621.2,583.1 621.8,583.7 622.3,583.3 622.8,582.9 623.3,583.6 623.7,583.5 624.2,583.6 624.7,583.2 625.2,583.6 625.6,583.2 626.1,583.2 626.5,583.4 626.9,583.7 627.4,582.7 627.8,583.6 628.2,582.6 628.6,582.6 629.0,583.3 629.4,583.2 629.8,583.1 630.2,583.5 630.6,582.8 631.0,583.0 631.3,583.2 631.7,583.1 632.1,582.8 632.4,583.3 632.8,582.7 633.1,582.7 633.5,582.8 633.8,581.9 634.1,582.1 634.5,582.2 634.8,582.0 635.1,581.6 635.5,582.3 635.8,581.6 636.1,582.0 636.4,582.2 636.7,582.1 637.0,582.1 637.3,582.2 637.6,582.2 637.9,582.6 638.2,582.0 638.5,582.2" stroke="#1f8c61"/>
<polyline points="505.5,561.7 525.5,562.6 537.2,566.9 545.5,563.0 552.0,567.8 557.2,568.5 561.7,569.5 565.6,570.7 569.0,569.4 572.0,572.1 574.8,572.4 577.3,572.2 579.6,574.8 581.7,573.8 583.7,576.2 585.6,574.9 587.3,577.2 589.0,575.9 590.5,578.0 592.0,576.6 593.4,578.7 594.8,577.3 596.1,579.4 597.3,577.9 598.5,579.9 599.6,578.4 600.7,580.4 601.7,578.8 602.7,580.8 603.7,579.2 604.7,581.2 605.6,579.7 606.5,581.7 607.3,580.1 608.2,582.1 609.0,580.6 609.8,582.6 610.6,581.0 611.3,583.0 612.0,581.3 612.8,582.5 613.4,582.0 614.1,582.8 614.8,582.4 615.4,581.8 616.1,582.8 616.7,582.7 617.3,582.4 617.9,582.5 618.5,582.9 619.1,582.7 619.6,582.8 620.2,582.6 620.7,583.2 621.2,583.4 621.8,583.0 622.3,583.3 622.8,583.5 623.3,583.2 623.7,582.9 624.2,583.8 624.7,583.6 625.2,583.1 625.6,582.7 626.1,583.3 626.5,582.6 626.9,582.3 627.4,582.2 627.8,582.9 628.2,583.0 628.6,582.7 629.0,582.3 629.4,582.6 629.8,582.2 630.2,582.0 630.6,583.1 631.0,582.9 631.3,582.9 631.7,582.4 632.1,581.8 632.4,582.1 632.8,581.9 633.1,581.8 633.5,582.4 633.8,582.1 634.1,581.6 634.5,581.9 634.8,581.2 635.1,581.2 635.5,581.2 635.8,581.3 636.1,581.3 636.4,580.8 636.7,581.1 637.0,580.9 637.3,581.9 637.6,581.4 637.9,581.7 638.2,582.0 638.5,582.1" stroke="#36a57b"/>
<polyline points="505.5,565.2 525.5,565.8 537.2,569.1 545.5,565.6 552.0,569.7 557.2,570.4 561.7,571.3 565.6,572.1 569.0,570.8 572.0,573.1 574.8,573.6 577.3,573.5 579.6,575.7 581.7,574.7 583.7,576.8 585.6,575.7 587.3,577.7 589.0,576.5 590.5,578.5 592.0,577.2 593.4,579.1 594.8,577.8 596.1,579.7 597.3,578.4 598.5,580.3 599.6,578.9 600.7,580.7 601.7,579.4 602.7,581.2 603.7,579.8 604.7,581.6 605.6,580.2 606.5,581.9 607.3,580.5 608.2,582.3 609.0,580.9 609.8,582.7 610.6,581.2 611.3,583.0 612.0,581.2 612.8,582.6 613.4,581.5 614.1,581.7 614.8,582.2 615.4,583.0 616.1,582.4 616.7,582.2 617.3,583.0 617.9,582.1 618.5,583.0 619.1,583.1 619.6,582.8 620.2,582.8 620.7,583.4 621.2,583.5 621.8,583.4 622.3,583.5 622.8,582.8 623.3,582.5 623.7,583.2 624.2,582.6 624.7,583.2 625.2,583.4 625.6,582.0 626.1,582.7 626.5,583.3 626.9,583.0 627.4,582.7 627.8,582.1 628.2,582.6 628.6,582.8 629.0,582.1 629.4,582.5 629.8,582.5 630.2,582.0 630.6,582.1 631.0,582.0 631.3,582.3 631.7,581.4 632.1,582.6 632.4,582.1 632.8,581.9 633.1,581.9 633.5,581.3 633.8,580.8 634.1,581.0 634.5,581.2 634.8,581.3 635.1,580.9 635.5,580.6 635.8,580.9 636.1,581.2 636.4,580.5 636.7,580.0 637.0,580.4 637.3,580.4 637.6,580.9 637.9,581.2 638.2,580.5 638.5,581.5" stroke="#5db58b"/>
<polyline points="505.5,567.5 525.5,567.8 537.2,570.6 545.5,567.2 552.0,570.9 557.2,571.7 561.7,572.4 565.6,572.9 569.0,571.7 572.0,573.7 574.8,574.4 577.3,574.3 579.6,576.3 581.7,575.4 583.7,577.2 585.6,576.3 587.3,578.0 589.0,577.0 590.5,578.7 592.0,577.6 593.4,579.3 594.8,578.2 596.1,579.9 597.3,578.8 598.5,580.4 599.6,579.3 600.7,580.9 601.7,579.7 602.7,581.3 603.7,580.1 604.7,581.7 605.6,580.5 606.5,582.1 607.3,580.8 608.2,582.4 609.0,581.1 609.8,582.7 610.6,581.4 611.3,583.0 612.0,582.1 612.8,582.2 613.4,581.9 614.1,581.3 614.8,582.8 615.4,581.8 616.1,582.4 616.7,582.7 617.3,582.8 617.9,583.1 618.5,582.0 619.1,582.4 619.6,583.2 620.2,583.2 620.7,583.1 621.2,582.3 621.8,582.5 622.3,582.8 622.8,582.9 623.3,582.3 623.7,582.8 624.2,582.6 624.7,582.3 625.2,582.6 625.6,582.9 626.1,582.1 626.5,582.4 626.9,582.8 627.4,582.2 627.8,581.4 628.2,582.4 628.6,582.0 629.0,582.0 629.4,581.4 629.8,582.2 630.2,582.0 630.6,581.6 631.0,581.2 631.3,582.1 631.7,581.2 632.1,581.0 632.4,582.3 632.8,582.0 633.1,581.7 633.5,581.9 633.8,581.4 634.1,580.6 634.5,581.1 634.8,580.5 635.1,580.7 635.5,580.2 635.8,580.2 636.1,579.8 636.4,580.0 636.7,579.9 637.0,579.7 637.3,580.9 637.6,581.0 637.9,580.6 638.2,581.4 638.5,580.3" stroke="#8ec59c"/>
<polyline points="505.5,568.8 525.5,568.9 537.2,571.4 545.5,568.2 552.0,571.6 557.2,572.4 561.7,573.1 565.6,573.4 569.0,572.2 572.0,574.1 574.8,574.9 577.3,574.8 579.6,576.5 581.7,575.8 583.7,577.4 585.6,576.6 587.3,578.2 589.0,577.3 590.5,578.8 592.0,577.9 593.4,579.4 594.8,578.5 596.1,580.0 597.3,579.0 598.5,580.5 599.6,579.5 600.7,581.0 601.7,580.0 602.7,581.4 603.7,580.4 604.7,581.8 605.6,580.7 606.5,582.1 607.3,581.0 608.2,582.4 609.0,581.3 609.8,582.7 610.6,581.6 611.3,582.9 612.0,580.7 612.8,581.8 613.4,581.8 614.1,581.7 614.8,582.2 615.4,581.9 616.1,581.5 616.7,583.1 617.3,582.9 617.9,582.4 618.5,581.7 619.1,582.4 619.6,582.2 620.2,583.4 620.7,583.3 621.2,581.8 621.8,582.6 622.3,581.8 622.8,583.2 623.3,582.3 623.7,583.1 624.2,583.0 624.7,582.1 625.2,582.5 625.6,581.7 626.1,581.7 626.5,582.9 626.9,582.8 627.4,581.7 627.8,583.0 628.2,582.2 628.6,582.3 629.0,581.8 629.4,582.0 629.8,581.7 630.2,581.6 630.6,581.9 631.0,581.8 631.3,582.1 631.7,581.7 632.1,582.3 632.4,580.8 632.8,580.6 633.1,581.2 633.5,580.3 633.8,580.0 634.1,579.9 634.5,580.5 634.8,581.1 635.1,580.8 635.5,581.1 635.8,580.5 636.1,579.1 636.4,579.1 636.7,581.0 637.0,580.2 637.3,580.7 637.6,579.6 637.9,581.4 638.2,581.2 638.5,580.7" stroke="#c8d8ae"/>
<polyline points="505.5,570.0 525.5,570.0 537.2,572.3 545.5,569.1 552.0,572.3 557.2,573.1 561.7,573.7 565.6,573.9 569.0,572.7 572.0,574.4 574.8,575.4 577.3,575.3 579.6,576.8 581.7,576.2 583.7,577.6 585.6,577.0 587.3,578.3 589.0,577.6 590.5,578.9 592.0,578.2 593.4,579.5 594.8,578.7 596.1,580.0 597.3,579.3 598.5,580.5 599.6,579.8 600.7,581.0 601.7,580.2 602.7,581.4 603.7,580.6 604.7,581.9 605.6,581.0 606.5,582.1 607.3,581.2 608.2,582.4 609.0,581.5 609.8,582.6 610.6,581.7 611.3,582.9 612.0,582.0 612.8,581.3 613.4,582.6 614.1,582.4 614.8,581.5 615.4,581.8 616.1,582.4 616.7,581.3 617.3,581.5 617.9,581.3 618.5,582.1 619.1,581.9 619.6,583.0 620.2,582.2 620.7,583.2 621.2,582.1 621.8,583.1 622.3,583.3 622.8,583.2 623.3,582.6 623.7,582.7 624.2,583.1 624.7,581.8 625.2,581.4 625.6,582.4 626.1,582.1 626.5,582.1 626.9,581.3 627.4,581.0 627.8,581.6 628.2,581.7 628.6,581.1 629.0,581.0 629.4,581.1 629.8,581.8 630.2,582.4 630.6,581.2 631.0,581.3 631.3,580.4 631.7,581.6 632.1,581.4 632.4,580.1 632.8,580.0 633.1,580.6 633.5,581.3 633.8,579.6 634.1,580.2 634.5,579.4 634.8,581.1 635.1,579.3 635.5,580.5 635.8,580.2 636.1,579.5 636.4,580.5 636.7,580.7 637.0,579.5 637.3,580.0 637.6,579.6 637.9,581.0 638.2,581.4 638.5,581.5" stroke="#ffe3bb"/>
</g>
<line x1="505.50" y1="588.00" x2="505.50" y2="591.00" stroke="#444444" stroke-width="0.80"/>
<line x1="525.52" y1="588.00" x2="525.52" y2="589.80" stroke="#444444" stroke-width="0.80"/>
<line x1="537.23" y1="588.00" x2="537.23" y2="589.80" stroke="#444444" stroke-width="0.80"/>
<line x1="545.54" y1="588.00" x2="545.54" y2="589.80" stroke="#444444" stroke-width="0.80"/>
<line x1="551.98" y1="588.00" x2="551.98" y2="589.80" stroke="#444444" stroke-width="0.80"/>
<line x1="557.25" y1="588.00" x2="557.25" y2="589.80" stroke="#444444" stroke-width="0.80"/>
<line x1="561.70" y1="588.00" x2="561.70" y2="589.80" stroke="#444444" stroke-width="0.80"/>
<line x1="565.56" y1="588.00" x2="565.56" y2="589.80" stroke="#444444" stroke-width="0.80"/>
<line x1="568.96" y1="588.00" x2="568.96" y2="589.80" stroke="#444444" stroke-width="0.80"/>
<line x1="572.00" y1="588.00" x2="572.00" y2="591.00" stroke="#444444" stroke-width="0.80"/>
<line x1="592.02" y1="588.00" x2="592.02" y2="589.80" stroke="#444444" stroke-width="0.80"/>
<line x1="603.73" y1="588.00" x2="603.73" y2="589.80" stroke="#444444" stroke-width="0.80"/>
<line x1="612.04" y1="588.00" x2="612.04" y2="589.80" stroke="#444444" stroke-width="0.80"/>
<line x1="618.48" y1="588.00" x2="618.48" y2="589.80" stroke="#444444" stroke-width="0.80"/>
<line x1="623.75" y1="588.00" x2="623.75" y2="589.80" stroke="#444444" stroke-width="0.80"/>
<line x1="628.20" y1="588.00" x2="628.20" y2="589.80" stroke="#444444" stroke-width="0.80"/>
<line x1="632.06" y1="588.00" x2="632.06" y2="589.80" stroke="#444444" stroke-width="0.80"/>
<line x1="635.46" y1="588.00" x2="635.46" y2="589.80" stroke="#444444" stroke-width="0.80"/>
<line x1="638.50" y1="588.00" x2="638.50" y2="591.00" stroke="#444444" stroke-width="0.80"/>
<line x1="638.50" y1="586.60" x2="641.50" y2="586.60" stroke="#444444" stroke-width="0.80"/>
<line x1="638.50" y1="554.77" x2="641.50" y2="554.77" stroke="#444444" stroke-width="0.80"/>
<line x1="638.50" y1="522.94" x2="641.50" y2="522.94" stroke="#444444" stroke-width="0.80"/>
<line x1="638.50" y1="491.11" x2="641.50" y2="491.11" stroke="#444444" stroke-width="0.80"/>
<rect x="505.50" y="490.00" width="133.00" height="98.00" fill="none" stroke="#333333" stroke-width="1"/>
<text transform="translate(644.70,591.90) scale(1.087,1)" style="font-family:'Liberation Sans',sans-serif;font-size:13.70px;" fill="#000">0.0</text>
<text transform="translate(644.70,560.07) scale(1.095,1)" style="font-family:'Liberation Sans',sans-serif;font-size:13.70px;" fill="#000">0.2</text>
<text transform="translate(644.71,528.24) scale(1.078,1)" style="font-family:'Liberation Sans',sans-serif;font-size:13.70px;" fill="#000">0.4</text>
<text transform="translate(644.70,496.41) scale(1.095,1)" style="font-family:'Liberation Sans',sans-serif;font-size:13.70px;" fill="#000">0.6</text>
<text transform="translate(493.46,604.20) scale(1.096,1)" style="font-family:'Liberation Sans',sans-serif;font-size:13.60px;" fill="#000">10</text>
<text transform="translate(510.72,599.00) scale(1.083,1)" style="font-family:'Liberation Sans',sans-serif;font-size:10.00px;" fill="#000">0</text>
<text transform="translate(559.96,604.20) scale(1.096,1)" style="font-family:'Liberation Sans',sans-serif;font-size:13.60px;" fill="#000">10</text>
<text transform="translate(576.87,599.00) scale(0.977,1)" style="font-family:'Liberation Sans',sans-serif;font-size:10.00px;" fill="#000">1</text>
<text transform="translate(626.46,604.20) scale(1.096,1)" style="font-family:'Liberation Sans',sans-serif;font-size:13.60px;" fill="#000">10</text>
<text transform="translate(643.58,599.00) scale(1.130,1)" style="font-family:'Liberation Sans',sans-serif;font-size:10.00px;" fill="#000">2</text>
<text transform="translate(569.47,486.40) scale(1.000,1)" style="font-family:'Liberation Sans',sans-serif;font-size:13.00px;font-style:italic;" fill="#000">r</text>
<text transform="translate(119.85,15.30) scale(1.030,1)" style="font-family:'Liberation Sans',sans-serif;font-size:16.00px;" fill="#000">non hierarchical</text>
<text transform="translate(494.14,15.30) scale(1.032,1)" style="font-family:'Liberation Sans',sans-serif;font-size:16.00px;" fill="#000">hierarchical</text>
<text transform="translate(14.60,38.60) scale(0.976,1)" style="font-family:'Liberation Sans',sans-serif;font-size:20.50px;font-weight:bold;" fill="#000">a</text>
<text transform="translate(362.96,38.30) scale(1.056,1)" style="font-family:'Liberation Sans',sans-serif;font-size:19.50px;font-weight:bold;" fill="#000">b</text>
<text transform="translate(15.66,355.50) scale(1.025,1)" style="font-family:'Liberation Sans',sans-serif;font-size:20.50px;font-weight:bold;" fill="#000">c</text>
<text transform="translate(364.23,354.60) scale(0.985,1)" style="font-family:'Liberation Sans',sans-serif;font-size:19.50px;font-weight:bold;" fill="#000">d</text>
<text transform="translate(170.60,45.90) scale(0.938,1)" style="font-family:'Liberation Sans',sans-serif;font-size:16.00px;font-style:italic;" fill="#000">k</text>
<text transform="translate(178.09,45.90) scale(1.012,1)" style="font-family:'Liberation Sans',sans-serif;font-size:16.00px;" fill="#000">=1.5</text>
<text transform="translate(516.60,46.00) scale(0.938,1)" style="font-family:'Liberation Sans',sans-serif;font-size:16.00px;font-style:italic;" fill="#000">k</text>
<text transform="translate(524.08,46.00) scale(1.022,1)" style="font-family:'Liberation Sans',sans-serif;font-size:16.00px;" fill="#000">=1.5</text>
<text transform="translate(171.50,365.40) scale(0.938,1)" style="font-family:'Liberation Sans',sans-serif;font-size:16.00px;font-style:italic;" fill="#000">k</text>
<text transform="translate(178.53,365.40) scale(1.085,1)" style="font-family:'Liberation Sans',sans-serif;font-size:16.00px;" fill="#000">=4</text>
<text transform="translate(530.00,365.60) scale(0.938,1)" style="font-family:'Liberation Sans',sans-serif;font-size:16.00px;font-style:italic;" fill="#000">k</text>
<text transform="translate(537.07,365.60) scale(1.038,1)" style="font-family:'Liberation Sans',sans-serif;font-size:16.00px;" fill="#000">=4</text>
<g transform="translate(19.75,170.65) rotate(-90)">
<text transform="translate(-32.81,0.00) scale(0.924,1)" style="font-family:'Liberation Sans',sans-serif;font-size:16.50px;font-style:italic;" fill="#000">F</text>
<text transform="translate(-22.21,2.40) scale(1.054,1)" style="font-family:'Liberation Sans',sans-serif;font-size:11.50px;font-style:italic;" fill="#000">q</text>
<text transform="translate(-14.40,0.80) scale(0.862,1)" style="font-family:'Liberation Sans',sans-serif;font-size:16.50px;" fill="#000">(</text>
<text transform="translate(-8.45,0.00) scale(1.212,1)" style="font-family:'Liberation Sans',sans-serif;font-size:16.50px;font-style:italic;" fill="#000">r</text>
<text transform="translate(-0.29,0.80) scale(0.862,1)" style="font-family:'Liberation Sans',sans-serif;font-size:16.50px;" fill="#000">)</text>
<text transform="translate(7.45,1.60) scale(1.126,1)" style="font-family:'Liberation Sans',sans-serif;font-size:16.50px;" fill="#000">/</text>
<text transform="translate(16.22,0.00) scale(0.866,1)" style="font-family:'Liberation Sans',sans-serif;font-size:16.50px;font-style:italic;" fill="#000">F</text>
<text transform="translate(19.20,-11.60) scale(0.909,1)" style="font-family:'Liberation Sans',sans-serif;font-size:11.00px;" fill="#000">~</text>
<text transform="translate(25.44,2.40) scale(1.054,1)" style="font-family:'Liberation Sans',sans-serif;font-size:11.50px;font-style:italic;" fill="#000">q</text>
</g>
<g transform="translate(147.90,219.50) rotate(-90)">
<text transform="translate(-25.61,0.00) scale(1.049,1)" style="font-family:'Liberation Sans',sans-serif;font-size:13.80px;" fill="#000">local</text>
<text transform="translate(9.08,0.00) scale(1.008,1)" style="font-family:'Liberation Sans',sans-serif;font-size:13.80px;font-style:italic;" fill="#000">H</text>
<text transform="translate(19.52,2.60) scale(0.942,1)" style="font-family:'Liberation Sans',sans-serif;font-size:9.80px;font-style:italic;" fill="#000">q</text>
</g>
<g transform="translate(369.75,170.65) rotate(-90)">
<text transform="translate(-32.81,0.00) scale(0.924,1)" style="font-family:'Liberation Sans',sans-serif;font-size:16.50px;font-style:italic;" fill="#000">F</text>
<text transform="translate(-22.21,2.40) scale(1.054,1)" style="font-family:'Liberation Sans',sans-serif;font-size:11.50px;font-style:italic;" fill="#000">q</text>
<text transform="translate(-14.40,0.80) scale(0.862,1)" style="font-family:'Liberation Sans',sans-serif;font-size:16.50px;" fill="#000">(</text>
<text transform="translate(-8.45,0.00) scale(1.212,1)" style="font-family:'Liberation Sans',sans-serif;font-size:16.50px;font-style:italic;" fill="#000">r</text>
<text transform="translate(-0.29,0.80) scale(0.862,1)" style="font-family:'Liberation Sans',sans-serif;font-size:16.50px;" fill="#000">)</text>
<text transform="translate(7.45,1.60) scale(1.126,1)" style="font-family:'Liberation Sans',sans-serif;font-size:16.50px;" fill="#000">/</text>
<text transform="translate(16.22,0.00) scale(0.866,1)" style="font-family:'Liberation Sans',sans-serif;font-size:16.50px;font-style:italic;" fill="#000">F</text>
<text transform="translate(19.20,-11.60) scale(0.909,1)" style="font-family:'Liberation Sans',sans-serif;font-size:11.00px;" fill="#000">~</text>
<text transform="translate(25.44,2.40) scale(1.054,1)" style="font-family:'Liberation Sans',sans-serif;font-size:11.50px;font-style:italic;" fill="#000">q</text>
</g>
<g transform="translate(497.90,219.50) rotate(-90)">
<text transform="translate(-25.61,0.00) scale(1.049,1)" style="font-family:'Liberation Sans',sans-serif;font-size:13.80px;" fill="#000">local</text>
<text transform="translate(9.08,0.00) scale(1.008,1)" style="font-family:'Liberation Sans',sans-serif;font-size:13.80px;font-style:italic;" fill="#000">H</text>
<text transform="translate(19.52,2.60) scale(0.942,1)" style="font-family:'Liberation Sans',sans-serif;font-size:9.80px;font-style:italic;" fill="#000">q</text>
</g>
<g transform="translate(19.75,490.15) rotate(-90)">
<text transform="translate(-32.81,0.00) scale(0.924,1)" style="font-family:'Liberation Sans',sans-serif;font-size:16.50px;font-style:italic;" fill="#000">F</text>
<text transform="translate(-22.21,2.40) scale(1.054,1)" style="font-family:'Liberation Sans',sans-serif;font-size:11.50px;font-style:italic;" fill="#000">q</text>
<text transform="translate(-14.40,0.80) scale(0.862,1)" style="font-family:'Liberation Sans',sans-serif;font-size:16.50px;" fill="#000">(</text>
<text transform="translate(-8.45,0.00) scale(1.212,1)" style="font-family:'Liberation Sans',sans-serif;font-size:16.50px;font-style:italic;" fill="#000">r</text>
<text transform="translate(-0.29,0.80) scale(0.862,1)" style="font-family:'Liberation Sans',sans-serif;font-size:16.50px;" fill="#000">)</text>
<text transform="translate(7.45,1.60) scale(1.126,1)" style="font-family:'Liberation Sans',sans-serif;font-size:16.50px;" fill="#000">/</text>
<text transform="translate(16.22,0.00) scale(0.866,1)" style="font-family:'Liberation Sans',sans-serif;font-size:16.50px;font-style:italic;" fill="#000">F</text>
<text transform="translate(19.20,-11.60) scale(0.909,1)" style="font-family:'Liberation Sans',sans-serif;font-size:11.00px;" fill="#000">~</text>
<text transform="translate(25.44,2.40) scale(1.054,1)" style="font-family:'Liberation Sans',sans-serif;font-size:11.50px;font-style:italic;" fill="#000">q</text>
</g>
<g transform="translate(147.90,539.00) rotate(-90)">
<text transform="translate(-25.61,0.00) scale(1.049,1)" style="font-family:'Liberation Sans',sans-serif;font-size:13.80px;" fill="#000">local</text>
<text transform="translate(9.08,0.00) scale(1.008,1)" style="font-family:'Liberation Sans',sans-serif;font-size:13.80px;font-style:italic;" fill="#000">H</text>
<text transform="translate(19.52,2.60) scale(0.942,1)" style="font-family:'Liberation Sans',sans-serif;font-size:9.80px;font-style:italic;" fill="#000">q</text>
</g>
<g transform="translate(369.75,490.15) rotate(-90)">
<text transform="translate(-32.81,0.00) scale(0.924,1)" style="font-family:'Liberation Sans',sans-serif;font-size:16.50px;font-style:italic;" fill="#000">F</text>
<text transform="translate(-22.21,2.40) scale(1.054,1)" style="font-family:'Liberation Sans',sans-serif;font-size:11.50px;font-style:italic;" fill="#000">q</text>
<text transform="translate(-14.40,0.80) scale(0.862,1)" style="font-family:'Liberation Sans',sans-serif;font-size:16.50px;" fill="#000">(</text>
<text transform="translate(-8.45,0.00) scale(1.212,1)" style="font-family:'Liberation Sans',sans-serif;font-size:16.50px;font-style:italic;" fill="#000">r</text>
<text transform="translate(-0.29,0.80) scale(0.862,1)" style="font-family:'Liberation Sans',sans-serif;font-size:16.50px;" fill="#000">)</text>
<text transform="translate(7.45,1.60) scale(1.126,1)" style="font-family:'Liberation Sans',sans-serif;font-size:16.50px;" fill="#000">/</text>
<text transform="translate(16.22,0.00) scale(0.866,1)" style="font-family:'Liberation Sans',sans-serif;font-size:16.50px;font-style:italic;" fill="#000">F</text>
<text transform="translate(19.20,-11.60) scale(0.909,1)" style="font-family:'Liberation Sans',sans-serif;font-size:11.00px;" fill="#000">~</text>
<text transform="translate(25.44,2.40) scale(1.054,1)" style="font-family:'Liberation Sans',sans-serif;font-size:11.50px;font-style:italic;" fill="#000">q</text>
</g>
<g transform="translate(497.90,539.00) rotate(-90)">
<text transform="translate(-25.61,0.00) scale(1.049,1)" style="font-family:'Liberation Sans',sans-serif;font-size:13.80px;" fill="#000">local</text>
<text transform="translate(9.08,0.00) scale(1.008,1)" style="font-family:'Liberation Sans',sans-serif;font-size:13.80px;font-style:italic;" fill="#000">H</text>
<text transform="translate(19.52,2.60) scale(0.942,1)" style="font-family:'Liberation Sans',sans-serif;font-size:9.80px;font-style:italic;" fill="#000">q</text>
</g>
<text transform="translate(73.26,128.20) scale(1.096,1)" style="font-family:'Liberation Sans',sans-serif;font-size:16.50px;font-style:italic;" fill="#000">q</text>
<text transform="translate(87.48,127.90) scale(1.361,1)" style="font-family:'Liberation Sans',sans-serif;font-size:16.50px;" fill="#000">=</text>
<text transform="translate(104.35,128.20) scale(1.146,1)" style="font-family:'Liberation Sans',sans-serif;font-size:16.50px;" fill="#000">9</text>
<text transform="translate(73.26,267.80) scale(1.096,1)" style="font-family:'Liberation Sans',sans-serif;font-size:16.50px;font-style:italic;" fill="#000">q</text>
<text transform="translate(87.48,267.50) scale(1.361,1)" style="font-family:'Liberation Sans',sans-serif;font-size:16.50px;" fill="#000">=</text>
<text transform="translate(104.59,267.80) scale(1.071,1)" style="font-family:'Liberation Sans',sans-serif;font-size:16.50px;" fill="#000">1</text>
<text transform="translate(423.66,68.00) scale(1.096,1)" style="font-family:'Liberation Sans',sans-serif;font-size:16.50px;font-style:italic;" fill="#000">q</text>
<text transform="translate(437.88,67.70) scale(1.361,1)" style="font-family:'Liberation Sans',sans-serif;font-size:16.50px;" fill="#000">=</text>
<text transform="translate(454.75,68.00) scale(1.146,1)" style="font-family:'Liberation Sans',sans-serif;font-size:16.50px;" fill="#000">9</text>
<text transform="translate(423.66,150.40) scale(1.096,1)" style="font-family:'Liberation Sans',sans-serif;font-size:16.50px;font-style:italic;" fill="#000">q</text>
<text transform="translate(437.88,150.10) scale(1.361,1)" style="font-family:'Liberation Sans',sans-serif;font-size:16.50px;" fill="#000">=</text>
<text transform="translate(454.99,150.40) scale(1.071,1)" style="font-family:'Liberation Sans',sans-serif;font-size:16.50px;" fill="#000">1</text>
<text transform="translate(73.26,447.30) scale(1.096,1)" style="font-family:'Liberation Sans',sans-serif;font-size:16.50px;font-style:italic;" fill="#000">q</text>
<text transform="translate(87.48,447.00) scale(1.361,1)" style="font-family:'Liberation Sans',sans-serif;font-size:16.50px;" fill="#000">=</text>
<text transform="translate(104.35,447.30) scale(1.146,1)" style="font-family:'Liberation Sans',sans-serif;font-size:16.50px;" fill="#000">9</text>
<text transform="translate(73.26,586.90) scale(1.096,1)" style="font-family:'Liberation Sans',sans-serif;font-size:16.50px;font-style:italic;" fill="#000">q</text>
<text transform="translate(87.48,586.60) scale(1.361,1)" style="font-family:'Liberation Sans',sans-serif;font-size:16.50px;" fill="#000">=</text>
<text transform="translate(104.59,586.90) scale(1.071,1)" style="font-family:'Liberation Sans',sans-serif;font-size:16.50px;" fill="#000">1</text>
<text transform="translate(423.26,403.20) scale(1.096,1)" style="font-family:'Liberation Sans',sans-serif;font-size:16.50px;font-style:italic;" fill="#000">q</text>
<text transform="translate(437.48,402.90) scale(1.361,1)" style="font-family:'Liberation Sans',sans-serif;font-size:16.50px;" fill="#000">=</text>
<text transform="translate(454.35,403.20) scale(1.146,1)" style="font-family:'Liberation Sans',sans-serif;font-size:16.50px;" fill="#000">9</text>
<text transform="translate(423.26,586.70) scale(1.096,1)" style="font-family:'Liberation Sans',sans-serif;font-size:16.50px;font-style:italic;" fill="#000">q</text>
<text transform="translate(437.48,586.40) scale(1.361,1)" style="font-family:'Liberation Sans',sans-serif;font-size:16.50px;" fill="#000">=</text>
<text transform="translate(454.59,586.70) scale(1.071,1)" style="font-family:'Liberation Sans',sans-serif;font-size:16.50px;" fill="#000">1</text>
<text transform="translate(158.77,188.00) scale(1.096,1)" style="font-family:'Liberation Sans',sans-serif;font-size:13.04px;font-style:italic;" fill="#000">q</text>
<text transform="translate(170.01,187.76) scale(1.361,1)" style="font-family:'Liberation Sans',sans-serif;font-size:13.04px;" fill="#000">=</text>
<text transform="translate(183.52,188.00) scale(1.071,1)" style="font-family:'Liberation Sans',sans-serif;font-size:13.04px;" fill="#000">1</text>
<text transform="translate(158.47,243.40) scale(1.096,1)" style="font-family:'Liberation Sans',sans-serif;font-size:13.04px;font-style:italic;" fill="#000">q</text>
<text transform="translate(169.71,243.16) scale(1.361,1)" style="font-family:'Liberation Sans',sans-serif;font-size:13.04px;" fill="#000">=</text>
<text transform="translate(183.04,243.40) scale(1.146,1)" style="font-family:'Liberation Sans',sans-serif;font-size:13.04px;" fill="#000">9</text>
<text transform="translate(508.87,220.00) scale(1.096,1)" style="font-family:'Liberation Sans',sans-serif;font-size:13.04px;font-style:italic;" fill="#000">q</text>
<text transform="translate(520.11,219.76) scale(1.361,1)" style="font-family:'Liberation Sans',sans-serif;font-size:13.04px;" fill="#000">=</text>
<text transform="translate(533.62,220.00) scale(1.071,1)" style="font-family:'Liberation Sans',sans-serif;font-size:13.04px;" fill="#000">1</text>
<text transform="translate(508.87,265.60) scale(1.096,1)" style="font-family:'Liberation Sans',sans-serif;font-size:13.04px;font-style:italic;" fill="#000">q</text>
<text transform="translate(520.11,265.36) scale(1.361,1)" style="font-family:'Liberation Sans',sans-serif;font-size:13.04px;" fill="#000">=</text>
<text transform="translate(533.44,265.60) scale(1.146,1)" style="font-family:'Liberation Sans',sans-serif;font-size:13.04px;" fill="#000">9</text>
<text transform="translate(202.07,507.80) scale(1.096,1)" style="font-family:'Liberation Sans',sans-serif;font-size:13.04px;font-style:italic;" fill="#000">q</text>
<text transform="translate(213.31,507.56) scale(1.361,1)" style="font-family:'Liberation Sans',sans-serif;font-size:13.04px;" fill="#000">=</text>
<text transform="translate(226.82,507.80) scale(1.071,1)" style="font-family:'Liberation Sans',sans-serif;font-size:13.04px;" fill="#000">1</text>
<text transform="translate(158.47,571.30) scale(1.096,1)" style="font-family:'Liberation Sans',sans-serif;font-size:13.04px;font-style:italic;" fill="#000">q</text>
<text transform="translate(169.71,571.06) scale(1.361,1)" style="font-family:'Liberation Sans',sans-serif;font-size:13.04px;" fill="#000">=</text>
<text transform="translate(183.04,571.30) scale(1.146,1)" style="font-family:'Liberation Sans',sans-serif;font-size:13.04px;" fill="#000">9</text>
<text transform="translate(508.87,504.60) scale(1.096,1)" style="font-family:'Liberation Sans',sans-serif;font-size:13.04px;font-style:italic;" fill="#000">q</text>
<text transform="translate(520.11,504.36) scale(1.361,1)" style="font-family:'Liberation Sans',sans-serif;font-size:13.04px;" fill="#000">=</text>
<text transform="translate(533.62,504.60) scale(1.071,1)" style="font-family:'Liberation Sans',sans-serif;font-size:13.04px;" fill="#000">1</text>
<text transform="translate(508.87,583.40) scale(1.096,1)" style="font-family:'Liberation Sans',sans-serif;font-size:13.04px;font-style:italic;" fill="#000">q</text>
<text transform="translate(520.11,583.16) scale(1.361,1)" style="font-family:'Liberation Sans',sans-serif;font-size:13.04px;" fill="#000">=</text>
<text transform="translate(533.44,583.40) scale(1.146,1)" style="font-family:'Liberation Sans',sans-serif;font-size:13.04px;" fill="#000">9</text></svg>
</body></html>
